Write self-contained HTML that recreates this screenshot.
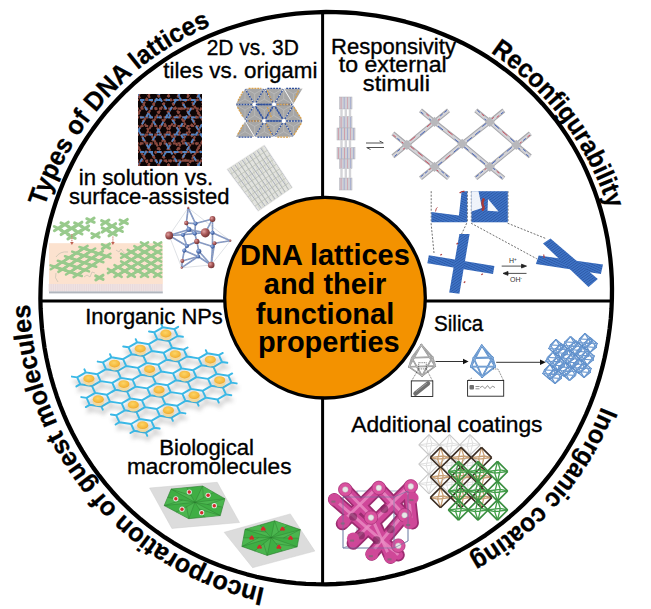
<!DOCTYPE html>
<html><head><meta charset="utf-8">
<style>
html,body{margin:0;padding:0;background:#fff;width:651px;height:609px;overflow:hidden}
svg{display:block}
.lbl{font-family:"Liberation Sans",sans-serif;font-size:22px;fill:#000;stroke:#000;stroke-width:0.35px}
.cur{font-family:"Liberation Sans",sans-serif;font-weight:bold;font-size:26px;fill:#000;stroke:#000;stroke-width:0.3px}
.ctr{font-family:"Liberation Sans",sans-serif;font-weight:bold;font-size:29px;fill:#000}
</style></head>
<body>
<svg width="651" height="609" viewBox="0 0 651 609">
<defs>
  <path id="arc" d="M 622 298.5 A 296 296 0 1 1 30 298.5 A 296 296 0 1 1 622 298.5"/>
</defs>
<rect width="651" height="609" fill="#fff"/>
<!-- IMAGES -->
<g><clipPath id="c1"><rect x="138" y="94" width="64" height="72"/></clipPath>
<rect x="138" y="94" width="64" height="72" fill="#0c0505"/>
<filter id="bl05"><feGaussianBlur stdDeviation="0.45"/></filter><g clip-path="url(#c1)"><g filter="url(#bl05)">
<g stroke="#c86a5c" stroke-width="2.2" stroke-dasharray="3 1.6" opacity="0.68"><line x1="21" y1="-21.2" x2="261" y2="-21.2"/><line x1="21" y1="-12.6" x2="261" y2="-12.6"/><line x1="21" y1="-3.9" x2="261" y2="-3.9"/><line x1="21" y1="4.7" x2="261" y2="4.7"/><line x1="21" y1="13.4" x2="261" y2="13.4"/><line x1="21" y1="22.1" x2="261" y2="22.1"/><line x1="21" y1="30.7" x2="261" y2="30.7"/><line x1="21" y1="39.4" x2="261" y2="39.4"/><line x1="21" y1="48" x2="261" y2="48"/><line x1="21" y1="56.7" x2="261" y2="56.7"/><line x1="21" y1="65.4" x2="261" y2="65.4"/><line x1="21" y1="74" x2="261" y2="74"/><line x1="21" y1="82.7" x2="261" y2="82.7"/><line x1="21" y1="91.3" x2="261" y2="91.3"/><line x1="21" y1="100" x2="261" y2="100"/><line x1="21" y1="108.7" x2="261" y2="108.7"/><line x1="21" y1="117.3" x2="261" y2="117.3"/><line x1="21" y1="126" x2="261" y2="126"/><line x1="21" y1="134.6" x2="261" y2="134.6"/><line x1="21" y1="143.3" x2="261" y2="143.3"/><line x1="21" y1="152" x2="261" y2="152"/><line x1="21" y1="160.6" x2="261" y2="160.6"/><line x1="21" y1="169.3" x2="261" y2="169.3"/><line x1="21" y1="177.9" x2="261" y2="177.9"/><line x1="21" y1="186.6" x2="261" y2="186.6"/><line x1="21" y1="195.3" x2="261" y2="195.3"/><line x1="21" y1="203.9" x2="261" y2="203.9"/><line x1="21" y1="212.6" x2="261" y2="212.6"/><line x1="21" y1="221.2" x2="261" y2="221.2"/><line x1="186" y1="-64.5" x2="306" y2="143.3"/><line x1="178.5" y1="-60.2" x2="298.5" y2="147.6"/><line x1="171" y1="-55.9" x2="291" y2="152"/><line x1="163.5" y1="-51.6" x2="283.5" y2="156.3"/><line x1="156" y1="-47.2" x2="276" y2="160.6"/><line x1="148.5" y1="-42.9" x2="268.5" y2="165"/><line x1="141" y1="-38.6" x2="261" y2="169.3"/><line x1="133.5" y1="-34.2" x2="253.5" y2="173.6"/><line x1="126" y1="-29.9" x2="246" y2="177.9"/><line x1="118.5" y1="-25.6" x2="238.5" y2="182.3"/><line x1="111" y1="-21.2" x2="231" y2="186.6"/><line x1="103.5" y1="-16.9" x2="223.5" y2="190.9"/><line x1="96" y1="-12.6" x2="216" y2="195.3"/><line x1="88.5" y1="-8.3" x2="208.5" y2="199.6"/><line x1="81" y1="-3.9" x2="201" y2="203.9"/><line x1="73.5" y1="0.4" x2="193.5" y2="208.3"/><line x1="66" y1="4.7" x2="186" y2="212.6"/><line x1="58.5" y1="9.1" x2="178.5" y2="216.9"/><line x1="51" y1="13.4" x2="171" y2="221.2"/><line x1="43.5" y1="17.7" x2="163.5" y2="225.6"/><line x1="36" y1="22.1" x2="156" y2="229.9"/><line x1="28.5" y1="26.4" x2="148.5" y2="234.2"/><line x1="21" y1="30.7" x2="141" y2="238.6"/><line x1="13.5" y1="35" x2="133.5" y2="242.9"/><line x1="6" y1="39.4" x2="126" y2="247.2"/><line x1="-1.5" y1="43.7" x2="118.5" y2="251.6"/><line x1="-9" y1="48" x2="111" y2="255.9"/><line x1="-16.5" y1="52.4" x2="103.5" y2="260.2"/><line x1="-24" y1="56.7" x2="96" y2="264.5"/><line x1="302.2" y1="54.5" x2="182.3" y2="262.4"/><line x1="294.8" y1="50.2" x2="174.8" y2="258"/><line x1="287.2" y1="45.9" x2="167.3" y2="253.7"/><line x1="279.8" y1="41.5" x2="159.8" y2="249.4"/><line x1="272.2" y1="37.2" x2="152.3" y2="245.1"/><line x1="264.8" y1="32.9" x2="144.8" y2="240.7"/><line x1="257.2" y1="28.6" x2="137.3" y2="236.4"/><line x1="249.7" y1="24.2" x2="129.8" y2="232.1"/><line x1="242.2" y1="19.9" x2="122.3" y2="227.7"/><line x1="234.7" y1="15.6" x2="114.8" y2="223.4"/><line x1="227.2" y1="11.2" x2="107.3" y2="219.1"/><line x1="219.7" y1="6.9" x2="99.8" y2="214.7"/><line x1="212.2" y1="2.6" x2="92.3" y2="210.4"/><line x1="204.7" y1="-1.8" x2="84.8" y2="206.1"/><line x1="197.2" y1="-6.1" x2="77.3" y2="201.8"/><line x1="189.7" y1="-10.4" x2="69.8" y2="197.4"/><line x1="182.2" y1="-14.7" x2="62.3" y2="193.1"/><line x1="174.7" y1="-19.1" x2="54.8" y2="188.8"/><line x1="167.2" y1="-23.4" x2="47.3" y2="184.4"/><line x1="159.7" y1="-27.7" x2="39.8" y2="180.1"/><line x1="152.2" y1="-32.1" x2="32.3" y2="175.8"/><line x1="144.7" y1="-36.4" x2="24.8" y2="171.4"/><line x1="137.2" y1="-40.7" x2="17.3" y2="167.1"/><line x1="129.7" y1="-45.1" x2="9.8" y2="162.8"/><line x1="122.2" y1="-49.4" x2="2.3" y2="158.5"/><line x1="114.7" y1="-53.7" x2="-5.2" y2="154.1"/><line x1="107.2" y1="-58" x2="-12.7" y2="149.8"/><line x1="99.7" y1="-62.4" x2="-20.2" y2="145.5"/><line x1="92.2" y1="-66.7" x2="-27.7" y2="141.1"/></g>
<g stroke="#4a90dc" stroke-width="1.8" stroke-dasharray="4.5 4" opacity="0.85"><line x1="21" y1="-21.2" x2="261" y2="-21.2"/><line x1="21" y1="-3.9" x2="261" y2="-3.9"/><line x1="21" y1="13.4" x2="261" y2="13.4"/><line x1="21" y1="30.7" x2="261" y2="30.7"/><line x1="21" y1="48" x2="261" y2="48"/><line x1="21" y1="65.4" x2="261" y2="65.4"/><line x1="21" y1="82.7" x2="261" y2="82.7"/><line x1="21" y1="100" x2="261" y2="100"/><line x1="21" y1="117.3" x2="261" y2="117.3"/><line x1="21" y1="134.6" x2="261" y2="134.6"/><line x1="21" y1="152" x2="261" y2="152"/><line x1="21" y1="169.3" x2="261" y2="169.3"/><line x1="21" y1="186.6" x2="261" y2="186.6"/><line x1="21" y1="203.9" x2="261" y2="203.9"/><line x1="21" y1="221.2" x2="261" y2="221.2"/><line x1="186" y1="-64.5" x2="306" y2="143.3"/><line x1="171" y1="-55.9" x2="291" y2="152"/><line x1="156" y1="-47.2" x2="276" y2="160.6"/><line x1="141" y1="-38.6" x2="261" y2="169.3"/><line x1="126" y1="-29.9" x2="246" y2="177.9"/><line x1="111" y1="-21.2" x2="231" y2="186.6"/><line x1="96" y1="-12.6" x2="216" y2="195.3"/><line x1="81" y1="-3.9" x2="201" y2="203.9"/><line x1="66" y1="4.7" x2="186" y2="212.6"/><line x1="51" y1="13.4" x2="171" y2="221.2"/><line x1="36" y1="22.1" x2="156" y2="229.9"/><line x1="21" y1="30.7" x2="141" y2="238.6"/><line x1="6" y1="39.4" x2="126" y2="247.2"/><line x1="-9" y1="48" x2="111" y2="255.9"/><line x1="-24" y1="56.7" x2="96" y2="264.5"/><line x1="302.2" y1="54.5" x2="182.3" y2="262.4"/><line x1="287.2" y1="45.9" x2="167.3" y2="253.7"/><line x1="272.2" y1="37.2" x2="152.3" y2="245.1"/><line x1="257.2" y1="28.6" x2="137.3" y2="236.4"/><line x1="242.2" y1="19.9" x2="122.3" y2="227.7"/><line x1="227.2" y1="11.2" x2="107.3" y2="219.1"/><line x1="212.2" y1="2.6" x2="92.3" y2="210.4"/><line x1="197.2" y1="-6.1" x2="77.3" y2="201.8"/><line x1="182.2" y1="-14.7" x2="62.3" y2="193.1"/><line x1="167.2" y1="-23.4" x2="47.3" y2="184.4"/><line x1="152.2" y1="-32.1" x2="32.3" y2="175.8"/><line x1="137.2" y1="-40.7" x2="17.3" y2="167.1"/><line x1="122.2" y1="-49.4" x2="2.3" y2="158.5"/><line x1="107.2" y1="-58" x2="-12.7" y2="149.8"/><line x1="92.2" y1="-66.7" x2="-27.7" y2="141.1"/></g>
</g></g></g>
<g>
<polygon points="293.4,105.2 284.4,120.7 302.4,120.7" fill="#a6a6a6"/>
<line x1="293.4" y1="115.5" x2="293.4" y2="105.2" stroke="#c4c4c4" stroke-width="0.6"/>
<line x1="293.4" y1="115.5" x2="284.4" y2="120.7" stroke="#c4c4c4" stroke-width="0.6"/>
<line x1="293.4" y1="115.5" x2="302.4" y2="120.7" stroke="#c4c4c4" stroke-width="0.6"/>
<polygon points="245,89.2 236,104.1 254,104.1" fill="#a6a6a6"/>
<line x1="245" y1="99.1" x2="245" y2="89.2" stroke="#c4c4c4" stroke-width="0.6"/>
<line x1="245" y1="99.1" x2="236" y2="104.1" stroke="#c4c4c4" stroke-width="0.6"/>
<line x1="245" y1="99.1" x2="254" y2="104.1" stroke="#c4c4c4" stroke-width="0.6"/>
<polygon points="264.3,121.8 255.3,136.7 273.3,136.7" fill="#a6a6a6"/>
<line x1="264.3" y1="131.7" x2="264.3" y2="121.8" stroke="#c4c4c4" stroke-width="0.6"/>
<line x1="264.3" y1="131.7" x2="255.3" y2="136.7" stroke="#c4c4c4" stroke-width="0.6"/>
<line x1="264.3" y1="131.7" x2="273.3" y2="136.7" stroke="#c4c4c4" stroke-width="0.6"/>
<polygon points="245.7,121.4 263.7,121.4 254.7,136.3" fill="#a6a6a6"/>
<line x1="254.7" y1="126.4" x2="245.7" y2="121.4" stroke="#c4c4c4" stroke-width="0.6"/>
<line x1="254.7" y1="126.4" x2="263.7" y2="121.4" stroke="#c4c4c4" stroke-width="0.6"/>
<line x1="254.7" y1="126.4" x2="254.7" y2="136.3" stroke="#c4c4c4" stroke-width="0.6"/>
<polygon points="283.7,89.2 274.7,104.1 292.7,104.1" fill="#a6a6a6"/>
<line x1="283.7" y1="99.1" x2="283.7" y2="89.2" stroke="#c4c4c4" stroke-width="0.6"/>
<line x1="283.7" y1="99.1" x2="274.7" y2="104.1" stroke="#c4c4c4" stroke-width="0.6"/>
<line x1="283.7" y1="99.1" x2="292.7" y2="104.1" stroke="#c4c4c4" stroke-width="0.6"/>
<polygon points="283.7,121.8 274.7,136.7 292.7,136.7" fill="#a6a6a6"/>
<line x1="283.7" y1="131.7" x2="283.7" y2="121.8" stroke="#c4c4c4" stroke-width="0.6"/>
<line x1="283.7" y1="131.7" x2="274.7" y2="136.7" stroke="#c4c4c4" stroke-width="0.6"/>
<line x1="283.7" y1="131.7" x2="292.7" y2="136.7" stroke="#c4c4c4" stroke-width="0.6"/>
<polygon points="245,121.8 236,136.7 254,136.7" fill="#a6a6a6"/>
<line x1="245" y1="131.7" x2="245" y2="121.8" stroke="#c4c4c4" stroke-width="0.6"/>
<line x1="245" y1="131.7" x2="236" y2="136.7" stroke="#c4c4c4" stroke-width="0.6"/>
<line x1="245" y1="131.7" x2="254" y2="136.7" stroke="#c4c4c4" stroke-width="0.6"/>
<polygon points="254.7,105.2 245.7,120.7 263.7,120.7" fill="#a6a6a6"/>
<line x1="254.7" y1="115.5" x2="254.7" y2="105.2" stroke="#c4c4c4" stroke-width="0.6"/>
<line x1="254.7" y1="115.5" x2="245.7" y2="120.7" stroke="#c4c4c4" stroke-width="0.6"/>
<line x1="254.7" y1="115.5" x2="263.7" y2="120.7" stroke="#c4c4c4" stroke-width="0.6"/>
<polygon points="265,121.4 283,121.4 274,136.3" fill="#a6a6a6"/>
<line x1="274" y1="126.4" x2="265" y2="121.4" stroke="#c4c4c4" stroke-width="0.6"/>
<line x1="274" y1="126.4" x2="283" y2="121.4" stroke="#c4c4c4" stroke-width="0.6"/>
<line x1="274" y1="126.4" x2="274" y2="136.3" stroke="#c4c4c4" stroke-width="0.6"/>
<polygon points="265,88.8 283,88.8 274,103.7" fill="#a6a6a6"/>
<line x1="274" y1="93.8" x2="265" y2="88.8" stroke="#c4c4c4" stroke-width="0.6"/>
<line x1="274" y1="93.8" x2="283" y2="88.8" stroke="#c4c4c4" stroke-width="0.6"/>
<line x1="274" y1="93.8" x2="274" y2="103.7" stroke="#c4c4c4" stroke-width="0.6"/>
<polygon points="274.7,104.8 292.7,104.8 283.7,120.3" fill="#a6a6a6"/>
<line x1="283.7" y1="110" x2="274.7" y2="104.8" stroke="#c4c4c4" stroke-width="0.6"/>
<line x1="283.7" y1="110" x2="292.7" y2="104.8" stroke="#c4c4c4" stroke-width="0.6"/>
<line x1="283.7" y1="110" x2="283.7" y2="120.3" stroke="#c4c4c4" stroke-width="0.6"/>
<polygon points="274,105.2 265,120.7 283,120.7" fill="#a6a6a6"/>
<line x1="274" y1="115.5" x2="274" y2="105.2" stroke="#c4c4c4" stroke-width="0.6"/>
<line x1="274" y1="115.5" x2="265" y2="120.7" stroke="#c4c4c4" stroke-width="0.6"/>
<line x1="274" y1="115.5" x2="283" y2="120.7" stroke="#c4c4c4" stroke-width="0.6"/>
<polygon points="284.4,121.4 302.4,121.4 293.4,136.3" fill="#a6a6a6"/>
<line x1="293.4" y1="126.4" x2="284.4" y2="121.4" stroke="#c4c4c4" stroke-width="0.6"/>
<line x1="293.4" y1="126.4" x2="302.4" y2="121.4" stroke="#c4c4c4" stroke-width="0.6"/>
<line x1="293.4" y1="126.4" x2="293.4" y2="136.3" stroke="#c4c4c4" stroke-width="0.6"/>
<polygon points="284.4,88.8 302.4,88.8 293.4,103.7" fill="#a6a6a6"/>
<line x1="293.4" y1="93.8" x2="284.4" y2="88.8" stroke="#c4c4c4" stroke-width="0.6"/>
<line x1="293.4" y1="93.8" x2="302.4" y2="88.8" stroke="#c4c4c4" stroke-width="0.6"/>
<line x1="293.4" y1="93.8" x2="293.4" y2="103.7" stroke="#c4c4c4" stroke-width="0.6"/>
<polygon points="264.3,89.2 255.3,104.1 273.3,104.1" fill="#a6a6a6"/>
<line x1="264.3" y1="99.1" x2="264.3" y2="89.2" stroke="#c4c4c4" stroke-width="0.6"/>
<line x1="264.3" y1="99.1" x2="255.3" y2="104.1" stroke="#c4c4c4" stroke-width="0.6"/>
<line x1="264.3" y1="99.1" x2="273.3" y2="104.1" stroke="#c4c4c4" stroke-width="0.6"/>
<polygon points="236,104.8 254,104.8 245,120.3" fill="#a6a6a6"/>
<line x1="245" y1="110" x2="236" y2="104.8" stroke="#c4c4c4" stroke-width="0.6"/>
<line x1="245" y1="110" x2="254" y2="104.8" stroke="#c4c4c4" stroke-width="0.6"/>
<line x1="245" y1="110" x2="245" y2="120.3" stroke="#c4c4c4" stroke-width="0.6"/>
<polygon points="245.7,88.8 263.7,88.8 254.7,103.7" fill="#a6a6a6"/>
<line x1="254.7" y1="93.8" x2="245.7" y2="88.8" stroke="#c4c4c4" stroke-width="0.6"/>
<line x1="254.7" y1="93.8" x2="263.7" y2="88.8" stroke="#c4c4c4" stroke-width="0.6"/>
<line x1="254.7" y1="93.8" x2="254.7" y2="103.7" stroke="#c4c4c4" stroke-width="0.6"/>
<polygon points="255.3,104.8 273.3,104.8 264.3,120.3" fill="#a6a6a6"/>
<line x1="264.3" y1="110" x2="255.3" y2="104.8" stroke="#c4c4c4" stroke-width="0.6"/>
<line x1="264.3" y1="110" x2="273.3" y2="104.8" stroke="#c4c4c4" stroke-width="0.6"/>
<line x1="264.3" y1="110" x2="264.3" y2="120.3" stroke="#c4c4c4" stroke-width="0.6"/>
<line x1="257.1" y1="104.5" x2="272.9" y2="104.5" stroke="#2e4f9c" stroke-width="1.3" stroke-dasharray="2 0.9"/>
<line x1="255.9" y1="106.5" x2="263.8" y2="119.5" stroke="#2e4f9c" stroke-width="1.3" stroke-dasharray="2 0.9"/>
<line x1="253.5" y1="106.5" x2="245.5" y2="119.5" stroke="#2e4f9c" stroke-width="1.3" stroke-dasharray="2 0.9"/>
<line x1="252.2" y1="104.5" x2="236.4" y2="104.5" stroke="#2e4f9c" stroke-width="1.3" stroke-dasharray="2 0.9"/>
<line x1="253.5" y1="102.5" x2="245.5" y2="89.4" stroke="#2e4f9c" stroke-width="1.3" stroke-dasharray="2 0.9"/>
<line x1="255.9" y1="102.5" x2="263.8" y2="89.4" stroke="#2e4f9c" stroke-width="1.3" stroke-dasharray="2 0.9"/>
<circle cx="254.7" cy="104.5" r="2" fill="#fff"/>
<line x1="276.5" y1="104.5" x2="292.3" y2="104.5" stroke="#2e4f9c" stroke-width="1.3" stroke-dasharray="2 0.9"/>
<line x1="275.2" y1="106.5" x2="283.2" y2="119.5" stroke="#2e4f9c" stroke-width="1.3" stroke-dasharray="2 0.9"/>
<line x1="272.8" y1="106.5" x2="264.9" y2="119.5" stroke="#2e4f9c" stroke-width="1.3" stroke-dasharray="2 0.9"/>
<line x1="271.6" y1="104.5" x2="255.8" y2="104.5" stroke="#2e4f9c" stroke-width="1.3" stroke-dasharray="2 0.9"/>
<line x1="272.8" y1="102.5" x2="264.9" y2="89.4" stroke="#2e4f9c" stroke-width="1.3" stroke-dasharray="2 0.9"/>
<line x1="275.2" y1="102.5" x2="283.2" y2="89.4" stroke="#2e4f9c" stroke-width="1.3" stroke-dasharray="2 0.9"/>
<circle cx="274" cy="104.5" r="2" fill="#fff"/>
<line x1="266.8" y1="121" x2="282.6" y2="121" stroke="#2e4f9c" stroke-width="1.3" stroke-dasharray="2 0.9"/>
<line x1="265.6" y1="123.1" x2="273.5" y2="136.1" stroke="#2e4f9c" stroke-width="1.3" stroke-dasharray="2 0.9"/>
<line x1="263.1" y1="123.1" x2="255.2" y2="136.1" stroke="#2e4f9c" stroke-width="1.3" stroke-dasharray="2 0.9"/>
<line x1="261.9" y1="121" x2="246.1" y2="121" stroke="#2e4f9c" stroke-width="1.3" stroke-dasharray="2 0.9"/>
<line x1="263.1" y1="119" x2="255.2" y2="106" stroke="#2e4f9c" stroke-width="1.3" stroke-dasharray="2 0.9"/>
<line x1="265.6" y1="119" x2="273.5" y2="106" stroke="#2e4f9c" stroke-width="1.3" stroke-dasharray="2 0.9"/>
<circle cx="264.3" cy="121" r="2" fill="#fff"/>
<line x1="286.1" y1="121" x2="302" y2="121" stroke="#2e4f9c" stroke-width="1.3" stroke-dasharray="2 0.9"/>
<line x1="284.9" y1="123.1" x2="292.8" y2="136.1" stroke="#2e4f9c" stroke-width="1.3" stroke-dasharray="2 0.9"/>
<line x1="282.5" y1="123.1" x2="274.6" y2="136.1" stroke="#2e4f9c" stroke-width="1.3" stroke-dasharray="2 0.9"/>
<line x1="281.3" y1="121" x2="265.5" y2="121" stroke="#2e4f9c" stroke-width="1.3" stroke-dasharray="2 0.9"/>
<line x1="282.5" y1="119" x2="274.6" y2="106" stroke="#2e4f9c" stroke-width="1.3" stroke-dasharray="2 0.9"/>
<line x1="284.9" y1="119" x2="292.8" y2="106" stroke="#2e4f9c" stroke-width="1.3" stroke-dasharray="2 0.9"/>
<circle cx="283.7" cy="121" r="2" fill="#fff"/>
<line x1="248.6" y1="88.4" x2="261.3" y2="88.4" stroke="#d9a04a" stroke-width="1.3" stroke-dasharray="2 0.9"/>
<line x1="243.1" y1="91.2" x2="237.5" y2="101.7" stroke="#d9a04a" stroke-width="1.3" stroke-dasharray="2 0.9"/>
<line x1="237.5" y1="107.2" x2="243.1" y2="117.2" stroke="#d9a04a" stroke-width="1.3" stroke-dasharray="2 0.9"/>
<line x1="248.6" y1="121" x2="260.8" y2="121" stroke="#d9a04a" stroke-width="1.3" stroke-dasharray="2 0.9"/>
<line x1="276.8" y1="104.5" x2="289.5" y2="104.5" stroke="#d9a04a" stroke-width="1.3" stroke-dasharray="2 0.9"/>
<line x1="267.4" y1="90.6" x2="271.8" y2="101.7" stroke="#d9a04a" stroke-width="1.3" stroke-dasharray="2 0.9"/>
<line x1="267.4" y1="107.2" x2="271.8" y2="118.3" stroke="#d9a04a" stroke-width="1.3" stroke-dasharray="2 0.9"/>
<line x1="243.1" y1="124.9" x2="237.5" y2="134.9" stroke="#d9a04a" stroke-width="1.3" stroke-dasharray="2 0.9"/>
<line x1="277.3" y1="137.1" x2="289.5" y2="137.1" stroke="#d9a04a" stroke-width="1.3" stroke-dasharray="2 0.9"/>
<line x1="293.9" y1="107.2" x2="301.7" y2="119.4" stroke="#d9a04a" stroke-width="1.3" stroke-dasharray="2 0.9"/>
<line x1="293.9" y1="134.9" x2="301.7" y2="122.7" stroke="#d9a04a" stroke-width="1.3" stroke-dasharray="2 0.9"/>
<line x1="266.3" y1="123.8" x2="271.8" y2="134.9" stroke="#d9a04a" stroke-width="1.3" stroke-dasharray="2 0.9"/>
<line x1="298.4" y1="90.6" x2="293.9" y2="101.7" stroke="#d9a04a" stroke-width="1.3" stroke-dasharray="2 0.9"/>
<line x1="267.4" y1="88.4" x2="280.7" y2="88.4" stroke="#2e4f9c" stroke-width="1.3" stroke-dasharray="2 0.9"/>
<line x1="286.2" y1="88.4" x2="299.5" y2="88.4" stroke="#2e4f9c" stroke-width="1.3" stroke-dasharray="2 0.9"/>
<line x1="238.6" y1="137.1" x2="251.9" y2="137.1" stroke="#2e4f9c" stroke-width="1.3" stroke-dasharray="2 0.9"/>
<line x1="257.4" y1="137.1" x2="270.7" y2="137.1" stroke="#2e4f9c" stroke-width="1.3" stroke-dasharray="2 0.9"/>
</g>
<g>
<polygon points="264.3,145.5 292,187.4 258.2,210.8 227.4,169.5" fill="#e2e3de" stroke="#ebebeb" stroke-width="1.5" stroke-linejoin="round"/>
<clipPath id="c3"><polygon points="264.3,145.5 292,187.4 258.2,210.8 227.4,169.5"/></clipPath><g clip-path="url(#c3)">
<line x1="227.4" y1="169.5" x2="258.2" y2="210.8" stroke="#9aa0b0" stroke-width="0.8"/>
<line x1="231.1" y1="167.1" x2="261.6" y2="208.5" stroke="#9aa0b0" stroke-width="0.8"/>
<line x1="234.8" y1="164.7" x2="265" y2="206.1" stroke="#9aa0b0" stroke-width="0.8"/>
<line x1="238.5" y1="162.3" x2="268.3" y2="203.8" stroke="#9aa0b0" stroke-width="0.8"/>
<line x1="242.2" y1="159.9" x2="271.7" y2="201.4" stroke="#9aa0b0" stroke-width="0.8"/>
<line x1="245.9" y1="157.5" x2="275.1" y2="199.1" stroke="#9aa0b0" stroke-width="0.8"/>
<line x1="249.5" y1="155.1" x2="278.5" y2="196.8" stroke="#9aa0b0" stroke-width="0.8"/>
<line x1="253.2" y1="152.7" x2="281.9" y2="194.4" stroke="#9aa0b0" stroke-width="0.8"/>
<line x1="256.9" y1="150.3" x2="285.2" y2="192.1" stroke="#9aa0b0" stroke-width="0.8"/>
<line x1="260.6" y1="147.9" x2="288.6" y2="189.7" stroke="#9aa0b0" stroke-width="0.8"/>
<line x1="264.3" y1="145.5" x2="292" y2="187.4" stroke="#9aa0b0" stroke-width="0.8"/>
<line x1="227.4" y1="169.5" x2="264.3" y2="145.5" stroke="#b4b8aa" stroke-width="0.6"/>
<line x1="230.8" y1="174.1" x2="267.4" y2="150.2" stroke="#b4b8aa" stroke-width="0.6"/>
<line x1="234.2" y1="178.7" x2="270.5" y2="154.8" stroke="#b4b8aa" stroke-width="0.6"/>
<line x1="237.7" y1="183.3" x2="273.5" y2="159.5" stroke="#b4b8aa" stroke-width="0.6"/>
<line x1="241.1" y1="187.9" x2="276.6" y2="164.1" stroke="#b4b8aa" stroke-width="0.6"/>
<line x1="244.5" y1="192.4" x2="279.7" y2="168.8" stroke="#b4b8aa" stroke-width="0.6"/>
<line x1="247.9" y1="197" x2="282.8" y2="173.4" stroke="#b4b8aa" stroke-width="0.6"/>
<line x1="251.4" y1="201.6" x2="285.8" y2="178.1" stroke="#b4b8aa" stroke-width="0.6"/>
<line x1="254.8" y1="206.2" x2="288.9" y2="182.7" stroke="#b4b8aa" stroke-width="0.6"/>
<line x1="258.2" y1="210.8" x2="292" y2="187.4" stroke="#b4b8aa" stroke-width="0.6"/>
<line x1="187.0" y1="140" x2="217.0" y2="215" stroke="#c2c6b8" stroke-width="0.5"/>
<line x1="191.5" y1="140" x2="221.5" y2="215" stroke="#c2c6b8" stroke-width="0.5"/>
<line x1="196.0" y1="140" x2="226.0" y2="215" stroke="#c2c6b8" stroke-width="0.5"/>
<line x1="200.5" y1="140" x2="230.5" y2="215" stroke="#c2c6b8" stroke-width="0.5"/>
<line x1="205.0" y1="140" x2="235.0" y2="215" stroke="#c2c6b8" stroke-width="0.5"/>
<line x1="209.5" y1="140" x2="239.5" y2="215" stroke="#c2c6b8" stroke-width="0.5"/>
<line x1="214.0" y1="140" x2="244.0" y2="215" stroke="#c2c6b8" stroke-width="0.5"/>
<line x1="218.5" y1="140" x2="248.5" y2="215" stroke="#c2c6b8" stroke-width="0.5"/>
<line x1="223.0" y1="140" x2="253.0" y2="215" stroke="#c2c6b8" stroke-width="0.5"/>
<line x1="227.5" y1="140" x2="257.5" y2="215" stroke="#c2c6b8" stroke-width="0.5"/>
<line x1="232.0" y1="140" x2="262.0" y2="215" stroke="#c2c6b8" stroke-width="0.5"/>
<line x1="236.5" y1="140" x2="266.5" y2="215" stroke="#c2c6b8" stroke-width="0.5"/>
<line x1="241.0" y1="140" x2="271.0" y2="215" stroke="#c2c6b8" stroke-width="0.5"/>
<line x1="245.5" y1="140" x2="275.5" y2="215" stroke="#c2c6b8" stroke-width="0.5"/>
<line x1="250.0" y1="140" x2="280.0" y2="215" stroke="#c2c6b8" stroke-width="0.5"/>
<line x1="254.5" y1="140" x2="284.5" y2="215" stroke="#c2c6b8" stroke-width="0.5"/>
<line x1="259.0" y1="140" x2="289.0" y2="215" stroke="#c2c6b8" stroke-width="0.5"/>
<line x1="263.5" y1="140" x2="293.5" y2="215" stroke="#c2c6b8" stroke-width="0.5"/>
<line x1="268.0" y1="140" x2="298.0" y2="215" stroke="#c2c6b8" stroke-width="0.5"/>
<line x1="272.5" y1="140" x2="302.5" y2="215" stroke="#c2c6b8" stroke-width="0.5"/>
<line x1="277.0" y1="140" x2="307.0" y2="215" stroke="#c2c6b8" stroke-width="0.5"/>
<line x1="281.5" y1="140" x2="311.5" y2="215" stroke="#c2c6b8" stroke-width="0.5"/>
<line x1="286.0" y1="140" x2="316.0" y2="215" stroke="#c2c6b8" stroke-width="0.5"/>
<line x1="290.5" y1="140" x2="320.5" y2="215" stroke="#c2c6b8" stroke-width="0.5"/>
<line x1="295.0" y1="140" x2="325.0" y2="215" stroke="#c2c6b8" stroke-width="0.5"/>
<line x1="299.5" y1="140" x2="329.5" y2="215" stroke="#c2c6b8" stroke-width="0.5"/>
<line x1="304.0" y1="140" x2="334.0" y2="215" stroke="#c2c6b8" stroke-width="0.5"/>
<line x1="308.5" y1="140" x2="338.5" y2="215" stroke="#c2c6b8" stroke-width="0.5"/>
<line x1="313.0" y1="140" x2="343.0" y2="215" stroke="#c2c6b8" stroke-width="0.5"/>
</g></g>
<g>
<rect x="49" y="243.2" width="113.8" height="40.8" fill="#fce2cf"/>
<rect x="49" y="284" width="113.8" height="7.4" fill="#efe3e3"/>
<g stroke="#e2cfd2" stroke-width="0.5"><line x1="49.0" y1="284" x2="49.0" y2="291.4"/><line x1="51.2" y1="284" x2="51.2" y2="291.4"/><line x1="53.4" y1="284" x2="53.4" y2="291.4"/><line x1="55.6" y1="284" x2="55.6" y2="291.4"/><line x1="57.8" y1="284" x2="57.8" y2="291.4"/><line x1="60.0" y1="284" x2="60.0" y2="291.4"/><line x1="62.2" y1="284" x2="62.2" y2="291.4"/><line x1="64.4" y1="284" x2="64.4" y2="291.4"/><line x1="66.6" y1="284" x2="66.6" y2="291.4"/><line x1="68.8" y1="284" x2="68.8" y2="291.4"/><line x1="71.0" y1="284" x2="71.0" y2="291.4"/><line x1="73.2" y1="284" x2="73.2" y2="291.4"/><line x1="75.4" y1="284" x2="75.4" y2="291.4"/><line x1="77.6" y1="284" x2="77.6" y2="291.4"/><line x1="79.8" y1="284" x2="79.8" y2="291.4"/><line x1="82.0" y1="284" x2="82.0" y2="291.4"/><line x1="84.2" y1="284" x2="84.2" y2="291.4"/><line x1="86.4" y1="284" x2="86.4" y2="291.4"/><line x1="88.6" y1="284" x2="88.6" y2="291.4"/><line x1="90.8" y1="284" x2="90.8" y2="291.4"/><line x1="93.0" y1="284" x2="93.0" y2="291.4"/><line x1="95.2" y1="284" x2="95.2" y2="291.4"/><line x1="97.4" y1="284" x2="97.4" y2="291.4"/><line x1="99.6" y1="284" x2="99.6" y2="291.4"/><line x1="101.8" y1="284" x2="101.8" y2="291.4"/><line x1="104.0" y1="284" x2="104.0" y2="291.4"/><line x1="106.2" y1="284" x2="106.2" y2="291.4"/><line x1="108.4" y1="284" x2="108.4" y2="291.4"/><line x1="110.6" y1="284" x2="110.6" y2="291.4"/><line x1="112.8" y1="284" x2="112.8" y2="291.4"/><line x1="115.0" y1="284" x2="115.0" y2="291.4"/><line x1="117.2" y1="284" x2="117.2" y2="291.4"/><line x1="119.4" y1="284" x2="119.4" y2="291.4"/><line x1="121.6" y1="284" x2="121.6" y2="291.4"/><line x1="123.8" y1="284" x2="123.8" y2="291.4"/><line x1="126.0" y1="284" x2="126.0" y2="291.4"/><line x1="128.2" y1="284" x2="128.2" y2="291.4"/><line x1="130.4" y1="284" x2="130.4" y2="291.4"/><line x1="132.6" y1="284" x2="132.6" y2="291.4"/><line x1="134.8" y1="284" x2="134.8" y2="291.4"/><line x1="137.0" y1="284" x2="137.0" y2="291.4"/><line x1="139.2" y1="284" x2="139.2" y2="291.4"/><line x1="141.4" y1="284" x2="141.4" y2="291.4"/><line x1="143.6" y1="284" x2="143.6" y2="291.4"/><line x1="145.8" y1="284" x2="145.8" y2="291.4"/><line x1="148.0" y1="284" x2="148.0" y2="291.4"/><line x1="150.2" y1="284" x2="150.2" y2="291.4"/><line x1="152.4" y1="284" x2="152.4" y2="291.4"/><line x1="154.6" y1="284" x2="154.6" y2="291.4"/><line x1="156.8" y1="284" x2="156.8" y2="291.4"/><line x1="159.0" y1="284" x2="159.0" y2="291.4"/><line x1="161.2" y1="284" x2="161.2" y2="291.4"/></g>
<rect x="49" y="291.4" width="113.8" height="2" fill="#b2b6be"/>
<g stroke="#98ca8c" stroke-width="2.5" stroke-linecap="round"><line x1="50.8" y1="269.3" x2="58.8" y2="264.3"/><line x1="50.6" y1="265.4" x2="59" y2="268.2"/><line x1="54.8" y1="266.8" x2="62" y2="262.2"/><line x1="54.8" y1="266.8" x2="62.4" y2="269.4"/><line x1="58.4" y1="271.9" x2="66.4" y2="266.9"/><line x1="58.2" y1="268" x2="66.6" y2="270.8"/><line x1="62.4" y1="269.4" x2="69.6" y2="264.8"/><line x1="62.4" y1="269.4" x2="70" y2="272"/><line x1="66" y1="274.5" x2="74" y2="269.5"/><line x1="65.8" y1="270.6" x2="74.2" y2="273.4"/><line x1="70" y1="272" x2="77.2" y2="267.4"/><line x1="70" y1="272" x2="77.6" y2="274.6"/><line x1="73.6" y1="277.1" x2="81.6" y2="272.1"/><line x1="73.4" y1="273.2" x2="81.8" y2="276"/><line x1="77.6" y1="274.6" x2="84.8" y2="270"/><line x1="58" y1="264.7" x2="66" y2="259.7"/><line x1="57.8" y1="260.8" x2="66.2" y2="263.6"/><line x1="62" y1="262.2" x2="69.2" y2="257.6"/><line x1="62" y1="262.2" x2="69.6" y2="264.8"/><line x1="65.6" y1="267.3" x2="73.6" y2="262.3"/><line x1="65.4" y1="263.4" x2="73.8" y2="266.2"/><line x1="69.6" y1="264.8" x2="76.8" y2="260.2"/><line x1="69.6" y1="264.8" x2="77.2" y2="267.4"/><line x1="73.2" y1="269.9" x2="81.2" y2="264.9"/><line x1="73" y1="266" x2="81.4" y2="268.8"/><line x1="77.2" y1="267.4" x2="84.4" y2="262.8"/><line x1="77.2" y1="267.4" x2="84.8" y2="270"/><line x1="80.8" y1="272.5" x2="88.8" y2="267.5"/><line x1="80.6" y1="268.6" x2="89" y2="271.4"/><line x1="84.8" y1="270" x2="92" y2="265.4"/><line x1="65.2" y1="260.1" x2="73.2" y2="255.1"/><line x1="65" y1="256.2" x2="73.4" y2="259"/><line x1="69.2" y1="257.6" x2="76.4" y2="253"/><line x1="69.2" y1="257.6" x2="76.8" y2="260.2"/><line x1="72.8" y1="262.7" x2="80.8" y2="257.7"/><line x1="72.6" y1="258.8" x2="81" y2="261.6"/><line x1="76.8" y1="260.2" x2="84" y2="255.6"/><line x1="76.8" y1="260.2" x2="84.4" y2="262.8"/><line x1="80.4" y1="265.3" x2="88.4" y2="260.3"/><line x1="80.2" y1="261.4" x2="88.6" y2="264.2"/><line x1="84.4" y1="262.8" x2="91.6" y2="258.2"/><line x1="84.4" y1="262.8" x2="92" y2="265.4"/><line x1="88" y1="267.9" x2="96" y2="262.9"/><line x1="87.8" y1="264" x2="96.2" y2="266.8"/><line x1="92" y1="265.4" x2="99.2" y2="260.8"/><line x1="72.4" y1="255.5" x2="80.4" y2="250.5"/><line x1="72.2" y1="251.6" x2="80.6" y2="254.4"/><line x1="76.4" y1="253" x2="83.6" y2="248.4"/><line x1="76.4" y1="253" x2="84" y2="255.6"/><line x1="80" y1="258.1" x2="88" y2="253.1"/><line x1="79.8" y1="254.2" x2="88.2" y2="257"/><line x1="84" y1="255.6" x2="91.2" y2="251"/><line x1="84" y1="255.6" x2="91.6" y2="258.2"/><line x1="87.6" y1="260.7" x2="95.6" y2="255.7"/><line x1="87.4" y1="256.8" x2="95.8" y2="259.6"/><line x1="91.6" y1="258.2" x2="98.8" y2="253.6"/><line x1="91.6" y1="258.2" x2="99.2" y2="260.8"/><line x1="95.2" y1="263.3" x2="103.2" y2="258.3"/><line x1="95" y1="259.4" x2="103.4" y2="262.2"/><line x1="99.2" y1="260.8" x2="106.4" y2="256.2"/><line x1="79.6" y1="250.9" x2="87.6" y2="245.9"/><line x1="79.4" y1="247" x2="87.8" y2="249.8"/><line x1="83.6" y1="248.4" x2="91.2" y2="251"/><line x1="87.2" y1="253.5" x2="95.2" y2="248.5"/><line x1="87" y1="249.6" x2="95.4" y2="252.4"/><line x1="91.2" y1="251" x2="98.8" y2="253.6"/><line x1="94.8" y1="256.1" x2="102.8" y2="251.1"/><line x1="94.6" y1="252.2" x2="103" y2="255"/><line x1="98.8" y1="253.6" x2="106.4" y2="256.2"/><line x1="102.4" y1="258.7" x2="110.4" y2="253.7"/><line x1="102.2" y1="254.8" x2="110.6" y2="257.6"/></g>
<clipPath id="c4"><rect x="40" y="200" width="122.8" height="100"/></clipPath>
<g clip-path="url(#c4)" stroke="#98ca8c" stroke-width="2.5" stroke-linecap="round"><line x1="127.7" y1="254.1" x2="134.9" y2="249.9"/><line x1="127.7" y1="249.9" x2="134.9" y2="254.1"/><line x1="131.3" y1="252" x2="137.9" y2="255.8"/><line x1="131.3" y1="252" x2="137.9" y2="248.2"/><line x1="134.3" y1="250.3" x2="141.5" y2="246.1"/><line x1="134.3" y1="246.1" x2="141.5" y2="250.3"/><line x1="137.9" y1="248.2" x2="144.5" y2="252"/><line x1="137.9" y1="248.2" x2="144.5" y2="244.4"/><line x1="134.3" y1="273.1" x2="141.5" y2="268.9"/><line x1="134.3" y1="268.9" x2="141.5" y2="273.1"/><line x1="137.9" y1="271" x2="144.5" y2="274.8"/><line x1="137.9" y1="271" x2="144.5" y2="267.2"/><line x1="127.7" y1="269.3" x2="134.9" y2="265.1"/><line x1="127.7" y1="265.1" x2="134.9" y2="269.3"/><line x1="131.3" y1="267.2" x2="137.9" y2="271"/><line x1="131.3" y1="267.2" x2="137.9" y2="263.4"/><line x1="140.9" y1="254.1" x2="148.1" y2="249.9"/><line x1="140.9" y1="249.9" x2="148.1" y2="254.1"/><line x1="144.5" y1="252" x2="151.1" y2="255.8"/><line x1="144.5" y1="252" x2="151.1" y2="248.2"/><line x1="127.7" y1="276.9" x2="134.9" y2="272.7"/><line x1="127.7" y1="272.7" x2="134.9" y2="276.9"/><line x1="131.3" y1="274.8" x2="137.9" y2="271"/><line x1="140.9" y1="269.3" x2="148.1" y2="265.1"/><line x1="140.9" y1="265.1" x2="148.1" y2="269.3"/><line x1="144.5" y1="267.2" x2="151.1" y2="271"/><line x1="144.5" y1="267.2" x2="151.1" y2="263.4"/><line x1="140.9" y1="276.9" x2="148.1" y2="272.7"/><line x1="140.9" y1="272.7" x2="148.1" y2="276.9"/><line x1="144.5" y1="274.8" x2="151.1" y2="271"/><line x1="121.1" y1="257.9" x2="128.3" y2="253.7"/><line x1="121.1" y1="253.7" x2="128.3" y2="257.9"/><line x1="124.7" y1="255.8" x2="131.3" y2="259.6"/><line x1="124.7" y1="255.8" x2="131.3" y2="252"/><line x1="154.1" y1="254.1" x2="161.3" y2="249.9"/><line x1="154.1" y1="249.9" x2="161.3" y2="254.1"/><line x1="154.1" y1="269.3" x2="161.3" y2="265.1"/><line x1="154.1" y1="265.1" x2="161.3" y2="269.3"/><line x1="147.5" y1="257.9" x2="154.7" y2="253.7"/><line x1="147.5" y1="253.7" x2="154.7" y2="257.9"/><line x1="151.1" y1="255.8" x2="157.7" y2="259.6"/><line x1="151.1" y1="255.8" x2="157.7" y2="252"/><line x1="154.1" y1="276.9" x2="161.3" y2="272.7"/><line x1="154.1" y1="272.7" x2="161.3" y2="276.9"/><line x1="127.7" y1="261.7" x2="134.9" y2="257.5"/><line x1="127.7" y1="257.5" x2="134.9" y2="261.7"/><line x1="131.3" y1="259.6" x2="137.9" y2="263.4"/><line x1="131.3" y1="259.6" x2="137.9" y2="255.8"/><line x1="134.3" y1="257.9" x2="141.5" y2="253.7"/><line x1="134.3" y1="253.7" x2="141.5" y2="257.9"/><line x1="137.9" y1="255.8" x2="144.5" y2="259.6"/><line x1="137.9" y1="255.8" x2="144.5" y2="252"/><line x1="140.9" y1="261.7" x2="148.1" y2="257.5"/><line x1="140.9" y1="257.5" x2="148.1" y2="261.7"/><line x1="144.5" y1="259.6" x2="151.1" y2="263.4"/><line x1="144.5" y1="259.6" x2="151.1" y2="255.8"/><line x1="121.1" y1="265.5" x2="128.3" y2="261.3"/><line x1="121.1" y1="261.3" x2="128.3" y2="265.5"/><line x1="124.7" y1="263.4" x2="131.3" y2="267.2"/><line x1="124.7" y1="263.4" x2="131.3" y2="259.6"/><line x1="154.1" y1="261.7" x2="161.3" y2="257.5"/><line x1="154.1" y1="257.5" x2="161.3" y2="261.7"/><line x1="147.5" y1="265.5" x2="154.7" y2="261.3"/><line x1="147.5" y1="261.3" x2="154.7" y2="265.5"/><line x1="151.1" y1="263.4" x2="157.7" y2="267.2"/><line x1="151.1" y1="263.4" x2="157.7" y2="259.6"/><line x1="134.3" y1="265.5" x2="141.5" y2="261.3"/><line x1="134.3" y1="261.3" x2="141.5" y2="265.5"/><line x1="137.9" y1="263.4" x2="144.5" y2="267.2"/><line x1="137.9" y1="263.4" x2="144.5" y2="259.6"/><line x1="140.9" y1="246.5" x2="148.1" y2="242.3"/><line x1="140.9" y1="242.3" x2="148.1" y2="246.5"/><line x1="144.5" y1="244.4" x2="151.1" y2="248.2"/><line x1="107.9" y1="273.1" x2="115.1" y2="268.9"/><line x1="107.9" y1="268.9" x2="115.1" y2="273.1"/><line x1="111.5" y1="271" x2="118.1" y2="274.8"/><line x1="111.5" y1="271" x2="118.1" y2="267.2"/><line x1="114.5" y1="276.9" x2="121.7" y2="272.7"/><line x1="114.5" y1="272.7" x2="121.7" y2="276.9"/><line x1="118.1" y1="274.8" x2="124.7" y2="271"/><line x1="121.1" y1="273.1" x2="128.3" y2="268.9"/><line x1="121.1" y1="268.9" x2="128.3" y2="273.1"/><line x1="124.7" y1="271" x2="131.3" y2="274.8"/><line x1="124.7" y1="271" x2="131.3" y2="267.2"/><line x1="114.5" y1="269.3" x2="121.7" y2="265.1"/><line x1="114.5" y1="265.1" x2="121.7" y2="269.3"/><line x1="118.1" y1="267.2" x2="124.7" y2="271"/><line x1="118.1" y1="267.2" x2="124.7" y2="263.4"/><line x1="147.5" y1="250.3" x2="154.7" y2="246.1"/><line x1="147.5" y1="246.1" x2="154.7" y2="250.3"/><line x1="151.1" y1="248.2" x2="157.7" y2="252"/><line x1="151.1" y1="248.2" x2="157.7" y2="244.4"/><line x1="154.1" y1="246.5" x2="161.3" y2="242.3"/><line x1="154.1" y1="242.3" x2="161.3" y2="246.5"/><line x1="147.5" y1="273.1" x2="154.7" y2="268.9"/><line x1="147.5" y1="268.9" x2="154.7" y2="273.1"/><line x1="151.1" y1="271" x2="157.7" y2="274.8"/><line x1="151.1" y1="271" x2="157.7" y2="267.2"/></g>
<g stroke="#98ca8c" stroke-width="3" stroke-linecap="round"><line x1="54.4" y1="230.7" x2="61.6" y2="225.9"/><line x1="54.3" y1="226.5" x2="61.7" y2="230.1"/></g>
<g stroke="#98ca8c" stroke-width="3" stroke-linecap="round"><line x1="61.1" y1="227" x2="68.3" y2="222.2"/><line x1="61" y1="222.8" x2="68.4" y2="226.4"/></g>
<g stroke="#98ca8c" stroke-width="3" stroke-linecap="round"><line x1="67.9" y1="230.7" x2="75.1" y2="225.9"/><line x1="67.8" y1="226.5" x2="75.2" y2="230.1"/></g>
<g stroke="#98ca8c" stroke-width="3" stroke-linecap="round"><line x1="74.7" y1="227" x2="81.9" y2="222.2"/><line x1="74.6" y1="222.8" x2="82" y2="226.4"/></g>
<g stroke="#98ca8c" stroke-width="3" stroke-linecap="round"><line x1="81.4" y1="230.7" x2="88.6" y2="225.9"/><line x1="81.3" y1="226.5" x2="88.7" y2="230.1"/></g>
<g stroke="#98ca8c" stroke-width="3" stroke-linecap="round"><line x1="61.1" y1="234.6" x2="68.3" y2="229.8"/><line x1="61" y1="230.4" x2="68.4" y2="234"/></g>
<g stroke="#98ca8c" stroke-width="3" stroke-linecap="round"><line x1="74.7" y1="234.6" x2="81.9" y2="229.8"/><line x1="74.6" y1="230.4" x2="82" y2="234"/></g>
<g stroke="#98ca8c" stroke-width="3" stroke-linecap="round"><line x1="67.9" y1="238.9" x2="75.1" y2="234.1"/><line x1="67.8" y1="234.7" x2="75.2" y2="238.3"/></g>
<g stroke="#98ca8c" stroke-width="3" stroke-linecap="round"><line x1="101.7" y1="224.8" x2="108.9" y2="220"/><line x1="101.6" y1="220.6" x2="109" y2="224.2"/></g>
<g stroke="#98ca8c" stroke-width="3" stroke-linecap="round"><line x1="108.4" y1="228.5" x2="115.6" y2="223.7"/><line x1="108.3" y1="224.3" x2="115.7" y2="227.9"/></g>
<g stroke="#98ca8c" stroke-width="3" stroke-linecap="round"><line x1="115.1" y1="232.1" x2="122.3" y2="227.3"/><line x1="115" y1="227.9" x2="122.4" y2="231.5"/></g>
<g stroke="#98ca8c" stroke-width="3" stroke-linecap="round"><line x1="102.3" y1="232.1" x2="109.5" y2="227.3"/><line x1="102.2" y1="227.9" x2="109.6" y2="231.5"/></g>
<g stroke="#98ca8c" stroke-width="3" stroke-linecap="round"><line x1="109" y1="235.8" x2="116.2" y2="231"/><line x1="108.9" y1="231.6" x2="116.3" y2="235.2"/></g>
<g stroke="#98ca8c" stroke-width="3" stroke-linecap="round"><line x1="86.9" y1="222.9" x2="94.1" y2="218.1"/><line x1="86.8" y1="218.7" x2="94.2" y2="222.3"/></g>
<g stroke="#98ca8c" stroke-width="3" stroke-linecap="round"><line x1="91.9" y1="237.7" x2="99.1" y2="232.9"/><line x1="91.8" y1="233.5" x2="99.2" y2="237.1"/></g>
<g stroke="#98ca8c" stroke-width="3" stroke-linecap="round"><line x1="120.1" y1="224.2" x2="127.3" y2="219.4"/><line x1="120" y1="220" x2="127.4" y2="223.6"/></g>
<g stroke="#98ca8c" stroke-width="3" stroke-linecap="round"><line x1="102.3" y1="248.7" x2="109.5" y2="243.9"/><line x1="102.2" y1="244.5" x2="109.6" y2="248.1"/></g>
<g stroke="#98ca8c" stroke-width="3" stroke-linecap="round"><line x1="95.8" y1="280" x2="103" y2="275.2"/><line x1="95.7" y1="275.8" x2="103.1" y2="279.4"/></g>
<line x1="71.9" y1="234" x2="71.9" y2="243" stroke="#d08070" stroke-width="1.2" stroke-dasharray="1.2 0.8"/>
<path d="M70.10000000000001,242 L73.7,242 L71.9,245 Z" fill="#c06050"/>
<line x1="112.9" y1="236.5" x2="112.9" y2="243" stroke="#d08070" stroke-width="1.2" stroke-dasharray="1.2 0.8"/>
<path d="M111.10000000000001,242 L114.7,242 L112.9,245 Z" fill="#c06050"/>
<path d="M56,257 q4,-6 12,-5 M58,282 q-4,-4 -2,-9 M84,277 l3,-2 l3,2 l2,-5 l3,1 M116,250 l3,2 l2,-3 l3,4 l2,1" fill="none" stroke="#bba" stroke-width="0.6"/>
</g>
<defs><radialGradient id="gr" cx="0.35" cy="0.35" r="0.7"><stop offset="0" stop-color="#e0a0a0"/><stop offset="0.5" stop-color="#a85858"/><stop offset="1" stop-color="#6e3232"/></radialGradient><radialGradient id="gb" cx="0.35" cy="0.35" r="0.7"><stop offset="0" stop-color="#a8c0e8"/><stop offset="0.55" stop-color="#5577b8"/><stop offset="1" stop-color="#33508a"/></radialGradient></defs>
<g>
<polygon points="169.2,235.5 188.2,207.9 230.3,240.7 211.2,265 181.7,267.7" fill="none" stroke="#c8ccd4" stroke-width="0.6"/>
<line x1="188.2" y1="207.9" x2="186.3" y2="223" stroke="#7b96c8" stroke-width="1.6"/>
<line x1="188.2" y1="207.9" x2="186.3" y2="223" stroke="#d8b090" stroke-width="0.5" stroke-dasharray="1 1.5"/>
<line x1="188.2" y1="207.9" x2="195.5" y2="223.6" stroke="#7b96c8" stroke-width="1.6"/>
<line x1="188.2" y1="207.9" x2="195.5" y2="223.6" stroke="#d8b090" stroke-width="0.5" stroke-dasharray="1 1.5"/>
<line x1="186.3" y1="223" x2="195.5" y2="223.6" stroke="#7b96c8" stroke-width="1.6"/>
<line x1="186.3" y1="223" x2="195.5" y2="223.6" stroke="#d8b090" stroke-width="0.5" stroke-dasharray="1 1.5"/>
<line x1="186.3" y1="223" x2="188.9" y2="229.6" stroke="#7b96c8" stroke-width="1.6"/>
<line x1="186.3" y1="223" x2="188.9" y2="229.6" stroke="#d8b090" stroke-width="0.5" stroke-dasharray="1 1.5"/>
<line x1="212.5" y1="219" x2="195.5" y2="223.6" stroke="#7b96c8" stroke-width="1.6"/>
<line x1="212.5" y1="219" x2="195.5" y2="223.6" stroke="#d8b090" stroke-width="0.5" stroke-dasharray="1 1.5"/>
<line x1="212.5" y1="219" x2="212.5" y2="232.8" stroke="#7b96c8" stroke-width="1.6"/>
<line x1="212.5" y1="219" x2="212.5" y2="232.8" stroke="#d8b090" stroke-width="0.5" stroke-dasharray="1 1.5"/>
<line x1="212.5" y1="219" x2="205.3" y2="232.8" stroke="#7b96c8" stroke-width="1.6"/>
<line x1="212.5" y1="219" x2="205.3" y2="232.8" stroke="#d8b090" stroke-width="0.5" stroke-dasharray="1 1.5"/>
<line x1="195.5" y1="223.6" x2="194.8" y2="233.5" stroke="#7b96c8" stroke-width="1.6"/>
<line x1="195.5" y1="223.6" x2="194.8" y2="233.5" stroke="#d8b090" stroke-width="0.5" stroke-dasharray="1 1.5"/>
<line x1="188.9" y1="229.6" x2="183" y2="234.8" stroke="#7b96c8" stroke-width="1.6"/>
<line x1="188.9" y1="229.6" x2="183" y2="234.8" stroke="#d8b090" stroke-width="0.5" stroke-dasharray="1 1.5"/>
<line x1="188.9" y1="229.6" x2="194.8" y2="233.5" stroke="#7b96c8" stroke-width="1.6"/>
<line x1="188.9" y1="229.6" x2="194.8" y2="233.5" stroke="#d8b090" stroke-width="0.5" stroke-dasharray="1 1.5"/>
<line x1="169.2" y1="235.5" x2="183" y2="234.8" stroke="#7b96c8" stroke-width="1.6"/>
<line x1="169.2" y1="235.5" x2="183" y2="234.8" stroke="#d8b090" stroke-width="0.5" stroke-dasharray="1 1.5"/>
<line x1="169.2" y1="235.5" x2="188.9" y2="229.6" stroke="#7b96c8" stroke-width="1.6"/>
<line x1="169.2" y1="235.5" x2="188.9" y2="229.6" stroke="#d8b090" stroke-width="0.5" stroke-dasharray="1 1.5"/>
<line x1="169.2" y1="235.5" x2="186.9" y2="246" stroke="#7b96c8" stroke-width="1.6"/>
<line x1="169.2" y1="235.5" x2="186.9" y2="246" stroke="#d8b090" stroke-width="0.5" stroke-dasharray="1 1.5"/>
<line x1="183" y1="234.8" x2="194.8" y2="233.5" stroke="#7b96c8" stroke-width="1.6"/>
<line x1="183" y1="234.8" x2="194.8" y2="233.5" stroke="#d8b090" stroke-width="0.5" stroke-dasharray="1 1.5"/>
<line x1="194.8" y1="233.5" x2="205.3" y2="232.8" stroke="#7b96c8" stroke-width="1.6"/>
<line x1="194.8" y1="233.5" x2="205.3" y2="232.8" stroke="#d8b090" stroke-width="0.5" stroke-dasharray="1 1.5"/>
<line x1="194.8" y1="233.5" x2="196.8" y2="241.4" stroke="#7b96c8" stroke-width="1.6"/>
<line x1="194.8" y1="233.5" x2="196.8" y2="241.4" stroke="#d8b090" stroke-width="0.5" stroke-dasharray="1 1.5"/>
<line x1="205.3" y1="232.8" x2="212.5" y2="232.8" stroke="#7b96c8" stroke-width="1.6"/>
<line x1="205.3" y1="232.8" x2="212.5" y2="232.8" stroke="#d8b090" stroke-width="0.5" stroke-dasharray="1 1.5"/>
<line x1="212.5" y1="232.8" x2="230.3" y2="240.7" stroke="#7b96c8" stroke-width="1.6"/>
<line x1="212.5" y1="232.8" x2="230.3" y2="240.7" stroke="#d8b090" stroke-width="0.5" stroke-dasharray="1 1.5"/>
<line x1="230.3" y1="240.7" x2="214.5" y2="243.3" stroke="#7b96c8" stroke-width="1.6"/>
<line x1="230.3" y1="240.7" x2="214.5" y2="243.3" stroke="#d8b090" stroke-width="0.5" stroke-dasharray="1 1.5"/>
<line x1="214.5" y1="243.3" x2="212.5" y2="246.6" stroke="#7b96c8" stroke-width="1.6"/>
<line x1="214.5" y1="243.3" x2="212.5" y2="246.6" stroke="#d8b090" stroke-width="0.5" stroke-dasharray="1 1.5"/>
<line x1="212.5" y1="232.8" x2="212.5" y2="246.6" stroke="#7b96c8" stroke-width="1.6"/>
<line x1="212.5" y1="232.8" x2="212.5" y2="246.6" stroke="#d8b090" stroke-width="0.5" stroke-dasharray="1 1.5"/>
<line x1="196.8" y1="241.4" x2="186.9" y2="246" stroke="#7b96c8" stroke-width="1.6"/>
<line x1="196.8" y1="241.4" x2="186.9" y2="246" stroke="#d8b090" stroke-width="0.5" stroke-dasharray="1 1.5"/>
<line x1="196.8" y1="241.4" x2="198.8" y2="251.2" stroke="#7b96c8" stroke-width="1.6"/>
<line x1="196.8" y1="241.4" x2="198.8" y2="251.2" stroke="#d8b090" stroke-width="0.5" stroke-dasharray="1 1.5"/>
<line x1="196.8" y1="241.4" x2="212.5" y2="246.6" stroke="#7b96c8" stroke-width="1.6"/>
<line x1="196.8" y1="241.4" x2="212.5" y2="246.6" stroke="#d8b090" stroke-width="0.5" stroke-dasharray="1 1.5"/>
<line x1="186.9" y1="246" x2="184.3" y2="250.6" stroke="#7b96c8" stroke-width="1.6"/>
<line x1="186.9" y1="246" x2="184.3" y2="250.6" stroke="#d8b090" stroke-width="0.5" stroke-dasharray="1 1.5"/>
<line x1="184.3" y1="250.6" x2="182.3" y2="261" stroke="#7b96c8" stroke-width="1.6"/>
<line x1="184.3" y1="250.6" x2="182.3" y2="261" stroke="#d8b090" stroke-width="0.5" stroke-dasharray="1 1.5"/>
<line x1="182.3" y1="261" x2="181.7" y2="267.7" stroke="#7b96c8" stroke-width="1.6"/>
<line x1="182.3" y1="261" x2="181.7" y2="267.7" stroke="#d8b090" stroke-width="0.5" stroke-dasharray="1 1.5"/>
<line x1="181.7" y1="267.7" x2="198.1" y2="256.5" stroke="#7b96c8" stroke-width="1.6"/>
<line x1="181.7" y1="267.7" x2="198.1" y2="256.5" stroke="#d8b090" stroke-width="0.5" stroke-dasharray="1 1.5"/>
<line x1="184.3" y1="250.6" x2="198.1" y2="256.5" stroke="#7b96c8" stroke-width="1.6"/>
<line x1="184.3" y1="250.6" x2="198.1" y2="256.5" stroke="#d8b090" stroke-width="0.5" stroke-dasharray="1 1.5"/>
<line x1="198.8" y1="251.2" x2="198.1" y2="256.5" stroke="#7b96c8" stroke-width="1.6"/>
<line x1="198.8" y1="251.2" x2="198.1" y2="256.5" stroke="#d8b090" stroke-width="0.5" stroke-dasharray="1 1.5"/>
<line x1="198.1" y1="256.5" x2="211.2" y2="265" stroke="#7b96c8" stroke-width="1.6"/>
<line x1="198.1" y1="256.5" x2="211.2" y2="265" stroke="#d8b090" stroke-width="0.5" stroke-dasharray="1 1.5"/>
<line x1="211.2" y1="265" x2="212.5" y2="246.6" stroke="#7b96c8" stroke-width="1.6"/>
<line x1="211.2" y1="265" x2="212.5" y2="246.6" stroke="#d8b090" stroke-width="0.5" stroke-dasharray="1 1.5"/>
<line x1="198.8" y1="251.2" x2="211.2" y2="265" stroke="#7b96c8" stroke-width="1.6"/>
<line x1="198.8" y1="251.2" x2="211.2" y2="265" stroke="#d8b090" stroke-width="0.5" stroke-dasharray="1 1.5"/>
<line x1="183" y1="234.8" x2="186.9" y2="246" stroke="#7b96c8" stroke-width="1.6"/>
<line x1="183" y1="234.8" x2="186.9" y2="246" stroke="#d8b090" stroke-width="0.5" stroke-dasharray="1 1.5"/>
<line x1="188.9" y1="229.6" x2="205.3" y2="232.8" stroke="#7b96c8" stroke-width="1.6"/>
<line x1="188.9" y1="229.6" x2="205.3" y2="232.8" stroke="#d8b090" stroke-width="0.5" stroke-dasharray="1 1.5"/>
<line x1="214.5" y1="243.3" x2="211.2" y2="265" stroke="#7b96c8" stroke-width="1.6"/>
<line x1="214.5" y1="243.3" x2="211.2" y2="265" stroke="#d8b090" stroke-width="0.5" stroke-dasharray="1 1.5"/>
<line x1="182.3" y1="261" x2="198.1" y2="256.5" stroke="#7b96c8" stroke-width="1.6"/>
<line x1="182.3" y1="261" x2="198.1" y2="256.5" stroke="#d8b090" stroke-width="0.5" stroke-dasharray="1 1.5"/>
<circle cx="195.5" cy="223.6" r="2.1" fill="url(#gb)"/>
<circle cx="188.9" cy="229.6" r="2.5" fill="url(#gb)"/>
<circle cx="183" cy="234.8" r="2.1" fill="url(#gb)"/>
<circle cx="194.8" cy="233.5" r="2.1" fill="url(#gb)"/>
<circle cx="212.5" cy="232.8" r="2.1" fill="url(#gb)"/>
<circle cx="186.9" cy="246" r="2.1" fill="url(#gb)"/>
<circle cx="184.3" cy="250.6" r="2.1" fill="url(#gb)"/>
<circle cx="198.8" cy="251.2" r="2.5" fill="url(#gb)"/>
<circle cx="198.1" cy="256.5" r="2.1" fill="url(#gb)"/>
<circle cx="212.5" cy="246.6" r="2.1" fill="url(#gb)"/>
<circle cx="188.2" cy="207.9" r="1.1" fill="url(#gr)"/>
<circle cx="212.5" cy="219" r="2.9" fill="url(#gr)"/>
<circle cx="205.3" cy="232.8" r="4.6" fill="url(#gr)"/>
<circle cx="169.2" cy="235.5" r="3.9" fill="url(#gr)"/>
<circle cx="211.2" cy="265" r="3.3" fill="url(#gr)"/>
<circle cx="186.3" cy="223" r="2.2" fill="url(#gr)"/>
<circle cx="196.8" cy="241.4" r="2.6" fill="url(#gr)"/>
<circle cx="214.5" cy="243.3" r="2" fill="url(#gr)"/>
<circle cx="182.3" cy="261" r="2" fill="url(#gr)"/>
<circle cx="230.3" cy="240.7" r="1.1" fill="url(#gr)"/>
<circle cx="181.7" cy="267.7" r="1.1" fill="url(#gr)"/>
</g>
<g>
<rect x="339.5" y="97" width="12.5" height="12" fill="#cfcfd6"/>
<line x1="341.1" y1="97" x2="341.1" y2="109" stroke="#d06a78" stroke-width="0.6" opacity="0.8"/>
<line x1="344.2" y1="97" x2="344.2" y2="109" stroke="#7a8ac8" stroke-width="0.6" opacity="0.8"/>
<line x1="347.3" y1="97" x2="347.3" y2="109" stroke="#d06a78" stroke-width="0.6" opacity="0.8"/>
<line x1="350.4" y1="97" x2="350.4" y2="109" stroke="#7a8ac8" stroke-width="0.6" opacity="0.8"/>
<rect x="339.5" y="97" width="12.5" height="12" fill="none" stroke="#b0b0b8" stroke-width="0.5"/>
<rect x="339.5" y="116.5" width="12.5" height="11.5" fill="#cfcfd6"/>
<line x1="341.1" y1="116.5" x2="341.1" y2="128" stroke="#d06a78" stroke-width="0.6" opacity="0.8"/>
<line x1="344.2" y1="116.5" x2="344.2" y2="128" stroke="#7a8ac8" stroke-width="0.6" opacity="0.8"/>
<line x1="347.3" y1="116.5" x2="347.3" y2="128" stroke="#d06a78" stroke-width="0.6" opacity="0.8"/>
<line x1="350.4" y1="116.5" x2="350.4" y2="128" stroke="#7a8ac8" stroke-width="0.6" opacity="0.8"/>
<rect x="339.5" y="116.5" width="12.5" height="11.5" fill="none" stroke="#b0b0b8" stroke-width="0.5"/>
<rect x="337" y="128" width="18" height="12" fill="#cfcfd6"/>
<line x1="338.6" y1="128" x2="338.6" y2="140" stroke="#d06a78" stroke-width="0.6" opacity="0.8"/>
<line x1="341.6" y1="128" x2="341.6" y2="140" stroke="#7a8ac8" stroke-width="0.6" opacity="0.8"/>
<line x1="344.5" y1="128" x2="344.5" y2="140" stroke="#d06a78" stroke-width="0.6" opacity="0.8"/>
<line x1="347.5" y1="128" x2="347.5" y2="140" stroke="#7a8ac8" stroke-width="0.6" opacity="0.8"/>
<line x1="350.4" y1="128" x2="350.4" y2="140" stroke="#d06a78" stroke-width="0.6" opacity="0.8"/>
<line x1="353.4" y1="128" x2="353.4" y2="140" stroke="#7a8ac8" stroke-width="0.6" opacity="0.8"/>
<rect x="337" y="128" width="18" height="12" fill="none" stroke="#b0b0b8" stroke-width="0.5"/>
<rect x="337" y="147.5" width="18" height="11.5" fill="#cfcfd6"/>
<line x1="338.6" y1="147.5" x2="338.6" y2="159" stroke="#d06a78" stroke-width="0.6" opacity="0.8"/>
<line x1="341.6" y1="147.5" x2="341.6" y2="159" stroke="#7a8ac8" stroke-width="0.6" opacity="0.8"/>
<line x1="344.5" y1="147.5" x2="344.5" y2="159" stroke="#d06a78" stroke-width="0.6" opacity="0.8"/>
<line x1="347.5" y1="147.5" x2="347.5" y2="159" stroke="#7a8ac8" stroke-width="0.6" opacity="0.8"/>
<line x1="350.4" y1="147.5" x2="350.4" y2="159" stroke="#d06a78" stroke-width="0.6" opacity="0.8"/>
<line x1="353.4" y1="147.5" x2="353.4" y2="159" stroke="#7a8ac8" stroke-width="0.6" opacity="0.8"/>
<rect x="337" y="147.5" width="18" height="11.5" fill="none" stroke="#b0b0b8" stroke-width="0.5"/>
<rect x="339.5" y="159" width="12.5" height="9.5" fill="#cfcfd6"/>
<line x1="341.1" y1="159" x2="341.1" y2="168.5" stroke="#d06a78" stroke-width="0.6" opacity="0.8"/>
<line x1="344.2" y1="159" x2="344.2" y2="168.5" stroke="#7a8ac8" stroke-width="0.6" opacity="0.8"/>
<line x1="347.3" y1="159" x2="347.3" y2="168.5" stroke="#d06a78" stroke-width="0.6" opacity="0.8"/>
<line x1="350.4" y1="159" x2="350.4" y2="168.5" stroke="#7a8ac8" stroke-width="0.6" opacity="0.8"/>
<rect x="339.5" y="159" width="12.5" height="9.5" fill="none" stroke="#b0b0b8" stroke-width="0.5"/>
<rect x="339.5" y="178" width="12.5" height="12" fill="#cfcfd6"/>
<line x1="341.1" y1="178" x2="341.1" y2="190" stroke="#d06a78" stroke-width="0.6" opacity="0.8"/>
<line x1="344.2" y1="178" x2="344.2" y2="190" stroke="#7a8ac8" stroke-width="0.6" opacity="0.8"/>
<line x1="347.3" y1="178" x2="347.3" y2="190" stroke="#d06a78" stroke-width="0.6" opacity="0.8"/>
<line x1="350.4" y1="178" x2="350.4" y2="190" stroke="#7a8ac8" stroke-width="0.6" opacity="0.8"/>
<rect x="339.5" y="178" width="12.5" height="12" fill="none" stroke="#b0b0b8" stroke-width="0.5"/>
<rect x="340.3" y="109" width="2.4" height="7.5" fill="#d4d4d8"/>
<rect x="344.6" y="109" width="2.4" height="7.5" fill="#d4d4d8"/>
<rect x="348.8" y="109" width="2.4" height="7.5" fill="#d4d4d8"/>
<rect x="340.3" y="140" width="2.4" height="7.5" fill="#d4d4d8"/>
<rect x="344.6" y="140" width="2.4" height="7.5" fill="#d4d4d8"/>
<rect x="348.8" y="140" width="2.4" height="7.5" fill="#d4d4d8"/>
<rect x="340.3" y="168.5" width="2.4" height="9.5" fill="#d4d4d8"/>
<rect x="344.6" y="168.5" width="2.4" height="9.5" fill="#d4d4d8"/>
<rect x="348.8" y="168.5" width="2.4" height="9.5" fill="#d4d4d8"/>
<path d="M366,143 H383 M379.5,141 L383.5,143" stroke="#505050" stroke-width="1" fill="none"/>
<path d="M367,147.5 H384 M366.5,147.5 L370.5,149.5" stroke="#505050" stroke-width="1" fill="none"/>
</g>
<g>
<line x1="406.9" y1="144.9" x2="434.5" y2="121.9" stroke="#a6a6aa" stroke-width="4.6" stroke-linecap="butt"/>
<line x1="434.5" y1="121.9" x2="462.2" y2="143.8" stroke="#a6a6aa" stroke-width="4.6" stroke-linecap="butt"/>
<line x1="462.2" y1="143.8" x2="434.5" y2="166.8" stroke="#a6a6aa" stroke-width="4.6" stroke-linecap="butt"/>
<line x1="434.5" y1="166.8" x2="406.9" y2="144.9" stroke="#a6a6aa" stroke-width="4.6" stroke-linecap="butt"/>
<line x1="462.2" y1="143.8" x2="489.8" y2="121.9" stroke="#a6a6aa" stroke-width="4.6" stroke-linecap="butt"/>
<line x1="489.8" y1="121.9" x2="516.3" y2="144.9" stroke="#a6a6aa" stroke-width="4.6" stroke-linecap="butt"/>
<line x1="516.3" y1="144.9" x2="489.8" y2="166.8" stroke="#a6a6aa" stroke-width="4.6" stroke-linecap="butt"/>
<line x1="489.8" y1="166.8" x2="462.2" y2="143.8" stroke="#a6a6aa" stroke-width="4.6" stroke-linecap="butt"/>
<line x1="434.5" y1="121.9" x2="420.5" y2="110.4" stroke="#a6a6aa" stroke-width="4.6" stroke-linecap="butt"/>
<line x1="434.5" y1="121.9" x2="448.5" y2="110.4" stroke="#a6a6aa" stroke-width="4.6" stroke-linecap="butt"/>
<line x1="489.8" y1="121.9" x2="475.8" y2="110.4" stroke="#a6a6aa" stroke-width="4.6" stroke-linecap="butt"/>
<line x1="489.8" y1="121.9" x2="503.8" y2="110.4" stroke="#a6a6aa" stroke-width="4.6" stroke-linecap="butt"/>
<line x1="406.9" y1="144.9" x2="392.9" y2="133.4" stroke="#a6a6aa" stroke-width="4.6" stroke-linecap="butt"/>
<line x1="406.9" y1="144.9" x2="392.9" y2="156.4" stroke="#a6a6aa" stroke-width="4.6" stroke-linecap="butt"/>
<line x1="516.3" y1="144.9" x2="530.3" y2="133.4" stroke="#a6a6aa" stroke-width="4.6" stroke-linecap="butt"/>
<line x1="516.3" y1="144.9" x2="530.3" y2="156.4" stroke="#a6a6aa" stroke-width="4.6" stroke-linecap="butt"/>
<line x1="434.5" y1="166.8" x2="420.5" y2="178.3" stroke="#a6a6aa" stroke-width="4.6" stroke-linecap="butt"/>
<line x1="434.5" y1="166.8" x2="448.5" y2="178.3" stroke="#a6a6aa" stroke-width="4.6" stroke-linecap="butt"/>
<line x1="489.8" y1="166.8" x2="475.8" y2="178.3" stroke="#a6a6aa" stroke-width="4.6" stroke-linecap="butt"/>
<line x1="489.8" y1="166.8" x2="503.8" y2="178.3" stroke="#a6a6aa" stroke-width="4.6" stroke-linecap="butt"/>
<line x1="406.9" y1="144.9" x2="434.5" y2="121.9" stroke="#d4d4d8" stroke-width="2.6"/>
<line x1="434.5" y1="121.9" x2="462.2" y2="143.8" stroke="#d4d4d8" stroke-width="2.6"/>
<line x1="462.2" y1="143.8" x2="434.5" y2="166.8" stroke="#d4d4d8" stroke-width="2.6"/>
<line x1="434.5" y1="166.8" x2="406.9" y2="144.9" stroke="#d4d4d8" stroke-width="2.6"/>
<line x1="462.2" y1="143.8" x2="489.8" y2="121.9" stroke="#d4d4d8" stroke-width="2.6"/>
<line x1="489.8" y1="121.9" x2="516.3" y2="144.9" stroke="#d4d4d8" stroke-width="2.6"/>
<line x1="516.3" y1="144.9" x2="489.8" y2="166.8" stroke="#d4d4d8" stroke-width="2.6"/>
<line x1="489.8" y1="166.8" x2="462.2" y2="143.8" stroke="#d4d4d8" stroke-width="2.6"/>
<line x1="434.5" y1="121.9" x2="420.5" y2="110.4" stroke="#d4d4d8" stroke-width="2.6"/>
<line x1="434.5" y1="121.9" x2="448.5" y2="110.4" stroke="#d4d4d8" stroke-width="2.6"/>
<line x1="489.8" y1="121.9" x2="475.8" y2="110.4" stroke="#d4d4d8" stroke-width="2.6"/>
<line x1="489.8" y1="121.9" x2="503.8" y2="110.4" stroke="#d4d4d8" stroke-width="2.6"/>
<line x1="406.9" y1="144.9" x2="392.9" y2="133.4" stroke="#d4d4d8" stroke-width="2.6"/>
<line x1="406.9" y1="144.9" x2="392.9" y2="156.4" stroke="#d4d4d8" stroke-width="2.6"/>
<line x1="516.3" y1="144.9" x2="530.3" y2="133.4" stroke="#d4d4d8" stroke-width="2.6"/>
<line x1="516.3" y1="144.9" x2="530.3" y2="156.4" stroke="#d4d4d8" stroke-width="2.6"/>
<line x1="434.5" y1="166.8" x2="420.5" y2="178.3" stroke="#d4d4d8" stroke-width="2.6"/>
<line x1="434.5" y1="166.8" x2="448.5" y2="178.3" stroke="#d4d4d8" stroke-width="2.6"/>
<line x1="489.8" y1="166.8" x2="475.8" y2="178.3" stroke="#d4d4d8" stroke-width="2.6"/>
<line x1="489.8" y1="166.8" x2="503.8" y2="178.3" stroke="#d4d4d8" stroke-width="2.6"/>
<line x1="410.4" y1="140.7" x2="415.4" y2="136.5" stroke="#d05060" stroke-width="1.0"/>
<line x1="420" y1="135.3" x2="424.9" y2="131.2" stroke="#4a68c0" stroke-width="1.0"/>
<line x1="427" y1="126.9" x2="431.9" y2="122.7" stroke="#d05060" stroke-width="1.0"/>
<line x1="438" y1="126" x2="443" y2="129.9" stroke="#4a68c0" stroke-width="1.0"/>
<line x1="447.6" y1="131" x2="452.6" y2="134.9" stroke="#d05060" stroke-width="1.0"/>
<line x1="454.7" y1="139.1" x2="459.6" y2="143.1" stroke="#4a68c0" stroke-width="1.0"/>
<line x1="458.7" y1="148" x2="453.7" y2="152.2" stroke="#4a68c0" stroke-width="1.0"/>
<line x1="450.4" y1="154.9" x2="445.4" y2="159.1" stroke="#d05060" stroke-width="1.0"/>
<line x1="442.1" y1="161.8" x2="437.1" y2="166" stroke="#4a68c0" stroke-width="1.0"/>
<line x1="429.7" y1="164.3" x2="424.8" y2="160.4" stroke="#d05060" stroke-width="1.0"/>
<line x1="422.7" y1="156.2" x2="417.7" y2="152.2" stroke="#d05060" stroke-width="1.0"/>
<line x1="414.4" y1="149.6" x2="409.5" y2="145.6" stroke="#d05060" stroke-width="1.0"/>
<line x1="467" y1="141.3" x2="471.9" y2="137.4" stroke="#4a68c0" stroke-width="1.0"/>
<line x1="475.2" y1="134.7" x2="480.2" y2="130.8" stroke="#4a68c0" stroke-width="1.0"/>
<line x1="482.3" y1="126.6" x2="487.2" y2="122.6" stroke="#4a68c0" stroke-width="1.0"/>
<line x1="494.4" y1="124.6" x2="499.2" y2="128.7" stroke="#4a68c0" stroke-width="1.0"/>
<line x1="502.4" y1="131.5" x2="507.2" y2="135.6" stroke="#d05060" stroke-width="1.0"/>
<line x1="510.3" y1="138.4" x2="515.1" y2="142.5" stroke="#4a68c0" stroke-width="1.0"/>
<line x1="511.7" y1="147.4" x2="506.9" y2="151.4" stroke="#4a68c0" stroke-width="1.0"/>
<line x1="503.7" y1="154" x2="499" y2="157.9" stroke="#4a68c0" stroke-width="1.0"/>
<line x1="495.8" y1="160.6" x2="491" y2="164.5" stroke="#4a68c0" stroke-width="1.0"/>
<line x1="485" y1="164.1" x2="480.1" y2="160" stroke="#4a68c0" stroke-width="1.0"/>
<line x1="476.7" y1="157.2" x2="471.8" y2="153.1" stroke="#4a68c0" stroke-width="1.0"/>
<line x1="468.5" y1="150.3" x2="463.5" y2="146.2" stroke="#4a68c0" stroke-width="1.0"/>
<line x1="431.8" y1="120.9" x2="429.2" y2="118.9" stroke="#4a68c0" stroke-width="1.0"/>
<line x1="428.8" y1="116" x2="426.3" y2="113.9" stroke="#d05060" stroke-width="1.0"/>
<line x1="423.4" y1="114" x2="420.8" y2="112" stroke="#4a68c0" stroke-width="1.0"/>
<line x1="437.2" y1="120.9" x2="439.8" y2="118.9" stroke="#d05060" stroke-width="1.0"/>
<line x1="440.2" y1="116" x2="442.7" y2="113.9" stroke="#4a68c0" stroke-width="1.0"/>
<line x1="444.4" y1="112.5" x2="446.9" y2="110.4" stroke="#4a68c0" stroke-width="1.0"/>
<line x1="487.1" y1="120.9" x2="484.5" y2="118.9" stroke="#4a68c0" stroke-width="1.0"/>
<line x1="484.1" y1="116" x2="481.6" y2="113.9" stroke="#d05060" stroke-width="1.0"/>
<line x1="479.9" y1="112.5" x2="477.4" y2="110.4" stroke="#4a68c0" stroke-width="1.0"/>
<line x1="491.3" y1="119.4" x2="493.8" y2="117.3" stroke="#d05060" stroke-width="1.0"/>
<line x1="496.7" y1="117.5" x2="499.3" y2="115.4" stroke="#d05060" stroke-width="1.0"/>
<line x1="500.9" y1="114" x2="503.5" y2="112" stroke="#4a68c0" stroke-width="1.0"/>
<line x1="404.2" y1="143.9" x2="401.6" y2="141.9" stroke="#d05060" stroke-width="1.0"/>
<line x1="400" y1="140.5" x2="397.4" y2="138.4" stroke="#4a68c0" stroke-width="1.0"/>
<line x1="395.8" y1="137" x2="393.2" y2="135" stroke="#d05060" stroke-width="1.0"/>
<line x1="405.4" y1="147.4" x2="402.9" y2="149.5" stroke="#d05060" stroke-width="1.0"/>
<line x1="400" y1="149.3" x2="397.4" y2="151.4" stroke="#4a68c0" stroke-width="1.0"/>
<line x1="397" y1="154.3" x2="394.5" y2="156.4" stroke="#4a68c0" stroke-width="1.0"/>
<line x1="519" y1="143.9" x2="521.6" y2="141.9" stroke="#d05060" stroke-width="1.0"/>
<line x1="523.2" y1="140.5" x2="525.8" y2="138.4" stroke="#4a68c0" stroke-width="1.0"/>
<line x1="527.4" y1="137" x2="530" y2="135" stroke="#d05060" stroke-width="1.0"/>
<line x1="517.8" y1="147.4" x2="520.3" y2="149.5" stroke="#4a68c0" stroke-width="1.0"/>
<line x1="523.2" y1="149.3" x2="525.8" y2="151.4" stroke="#4a68c0" stroke-width="1.0"/>
<line x1="526.2" y1="154.3" x2="528.7" y2="156.4" stroke="#4a68c0" stroke-width="1.0"/>
<line x1="431.8" y1="167.8" x2="429.2" y2="169.8" stroke="#d05060" stroke-width="1.0"/>
<line x1="427.6" y1="171.2" x2="425" y2="173.3" stroke="#4a68c0" stroke-width="1.0"/>
<line x1="423.4" y1="174.7" x2="420.8" y2="176.7" stroke="#4a68c0" stroke-width="1.0"/>
<line x1="436" y1="169.3" x2="438.5" y2="171.4" stroke="#d05060" stroke-width="1.0"/>
<line x1="441.4" y1="171.2" x2="444" y2="173.3" stroke="#4a68c0" stroke-width="1.0"/>
<line x1="445.6" y1="174.7" x2="448.2" y2="176.7" stroke="#4a68c0" stroke-width="1.0"/>
<line x1="487.1" y1="167.8" x2="484.5" y2="169.8" stroke="#d05060" stroke-width="1.0"/>
<line x1="482.9" y1="171.2" x2="480.3" y2="173.3" stroke="#4a68c0" stroke-width="1.0"/>
<line x1="478.7" y1="174.7" x2="476.1" y2="176.7" stroke="#4a68c0" stroke-width="1.0"/>
<line x1="492.5" y1="167.8" x2="495.1" y2="169.8" stroke="#4a68c0" stroke-width="1.0"/>
<line x1="496.7" y1="171.2" x2="499.3" y2="173.3" stroke="#d05060" stroke-width="1.0"/>
<line x1="499.7" y1="176.2" x2="502.2" y2="178.3" stroke="#4a68c0" stroke-width="1.0"/>
<rect x="430.9" y="118.30000000000001" width="7.2" height="7.2" fill="#b8b8bc" transform="rotate(45 434.5 121.9)"/>
<rect x="486.2" y="118.30000000000001" width="7.2" height="7.2" fill="#b8b8bc" transform="rotate(45 489.8 121.9)"/>
<rect x="403.29999999999995" y="141.3" width="7.2" height="7.2" fill="#b8b8bc" transform="rotate(45 406.9 144.9)"/>
<rect x="458.59999999999997" y="140.20000000000002" width="7.2" height="7.2" fill="#b8b8bc" transform="rotate(45 462.2 143.8)"/>
<rect x="512.6999999999999" y="141.3" width="7.2" height="7.2" fill="#b8b8bc" transform="rotate(45 516.3 144.9)"/>
<rect x="430.9" y="163.20000000000002" width="7.2" height="7.2" fill="#b8b8bc" transform="rotate(45 434.5 166.8)"/>
<rect x="486.2" y="163.20000000000002" width="7.2" height="7.2" fill="#b8b8bc" transform="rotate(45 489.8 166.8)"/>
</g>
<defs><pattern id="pb" width="2.2" height="2.2" patternUnits="userSpaceOnUse" patternTransform="rotate(25)"><rect width="2.2" height="2.2" fill="#3f74c6"/><rect width="2.2" height="0.8" fill="#2c58a6"/></pattern><pattern id="pb2" width="2.2" height="2.2" patternUnits="userSpaceOnUse" patternTransform="rotate(-35)"><rect width="2.2" height="2.2" fill="#3f74c6"/><rect width="2.2" height="0.8" fill="#2c58a6"/></pattern></defs>
<g>
<path d="M431.1,223.2 L434,253 M466.7,223.2 L460.9,235.5 M471.1,223.2 L536.8,258.8 M507.6,223.2 L545.5,238.4" stroke="#333" stroke-width="0.7" stroke-dasharray="2 1.5" fill="none"/>
<path d="M431.2,191.2 V222.3 M467.4,191.2 V222.3 M471.3,191.2 V222.3 M508,191.2 V222.3" stroke="#333" stroke-width="0.7" stroke-dasharray="2 1.5" fill="none"/>
<polygon points="431.4,212 458.9,215.4 461.6,191.2 467.2,191.2 467.2,222.3 431.4,222.3" fill="url(#pb)"/>
<path d="M459.6,193 q2.5,-2 4.8,-1.5" stroke="#b03a3a" stroke-width="1.4" fill="none"/><path d="M435.5,211.5 l0.8,-3 l1.2,-1" stroke="#b03a3a" stroke-width="0.9" fill="none"/>
<rect x="471.5" y="191.2" width="36.3" height="31.1" fill="url(#pb2)"/>
<polygon points="471.5,191.2 478.5,191.2 482,208 471.5,211.5" fill="#ffffff" opacity="0.92"/>
<polygon points="488,199 498.5,211.5 487.5,210.8" fill="#ffffff" opacity="0.95"/>
<path d="M484,198.5 q-2.5,4 -1,7 q1.5,2.5 -1,5" stroke="#a83838" stroke-width="2.4" fill="none"/>
<polygon points="428.8,255.3 494.4,266.1 493,274 427.3,263.2" fill="url(#pb)"/>
<polygon points="459.4,234 469.6,234 459.4,293.8 449.2,292.4" fill="url(#pb2)"/>
<polygon points="457.9,242 466.9,243.6 464.8,255.6 455.8,254" fill="#2f5fae" opacity="0.0"/>
<path d="M456.5,244.2 l1.5,-1.2" stroke="#b03a3a" stroke-width="1.2"/>
<path d="M440.4,255.3 l1.5,-1.2" stroke="#b03a3a" stroke-width="1.2"/>
<path d="M481.3,274.9 l1.5,-1.2" stroke="#b03a3a" stroke-width="1.2"/>
<path d="M463.8,282.7 l1.5,-1.2" stroke="#b03a3a" stroke-width="1.2"/>
<polygon points="538.7,255.6 603,264.6 600.9,274 535.9,264" fill="url(#pb)"/>
<polygon points="543,243.5 550.5,238.5 597.8,279 588.5,287" fill="url(#pb2)"/>
<path d="M544.2,258 l-0.5,-3.5" stroke="#b03a3a" stroke-width="1.1"/>
<path d="M501.7,266.1 H525 M521.5,264.2 L526.5,266.1 L521.5,268 Z" stroke="#222" stroke-width="0.8" fill="#222"/>
<path d="M505,273.4 H526.5 M508,271.5 L503,273.4 L508,275.3 Z" stroke="#222" stroke-width="0.8" fill="#222"/>
<text x="509" y="263" font-family="Liberation Sans" font-size="7" fill="#333">H<tspan font-size="4.5" dy="-2.5">+</tspan></text>
<text x="510" y="282" font-family="Liberation Sans" font-size="7" fill="#333">OH<tspan font-size="4.5" dy="-2.5">-</tspan></text>
</g>
<defs><filter id="blur2" x="-20%" y="-20%" width="140%" height="140%"><feGaussianBlur stdDeviation="2.2"/></filter><radialGradient id="gnp" cx="0.45" cy="0.4" r="0.6"><stop offset="0" stop-color="#fcd466"/><stop offset="0.75" stop-color="#f6b93c"/><stop offset="1" stop-color="#eaa52e"/></radialGradient></defs>
<g>
<path d="M106.8,394.8L115.4,389.7 M95.2,392.9L106.8,394.8 M92,386.1L95.2,392.9 M92,386.1L100.6,381.1 M100.6,381.1L112.3,382.9 M112.3,382.9L115.4,389.7 M112.3,382.9L120.8,377.9 M97.4,374.2L100.6,381.1 M97.4,374.2L106,369.2 M106,369.2L117.7,371 M117.7,371L120.8,377.9 M151.3,420.8L159.9,415.8 M139.6,419L151.3,420.8 M136.5,412.1L139.6,419 M136.5,412.1L145,407.1 M145,407.1L156.7,409 M156.7,409L159.9,415.8 M156.7,409L165.3,404 M141.9,400.3L145,407.1 M141.9,400.3L150.5,395.3 M150.5,395.3L162.1,397.1 M162.1,397.1L165.3,404 M152.7,376.6L161.3,371.5 M141.1,374.7L152.7,376.6 M137.9,367.9L141.1,374.7 M137.9,367.9L146.5,362.9 M146.5,362.9L158.2,364.7 M158.2,364.7L161.3,371.5 M197.2,402.6L205.8,397.6 M185.5,400.8L197.2,402.6 M182.4,393.9L185.5,400.8 M182.4,393.9L190.9,388.9 M190.9,388.9L202.6,390.8 M202.6,390.8L205.8,397.6 M101.4,406.6L110,401.6 M89.7,404.8L101.4,406.6 M86.6,397.9L89.7,404.8 M86.6,397.9L95.2,392.9 M106.8,394.8L110,401.6 M147.3,388.4L155.9,383.4 M135.6,386.6L147.3,388.4 M132.5,379.7L135.6,386.6 M132.5,379.7L141.1,374.7 M152.7,376.6L155.9,383.4 M145.9,432.7L154.4,427.7 M134.2,430.8L145.9,432.7 M131.1,424L134.2,430.8 M131.1,424L139.6,419 M151.3,420.8L154.4,427.7 M187.8,382.1L196.4,377.1 M176.1,380.2L187.8,382.1 M173,373.4L176.1,380.2 M173,373.4L181.5,368.4 M181.5,368.4L193.2,370.2 M193.2,370.2L196.4,377.1 M208,378.9L216.6,373.9 M196.3,377.1L208,378.9 M193.2,370.2L196.3,377.1 M193.2,370.2L201.8,365.2 M201.8,365.2L213.5,367.1 M213.5,367.1L216.6,373.9 M143.3,356L151.9,351 M131.7,354.2L143.3,356 M128.5,347.3L131.7,354.2 M128.5,347.3L137.1,342.3 M137.1,342.3L148.8,344.1 M148.8,344.1L151.9,351 M163.6,352.8L172.1,347.8 M151.9,351L163.6,352.8 M148.8,344.2L151.9,351 M148.8,344.2L157.3,339.1 M157.3,339.1L169,341 M169,341L172.1,347.8 M124.8,410.3L136.5,412.1 M121.7,403.4L124.8,410.3 M121.7,403.4L130.2,398.4 M130.2,398.4L141.9,400.3 M127.1,391.6L130.2,398.4 M127.1,391.6L135.6,386.6 M147.3,388.4L150.5,395.3 M126.2,366L137.9,367.9 M123.1,359.2L126.2,366 M123.1,359.2L131.7,354.2 M143.3,356L146.5,362.9 M80.3,384.2L92,386.1 M77.2,377.4L80.3,384.2 M77.2,377.4L85.8,372.4 M85.8,372.4L97.4,374.2 M170.7,392.1L182.4,393.9 M167.6,385.2L170.7,392.1 M167.6,385.2L176.1,380.2 M187.8,382.1L190.9,388.9 M119.4,422.2L131.1,424 M116.2,415.3L119.4,422.2 M116.2,415.3L124.8,410.3 M222.8,387.6L231.4,382.6 M211.2,385.8L222.8,387.6 M208,378.9L211.2,385.8 M216.6,373.9L228.3,375.7 M228.3,375.7L231.4,382.6 M120.8,377.9L132.5,379.7 M117.7,371L126.2,366 M177,405.8L185.5,400.8 M165.3,404L177,405.8 M162.1,397.1L170.7,392.1 M161.3,371.5L173,373.4 M158.2,364.7L166.7,359.7 M166.7,359.7L178.4,361.5 M178.4,361.5L181.5,368.4 M178.4,361.5L187,356.5 M187,356.5L198.6,358.4 M198.6,358.4L201.8,365.2 M217.4,399.5L226,394.4 M205.8,397.6L217.4,399.5 M202.6,390.8L211.2,385.8 M211.2,385.8L222.9,387.6 M222.9,387.6L226,394.4 M178.4,361.5L186.9,356.5 M163.6,352.8L166.7,359.7 M172.1,347.8L183.8,349.7 M183.8,349.7L186.9,356.5 M171.5,417.7L180.1,412.6 M159.9,415.8L171.5,417.7 M177,405.8L180.1,412.6 M110,401.6L121.7,403.4 M115.4,389.7L127.1,391.6 M155.9,383.4L167.6,385.2 M115.4,389.8L127.1,391.6 M112.3,382.9L115.4,389.8 M169,341L177.6,336 M154.2,332.3L157.3,339.1 M154.2,332.3L162.7,327.3 M162.7,327.3L174.4,329.1 M174.4,329.1L177.6,336 M213.5,367.1L222,362 M198.6,358.4L207.2,353.3 M207.2,353.3L218.9,355.2 M218.9,355.2L222,362 M102.9,362.4L106,369.2 M102.9,362.4L111.4,357.3 M111.4,357.3L123.1,359.2 M150.4,395.3L162.1,397.1 M147.3,388.4L150.4,395.3 M196.4,377.1L208,378.9 M197.2,402.6L198.6,405.7 M101.4,406.6L102.8,409.7 M89.7,404.8L85.8,407.1 M86.6,397.9L81.3,397.1 M154.4,427.7L159.6,428.5 M145.9,432.7L147.3,435.8 M134.2,430.8L130.4,433 M196.3,377.1L192.4,379.4 M128.5,347.3L123.2,346.5 M137.1,342.3L135.7,339.2 M148.8,344.1L152.7,341.8 M148.8,344.2L143.6,343.4 M80.3,384.2L76.4,386.4 M77.2,377.4L71.9,376.6 M85.8,372.4L84.4,369.3 M119.4,422.2L115.6,424.5 M116.2,415.3L110.9,414.5 M231.4,382.6L236.7,383.4 M222.8,387.6L224.2,390.7 M228.3,375.7L232.2,373.4 M187,356.5L185.6,353.4 M226,394.4L231.3,395.2 M217.4,399.5L218.8,402.6 M222.9,387.6L226.8,385.3 M186.9,356.5L192.1,357.3 M183.8,349.7L187.6,347.5 M180.1,412.6L185.4,413.4 M171.5,417.7L172.9,420.8 M115.4,389.8L111.6,392.1 M177.6,336L182.9,336.8 M154.2,332.3L149,331.5 M162.7,327.3L161.3,324.2 M174.4,329.1L178.2,326.8 M222,362L227.3,362.8 M207.2,353.3L205.8,350.2 M218.9,355.2L222.8,352.9 M102.9,362.4L97.7,361.6 M111.4,357.3L110,354.2 M150.4,395.3L146.5,397.6" stroke="#8a8a8a" stroke-width="3" fill="none" opacity="0.45" transform="translate(1.5,5)" filter="url(#blur2)"/>
<path d="M106.8,394.8L115.4,389.7 M95.2,392.9L106.8,394.8 M92,386.1L95.2,392.9 M92,386.1L100.6,381.1 M100.6,381.1L112.3,382.9 M112.3,382.9L115.4,389.7 M112.3,382.9L120.8,377.9 M97.4,374.2L100.6,381.1 M97.4,374.2L106,369.2 M106,369.2L117.7,371 M117.7,371L120.8,377.9 M151.3,420.8L159.9,415.8 M139.6,419L151.3,420.8 M136.5,412.1L139.6,419 M136.5,412.1L145,407.1 M145,407.1L156.7,409 M156.7,409L159.9,415.8 M156.7,409L165.3,404 M141.9,400.3L145,407.1 M141.9,400.3L150.5,395.3 M150.5,395.3L162.1,397.1 M162.1,397.1L165.3,404 M152.7,376.6L161.3,371.5 M141.1,374.7L152.7,376.6 M137.9,367.9L141.1,374.7 M137.9,367.9L146.5,362.9 M146.5,362.9L158.2,364.7 M158.2,364.7L161.3,371.5 M197.2,402.6L205.8,397.6 M185.5,400.8L197.2,402.6 M182.4,393.9L185.5,400.8 M182.4,393.9L190.9,388.9 M190.9,388.9L202.6,390.8 M202.6,390.8L205.8,397.6 M101.4,406.6L110,401.6 M89.7,404.8L101.4,406.6 M86.6,397.9L89.7,404.8 M86.6,397.9L95.2,392.9 M106.8,394.8L110,401.6 M147.3,388.4L155.9,383.4 M135.6,386.6L147.3,388.4 M132.5,379.7L135.6,386.6 M132.5,379.7L141.1,374.7 M152.7,376.6L155.9,383.4 M145.9,432.7L154.4,427.7 M134.2,430.8L145.9,432.7 M131.1,424L134.2,430.8 M131.1,424L139.6,419 M151.3,420.8L154.4,427.7 M187.8,382.1L196.4,377.1 M176.1,380.2L187.8,382.1 M173,373.4L176.1,380.2 M173,373.4L181.5,368.4 M181.5,368.4L193.2,370.2 M193.2,370.2L196.4,377.1 M208,378.9L216.6,373.9 M196.3,377.1L208,378.9 M193.2,370.2L196.3,377.1 M193.2,370.2L201.8,365.2 M201.8,365.2L213.5,367.1 M213.5,367.1L216.6,373.9 M143.3,356L151.9,351 M131.7,354.2L143.3,356 M128.5,347.3L131.7,354.2 M128.5,347.3L137.1,342.3 M137.1,342.3L148.8,344.1 M148.8,344.1L151.9,351 M163.6,352.8L172.1,347.8 M151.9,351L163.6,352.8 M148.8,344.2L151.9,351 M148.8,344.2L157.3,339.1 M157.3,339.1L169,341 M169,341L172.1,347.8 M124.8,410.3L136.5,412.1 M121.7,403.4L124.8,410.3 M121.7,403.4L130.2,398.4 M130.2,398.4L141.9,400.3 M127.1,391.6L130.2,398.4 M127.1,391.6L135.6,386.6 M147.3,388.4L150.5,395.3 M126.2,366L137.9,367.9 M123.1,359.2L126.2,366 M123.1,359.2L131.7,354.2 M143.3,356L146.5,362.9 M80.3,384.2L92,386.1 M77.2,377.4L80.3,384.2 M77.2,377.4L85.8,372.4 M85.8,372.4L97.4,374.2 M170.7,392.1L182.4,393.9 M167.6,385.2L170.7,392.1 M167.6,385.2L176.1,380.2 M187.8,382.1L190.9,388.9 M119.4,422.2L131.1,424 M116.2,415.3L119.4,422.2 M116.2,415.3L124.8,410.3 M222.8,387.6L231.4,382.6 M211.2,385.8L222.8,387.6 M208,378.9L211.2,385.8 M216.6,373.9L228.3,375.7 M228.3,375.7L231.4,382.6 M120.8,377.9L132.5,379.7 M117.7,371L126.2,366 M177,405.8L185.5,400.8 M165.3,404L177,405.8 M162.1,397.1L170.7,392.1 M161.3,371.5L173,373.4 M158.2,364.7L166.7,359.7 M166.7,359.7L178.4,361.5 M178.4,361.5L181.5,368.4 M178.4,361.5L187,356.5 M187,356.5L198.6,358.4 M198.6,358.4L201.8,365.2 M217.4,399.5L226,394.4 M205.8,397.6L217.4,399.5 M202.6,390.8L211.2,385.8 M211.2,385.8L222.9,387.6 M222.9,387.6L226,394.4 M178.4,361.5L186.9,356.5 M163.6,352.8L166.7,359.7 M172.1,347.8L183.8,349.7 M183.8,349.7L186.9,356.5 M171.5,417.7L180.1,412.6 M159.9,415.8L171.5,417.7 M177,405.8L180.1,412.6 M110,401.6L121.7,403.4 M115.4,389.7L127.1,391.6 M155.9,383.4L167.6,385.2 M115.4,389.8L127.1,391.6 M112.3,382.9L115.4,389.8 M169,341L177.6,336 M154.2,332.3L157.3,339.1 M154.2,332.3L162.7,327.3 M162.7,327.3L174.4,329.1 M174.4,329.1L177.6,336 M213.5,367.1L222,362 M198.6,358.4L207.2,353.3 M207.2,353.3L218.9,355.2 M218.9,355.2L222,362 M102.9,362.4L106,369.2 M102.9,362.4L111.4,357.3 M111.4,357.3L123.1,359.2 M150.4,395.3L162.1,397.1 M147.3,388.4L150.4,395.3 M196.4,377.1L208,378.9 M197.2,402.6L198.6,405.7 M101.4,406.6L102.8,409.7 M89.7,404.8L85.8,407.1 M86.6,397.9L81.3,397.1 M154.4,427.7L159.6,428.5 M145.9,432.7L147.3,435.8 M134.2,430.8L130.4,433 M196.3,377.1L192.4,379.4 M128.5,347.3L123.2,346.5 M137.1,342.3L135.7,339.2 M148.8,344.1L152.7,341.8 M148.8,344.2L143.6,343.4 M80.3,384.2L76.4,386.4 M77.2,377.4L71.9,376.6 M85.8,372.4L84.4,369.3 M119.4,422.2L115.6,424.5 M116.2,415.3L110.9,414.5 M231.4,382.6L236.7,383.4 M222.8,387.6L224.2,390.7 M228.3,375.7L232.2,373.4 M187,356.5L185.6,353.4 M226,394.4L231.3,395.2 M217.4,399.5L218.8,402.6 M222.9,387.6L226.8,385.3 M186.9,356.5L192.1,357.3 M183.8,349.7L187.6,347.5 M180.1,412.6L185.4,413.4 M171.5,417.7L172.9,420.8 M115.4,389.8L111.6,392.1 M177.6,336L182.9,336.8 M154.2,332.3L149,331.5 M162.7,327.3L161.3,324.2 M174.4,329.1L178.2,326.8 M222,362L227.3,362.8 M207.2,353.3L205.8,350.2 M218.9,355.2L222.8,352.9 M102.9,362.4L97.7,361.6 M111.4,357.3L110,354.2 M150.4,395.3L146.5,397.6" stroke="#3ab8e6" stroke-width="1.95" fill="none" stroke-linecap="round"/>
<ellipse cx="166.4" cy="337.3" rx="6" ry="3.6" fill="#777" opacity="0.35" filter="url(#blur2)"/>
<ellipse cx="165.9" cy="335.7" rx="5.8" ry="4.6" fill="#f2d89c"/>
<ellipse cx="165.9" cy="333.5" rx="5.5" ry="3.9" fill="url(#gnp)"/>
<ellipse cx="140.7" cy="352.4" rx="6" ry="3.6" fill="#777" opacity="0.35" filter="url(#blur2)"/>
<ellipse cx="140.2" cy="350.8" rx="5.8" ry="4.6" fill="#f2d89c"/>
<ellipse cx="140.2" cy="348.6" rx="5.5" ry="3.9" fill="url(#gnp)"/>
<ellipse cx="115" cy="367.4" rx="6" ry="3.6" fill="#777" opacity="0.35" filter="url(#blur2)"/>
<ellipse cx="114.5" cy="365.8" rx="5.8" ry="4.6" fill="#f2d89c"/>
<ellipse cx="114.5" cy="363.6" rx="5.5" ry="3.9" fill="url(#gnp)"/>
<ellipse cx="89.4" cy="382.4" rx="6" ry="3.6" fill="#777" opacity="0.35" filter="url(#blur2)"/>
<ellipse cx="88.9" cy="380.8" rx="5.8" ry="4.6" fill="#f2d89c"/>
<ellipse cx="88.9" cy="378.6" rx="5.5" ry="3.9" fill="url(#gnp)"/>
<ellipse cx="175.8" cy="357.9" rx="6" ry="3.6" fill="#777" opacity="0.35" filter="url(#blur2)"/>
<ellipse cx="175.3" cy="356.3" rx="5.8" ry="4.6" fill="#f2d89c"/>
<ellipse cx="175.3" cy="354.1" rx="5.5" ry="3.9" fill="url(#gnp)"/>
<ellipse cx="210.8" cy="363.4" rx="6" ry="3.6" fill="#777" opacity="0.35" filter="url(#blur2)"/>
<ellipse cx="210.3" cy="361.8" rx="5.8" ry="4.6" fill="#f2d89c"/>
<ellipse cx="210.3" cy="359.6" rx="5.5" ry="3.9" fill="url(#gnp)"/>
<ellipse cx="150.1" cy="372.9" rx="6" ry="3.6" fill="#777" opacity="0.35" filter="url(#blur2)"/>
<ellipse cx="149.6" cy="371.3" rx="5.8" ry="4.6" fill="#f2d89c"/>
<ellipse cx="149.6" cy="369.1" rx="5.5" ry="3.9" fill="url(#gnp)"/>
<ellipse cx="185.2" cy="378.4" rx="6" ry="3.6" fill="#777" opacity="0.35" filter="url(#blur2)"/>
<ellipse cx="184.7" cy="376.8" rx="5.8" ry="4.6" fill="#f2d89c"/>
<ellipse cx="184.7" cy="374.6" rx="5.5" ry="3.9" fill="url(#gnp)"/>
<ellipse cx="220.2" cy="383.9" rx="6" ry="3.6" fill="#777" opacity="0.35" filter="url(#blur2)"/>
<ellipse cx="219.7" cy="382.4" rx="5.8" ry="4.6" fill="#f2d89c"/>
<ellipse cx="219.7" cy="380.1" rx="5.5" ry="3.9" fill="url(#gnp)"/>
<ellipse cx="124.4" cy="387.9" rx="6" ry="3.6" fill="#777" opacity="0.35" filter="url(#blur2)"/>
<ellipse cx="123.9" cy="386.3" rx="5.8" ry="4.6" fill="#f2d89c"/>
<ellipse cx="123.9" cy="384.1" rx="5.5" ry="3.9" fill="url(#gnp)"/>
<ellipse cx="159.5" cy="393.5" rx="6" ry="3.6" fill="#777" opacity="0.35" filter="url(#blur2)"/>
<ellipse cx="159" cy="391.9" rx="5.8" ry="4.6" fill="#f2d89c"/>
<ellipse cx="159" cy="389.7" rx="5.5" ry="3.9" fill="url(#gnp)"/>
<ellipse cx="194.6" cy="399" rx="6" ry="3.6" fill="#777" opacity="0.35" filter="url(#blur2)"/>
<ellipse cx="194.1" cy="397.4" rx="5.8" ry="4.6" fill="#f2d89c"/>
<ellipse cx="194.1" cy="395.2" rx="5.5" ry="3.9" fill="url(#gnp)"/>
<ellipse cx="98.8" cy="403" rx="6" ry="3.6" fill="#777" opacity="0.35" filter="url(#blur2)"/>
<ellipse cx="98.3" cy="401.4" rx="5.8" ry="4.6" fill="#f2d89c"/>
<ellipse cx="98.3" cy="399.2" rx="5.5" ry="3.9" fill="url(#gnp)"/>
<ellipse cx="133.8" cy="408.5" rx="6" ry="3.6" fill="#777" opacity="0.35" filter="url(#blur2)"/>
<ellipse cx="133.3" cy="406.9" rx="5.8" ry="4.6" fill="#f2d89c"/>
<ellipse cx="133.3" cy="404.7" rx="5.5" ry="3.9" fill="url(#gnp)"/>
<ellipse cx="168.9" cy="414" rx="6" ry="3.6" fill="#777" opacity="0.35" filter="url(#blur2)"/>
<ellipse cx="168.4" cy="412.4" rx="5.8" ry="4.6" fill="#f2d89c"/>
<ellipse cx="168.4" cy="410.2" rx="5.5" ry="3.9" fill="url(#gnp)"/>
<ellipse cx="143.2" cy="429" rx="6" ry="3.6" fill="#777" opacity="0.35" filter="url(#blur2)"/>
<ellipse cx="142.7" cy="427.4" rx="5.8" ry="4.6" fill="#f2d89c"/>
<ellipse cx="142.7" cy="425.2" rx="5.5" ry="3.9" fill="url(#gnp)"/>
</g>
<g>
<polygon points="149.6,488 217.2,482.3 239.5,522.5 171.9,528.4" fill="#dcdcdc" stroke="#cfcfcf" stroke-width="0.5"/>
<polygon points="224.2,532.3 290.3,513.9 314.8,551.1 252.6,567.7" fill="#dcdcdc" stroke="#cfcfcf" stroke-width="0.5"/>
<polygon points="171.1,489.1 202.6,486 224.9,498.7 220.3,515.6 188.8,518.7 164.2,505.6" fill="#3fae44" stroke="#2a7a2e" stroke-width="0.6"/>
<polygon points="194.9,502.3 171.1,489.1 186.8,487.6" fill="#5cc05e" opacity="0.45"/>
<polygon points="194.9,502.3 202.6,486 213.8,492.4" fill="#5cc05e" opacity="0.45"/>
<polygon points="194.9,502.3 224.9,498.7 222.6,507.1" fill="#5cc05e" opacity="0.45"/>
<polygon points="194.9,502.3 220.3,515.6 204.6,517.2" fill="#5cc05e" opacity="0.45"/>
<polygon points="194.9,502.3 188.8,518.7 176.5,512.2" fill="#5cc05e" opacity="0.45"/>
<polygon points="194.9,502.3 164.2,505.6 167.6,497.4" fill="#5cc05e" opacity="0.45"/>
<path d="M194.9,502.3L171.1,489.1M194.9,502.3L186.8,487.6M171.1,489.1L191.3,495.7M194.9,502.3L202.6,486M194.9,502.3L213.8,492.4M202.6,486L203.4,497.8M194.9,502.3L224.9,498.7M194.9,502.3L222.6,507.1M224.9,498.7L207.4,504.5M194.9,502.3L220.3,515.6M194.9,502.3L204.6,517.2M220.3,515.6L199.2,509M194.9,502.3L188.8,518.7M194.9,502.3L176.5,512.2M188.8,518.7L186.6,506.7M194.9,502.3L164.2,505.6M194.9,502.3L167.6,497.4M164.2,505.6L182.6,500.1" stroke="#2a7a2e" stroke-width="0.45"/>
<circle cx="189.3" cy="492" r="2.6" fill="#f4f4f4" opacity="0.9"/>
<circle cx="189.3" cy="492" r="1.7" fill="#d42a2a"/>
<circle cx="208.1" cy="495.3" r="2.6" fill="#f4f4f4" opacity="0.9"/>
<circle cx="208.1" cy="495.3" r="1.7" fill="#d42a2a"/>
<circle cx="214.3" cy="505.7" r="2.6" fill="#f4f4f4" opacity="0.9"/>
<circle cx="214.3" cy="505.7" r="1.7" fill="#d42a2a"/>
<circle cx="201.7" cy="512.7" r="2.6" fill="#f4f4f4" opacity="0.9"/>
<circle cx="201.7" cy="512.7" r="1.7" fill="#d42a2a"/>
<circle cx="182" cy="509.2" r="2.6" fill="#f4f4f4" opacity="0.9"/>
<circle cx="182" cy="509.2" r="1.7" fill="#d42a2a"/>
<circle cx="175.8" cy="498.8" r="2.6" fill="#f4f4f4" opacity="0.9"/>
<circle cx="175.8" cy="498.8" r="1.7" fill="#d42a2a"/>
<polygon points="245,529.3 274.6,520.8 300.3,529.6 297.2,546.8 267.2,555.4 241.9,546.5" fill="#3fae44" stroke="#2a7a2e" stroke-width="0.6"/>
<polygon points="271.1,537.6 245,529.3 259.8,525" fill="#5cc05e" opacity="0.45"/>
<polygon points="271.1,537.6 274.6,520.8 287.5,525.2" fill="#5cc05e" opacity="0.45"/>
<polygon points="271.1,537.6 300.3,529.6 298.8,538.2" fill="#5cc05e" opacity="0.45"/>
<polygon points="271.1,537.6 297.2,546.8 282.2,551.1" fill="#5cc05e" opacity="0.45"/>
<polygon points="271.1,537.6 267.2,555.4 254.6,551" fill="#5cc05e" opacity="0.45"/>
<polygon points="271.1,537.6 241.9,546.5 243.4,537.9" fill="#5cc05e" opacity="0.45"/>
<path d="M271.1,537.6L245,529.3M271.1,537.6L259.8,525M245,529.3L266,532M271.1,537.6L274.6,520.8M271.1,537.6L287.5,525.2M274.6,520.8L278.5,532M271.1,537.6L300.3,529.6M271.1,537.6L298.8,538.2M300.3,529.6L283.5,537.9M271.1,537.6L297.2,546.8M271.1,537.6L282.2,551.1M297.2,546.8L276.1,543.7M271.1,537.6L267.2,555.4M271.1,537.6L254.6,551M267.2,555.4L263.7,543.6M271.1,537.6L241.9,546.5M271.1,537.6L243.4,537.9M241.9,546.5L258.7,537.7" stroke="#2a7a2e" stroke-width="0.45"/>
<circle cx="262.1" cy="529.4" r="1.3" fill="#d42a2a"/>
<circle cx="264.3" cy="529.4" r="1.3" fill="#d42a2a"/>
<circle cx="263.2" cy="527.9" r="1.3" fill="#d42a2a"/>
<circle cx="281.4" cy="529.5" r="1.3" fill="#d42a2a"/>
<circle cx="283.6" cy="529.5" r="1.3" fill="#d42a2a"/>
<circle cx="282.5" cy="528" r="1.3" fill="#d42a2a"/>
<circle cx="289.4" cy="538.6" r="1.3" fill="#d42a2a"/>
<circle cx="291.6" cy="538.6" r="1.3" fill="#d42a2a"/>
<circle cx="290.5" cy="537.1" r="1.3" fill="#d42a2a"/>
<circle cx="277.8" cy="547.6" r="1.3" fill="#d42a2a"/>
<circle cx="280" cy="547.6" r="1.3" fill="#d42a2a"/>
<circle cx="278.9" cy="546.1" r="1.3" fill="#d42a2a"/>
<circle cx="258.4" cy="547.5" r="1.3" fill="#d42a2a"/>
<circle cx="260.6" cy="547.5" r="1.3" fill="#d42a2a"/>
<circle cx="259.5" cy="546" r="1.3" fill="#d42a2a"/>
<circle cx="250.6" cy="538.4" r="1.3" fill="#d42a2a"/>
<circle cx="252.8" cy="538.4" r="1.3" fill="#d42a2a"/>
<circle cx="251.7" cy="536.9" r="1.3" fill="#d42a2a"/>
</g>
<g>
<line x1="421.4" y1="344.7" x2="409" y2="366.8" stroke="#8c8c8c" stroke-width="1.6" stroke-linecap="round"/><line x1="421.4" y1="344.7" x2="435.3" y2="366.1" stroke="#8c8c8c" stroke-width="1.6" stroke-linecap="round"/><line x1="421.4" y1="344.7" x2="411.8" y2="357.8" stroke="#8c8c8c" stroke-width="1.6" stroke-linecap="round"/><line x1="421.4" y1="344.7" x2="432.5" y2="357.1" stroke="#8c8c8c" stroke-width="1.6" stroke-linecap="round"/><line x1="422.1" y1="375.8" x2="409" y2="366.8" stroke="#8c8c8c" stroke-width="1.6" stroke-linecap="round"/><line x1="422.1" y1="375.8" x2="435.3" y2="366.1" stroke="#8c8c8c" stroke-width="1.6" stroke-linecap="round"/><line x1="422.1" y1="375.8" x2="411.8" y2="357.8" stroke="#8c8c8c" stroke-width="1.6" stroke-linecap="round"/><line x1="422.1" y1="375.8" x2="432.5" y2="357.1" stroke="#8c8c8c" stroke-width="1.6" stroke-linecap="round"/><line x1="409" y1="366.8" x2="435.3" y2="366.1" stroke="#8c8c8c" stroke-width="1.6" stroke-linecap="round"/><line x1="435.3" y1="366.1" x2="432.5" y2="357.1" stroke="#8c8c8c" stroke-width="1.6" stroke-linecap="round"/><line x1="432.5" y1="357.1" x2="411.8" y2="357.8" stroke="#8c8c8c" stroke-width="1.6" stroke-linecap="round"/><line x1="411.8" y1="357.8" x2="409" y2="366.8" stroke="#8c8c8c" stroke-width="1.6" stroke-linecap="round"/><line x1="421.4" y1="344.7" x2="409" y2="366.8" stroke="#ffffff" stroke-width="0.48" opacity="0.6"/><line x1="421.4" y1="344.7" x2="435.3" y2="366.1" stroke="#ffffff" stroke-width="0.48" opacity="0.6"/><line x1="421.4" y1="344.7" x2="411.8" y2="357.8" stroke="#ffffff" stroke-width="0.48" opacity="0.6"/><line x1="421.4" y1="344.7" x2="432.5" y2="357.1" stroke="#ffffff" stroke-width="0.48" opacity="0.6"/><line x1="422.1" y1="375.8" x2="409" y2="366.8" stroke="#ffffff" stroke-width="0.48" opacity="0.6"/><line x1="422.1" y1="375.8" x2="435.3" y2="366.1" stroke="#ffffff" stroke-width="0.48" opacity="0.6"/><line x1="422.1" y1="375.8" x2="411.8" y2="357.8" stroke="#ffffff" stroke-width="0.48" opacity="0.6"/><line x1="422.1" y1="375.8" x2="432.5" y2="357.1" stroke="#ffffff" stroke-width="0.48" opacity="0.6"/><line x1="409" y1="366.8" x2="435.3" y2="366.1" stroke="#ffffff" stroke-width="0.48" opacity="0.6"/><line x1="435.3" y1="366.1" x2="432.5" y2="357.1" stroke="#ffffff" stroke-width="0.48" opacity="0.6"/><line x1="432.5" y1="357.1" x2="411.8" y2="357.8" stroke="#ffffff" stroke-width="0.48" opacity="0.6"/><line x1="411.8" y1="357.8" x2="409" y2="366.8" stroke="#ffffff" stroke-width="0.48" opacity="0.6"/>
<rect x="418.7" y="362.7" width="7.6" height="6.2" fill="none" stroke="#222" stroke-width="0.6" stroke-dasharray="1 0.8"/>
<path d="M418.7,368.9 L411.5,381 M426.3,368.9 L432.6,381" stroke="#222" stroke-width="0.6" stroke-dasharray="1 0.8"/>
<rect x="411.3" y="380.9" width="21.5" height="15.6" fill="#fff" stroke="#222" stroke-width="0.9"/>
<path d="M415.5,393.5 L428,383.5" stroke="#707070" stroke-width="4.5" stroke-linecap="round"/><path d="M416,391.5 L427,383" stroke="#a0a0a0" stroke-width="1"/>
<path d="M435.5,361.5 H465" stroke="#333" stroke-width="1"/><path d="M463,358.8 L468.6,361.5 L463,364.2 Z" fill="#111"/>
<line x1="481.8" y1="345.5" x2="471" y2="366.6" stroke="#4f86c6" stroke-width="1.8" stroke-linecap="round"/><line x1="481.8" y1="345.5" x2="495.1" y2="366.6" stroke="#4f86c6" stroke-width="1.8" stroke-linecap="round"/><line x1="481.8" y1="345.5" x2="473.6" y2="358" stroke="#4f86c6" stroke-width="1.8" stroke-linecap="round"/><line x1="481.8" y1="345.5" x2="492.5" y2="357.5" stroke="#4f86c6" stroke-width="1.8" stroke-linecap="round"/><line x1="482.2" y1="376.9" x2="471" y2="366.6" stroke="#4f86c6" stroke-width="1.8" stroke-linecap="round"/><line x1="482.2" y1="376.9" x2="495.1" y2="366.6" stroke="#4f86c6" stroke-width="1.8" stroke-linecap="round"/><line x1="482.2" y1="376.9" x2="473.6" y2="358" stroke="#4f86c6" stroke-width="1.8" stroke-linecap="round"/><line x1="482.2" y1="376.9" x2="492.5" y2="357.5" stroke="#4f86c6" stroke-width="1.8" stroke-linecap="round"/><line x1="471" y1="366.6" x2="495.1" y2="366.6" stroke="#4f86c6" stroke-width="1.8" stroke-linecap="round"/><line x1="495.1" y1="366.6" x2="492.5" y2="357.5" stroke="#4f86c6" stroke-width="1.8" stroke-linecap="round"/><line x1="492.5" y1="357.5" x2="473.6" y2="358" stroke="#4f86c6" stroke-width="1.8" stroke-linecap="round"/><line x1="473.6" y1="358" x2="471" y2="366.6" stroke="#4f86c6" stroke-width="1.8" stroke-linecap="round"/><line x1="481.8" y1="345.5" x2="471" y2="366.6" stroke="#cfe0f4" stroke-width="0.54" opacity="0.6"/><line x1="481.8" y1="345.5" x2="495.1" y2="366.6" stroke="#cfe0f4" stroke-width="0.54" opacity="0.6"/><line x1="481.8" y1="345.5" x2="473.6" y2="358" stroke="#cfe0f4" stroke-width="0.54" opacity="0.6"/><line x1="481.8" y1="345.5" x2="492.5" y2="357.5" stroke="#cfe0f4" stroke-width="0.54" opacity="0.6"/><line x1="482.2" y1="376.9" x2="471" y2="366.6" stroke="#cfe0f4" stroke-width="0.54" opacity="0.6"/><line x1="482.2" y1="376.9" x2="495.1" y2="366.6" stroke="#cfe0f4" stroke-width="0.54" opacity="0.6"/><line x1="482.2" y1="376.9" x2="473.6" y2="358" stroke="#cfe0f4" stroke-width="0.54" opacity="0.6"/><line x1="482.2" y1="376.9" x2="492.5" y2="357.5" stroke="#cfe0f4" stroke-width="0.54" opacity="0.6"/><line x1="471" y1="366.6" x2="495.1" y2="366.6" stroke="#cfe0f4" stroke-width="0.54" opacity="0.6"/><line x1="495.1" y1="366.6" x2="492.5" y2="357.5" stroke="#cfe0f4" stroke-width="0.54" opacity="0.6"/><line x1="492.5" y1="357.5" x2="473.6" y2="358" stroke="#cfe0f4" stroke-width="0.54" opacity="0.6"/><line x1="473.6" y1="358" x2="471" y2="366.6" stroke="#cfe0f4" stroke-width="0.54" opacity="0.6"/>
<path d="M472,378 L467.8,380.5 M493,369 L498,369 L503.5,380.5" stroke="#222" stroke-width="0.6" stroke-dasharray="1 0.8" fill="none"/>
<rect x="467.6" y="380.5" width="36.1" height="15.7" fill="#fff" stroke="#222" stroke-width="0.9"/>
<rect x="469.5" y="385" width="4.5" height="4.5" rx="1" fill="#707070"/><path d="M475.5,386.5 h4 M475.5,388.8 h4 M480,387.6 l2.5,-1.5 l2.5,2.5 l2.5,-3 l2.5,3 l2.5,-2.5 l2.5,1.5" stroke="#444" stroke-width="0.6" fill="none"/>
<path d="M496.2,362.3 H542.5" stroke="#333" stroke-width="1"/><path d="M540,359.5 L545.8,362.3 L540,365.1 Z" fill="#111"/>
<line x1="556" y1="339.5" x2="549" y2="348.5" stroke="#4a80c4" stroke-width="1.15" stroke-linecap="round"/><line x1="556" y1="339.5" x2="562" y2="349.5" stroke="#4a80c4" stroke-width="1.15" stroke-linecap="round"/><line x1="556" y1="339.5" x2="550.5" y2="345" stroke="#4a80c4" stroke-width="1.15" stroke-linecap="round"/><line x1="556" y1="339.5" x2="563" y2="345.5" stroke="#4a80c4" stroke-width="1.15" stroke-linecap="round"/><line x1="556" y1="354.5" x2="549" y2="348.5" stroke="#4a80c4" stroke-width="1.15" stroke-linecap="round"/><line x1="556" y1="354.5" x2="562" y2="349.5" stroke="#4a80c4" stroke-width="1.15" stroke-linecap="round"/><line x1="556" y1="354.5" x2="550.5" y2="345" stroke="#4a80c4" stroke-width="1.15" stroke-linecap="round"/><line x1="556" y1="354.5" x2="563" y2="345.5" stroke="#4a80c4" stroke-width="1.15" stroke-linecap="round"/><line x1="549" y1="348.5" x2="562" y2="349.5" stroke="#4a80c4" stroke-width="1.15" stroke-linecap="round"/><line x1="562" y1="349.5" x2="563" y2="345.5" stroke="#4a80c4" stroke-width="1.15" stroke-linecap="round"/><line x1="563" y1="345.5" x2="550.5" y2="345" stroke="#4a80c4" stroke-width="1.15" stroke-linecap="round"/><line x1="550.5" y1="345" x2="549" y2="348.5" stroke="#4a80c4" stroke-width="1.15" stroke-linecap="round"/><line x1="556" y1="339.5" x2="549" y2="348.5" stroke="#d8e6f6" stroke-width="0.34" opacity="0.6"/><line x1="556" y1="339.5" x2="562" y2="349.5" stroke="#d8e6f6" stroke-width="0.34" opacity="0.6"/><line x1="556" y1="339.5" x2="550.5" y2="345" stroke="#d8e6f6" stroke-width="0.34" opacity="0.6"/><line x1="556" y1="339.5" x2="563" y2="345.5" stroke="#d8e6f6" stroke-width="0.34" opacity="0.6"/><line x1="556" y1="354.5" x2="549" y2="348.5" stroke="#d8e6f6" stroke-width="0.34" opacity="0.6"/><line x1="556" y1="354.5" x2="562" y2="349.5" stroke="#d8e6f6" stroke-width="0.34" opacity="0.6"/><line x1="556" y1="354.5" x2="550.5" y2="345" stroke="#d8e6f6" stroke-width="0.34" opacity="0.6"/><line x1="556" y1="354.5" x2="563" y2="345.5" stroke="#d8e6f6" stroke-width="0.34" opacity="0.6"/><line x1="549" y1="348.5" x2="562" y2="349.5" stroke="#d8e6f6" stroke-width="0.34" opacity="0.6"/><line x1="562" y1="349.5" x2="563" y2="345.5" stroke="#d8e6f6" stroke-width="0.34" opacity="0.6"/><line x1="563" y1="345.5" x2="550.5" y2="345" stroke="#d8e6f6" stroke-width="0.34" opacity="0.6"/><line x1="550.5" y1="345" x2="549" y2="348.5" stroke="#d8e6f6" stroke-width="0.34" opacity="0.6"/>
<line x1="553" y1="352" x2="546" y2="361" stroke="#4a80c4" stroke-width="1.15" stroke-linecap="round"/><line x1="553" y1="352" x2="559" y2="362" stroke="#4a80c4" stroke-width="1.15" stroke-linecap="round"/><line x1="553" y1="352" x2="547.5" y2="357.5" stroke="#4a80c4" stroke-width="1.15" stroke-linecap="round"/><line x1="553" y1="352" x2="560" y2="358" stroke="#4a80c4" stroke-width="1.15" stroke-linecap="round"/><line x1="553" y1="367" x2="546" y2="361" stroke="#4a80c4" stroke-width="1.15" stroke-linecap="round"/><line x1="553" y1="367" x2="559" y2="362" stroke="#4a80c4" stroke-width="1.15" stroke-linecap="round"/><line x1="553" y1="367" x2="547.5" y2="357.5" stroke="#4a80c4" stroke-width="1.15" stroke-linecap="round"/><line x1="553" y1="367" x2="560" y2="358" stroke="#4a80c4" stroke-width="1.15" stroke-linecap="round"/><line x1="546" y1="361" x2="559" y2="362" stroke="#4a80c4" stroke-width="1.15" stroke-linecap="round"/><line x1="559" y1="362" x2="560" y2="358" stroke="#4a80c4" stroke-width="1.15" stroke-linecap="round"/><line x1="560" y1="358" x2="547.5" y2="357.5" stroke="#4a80c4" stroke-width="1.15" stroke-linecap="round"/><line x1="547.5" y1="357.5" x2="546" y2="361" stroke="#4a80c4" stroke-width="1.15" stroke-linecap="round"/><line x1="553" y1="352" x2="546" y2="361" stroke="#d8e6f6" stroke-width="0.34" opacity="0.6"/><line x1="553" y1="352" x2="559" y2="362" stroke="#d8e6f6" stroke-width="0.34" opacity="0.6"/><line x1="553" y1="352" x2="547.5" y2="357.5" stroke="#d8e6f6" stroke-width="0.34" opacity="0.6"/><line x1="553" y1="352" x2="560" y2="358" stroke="#d8e6f6" stroke-width="0.34" opacity="0.6"/><line x1="553" y1="367" x2="546" y2="361" stroke="#d8e6f6" stroke-width="0.34" opacity="0.6"/><line x1="553" y1="367" x2="559" y2="362" stroke="#d8e6f6" stroke-width="0.34" opacity="0.6"/><line x1="553" y1="367" x2="547.5" y2="357.5" stroke="#d8e6f6" stroke-width="0.34" opacity="0.6"/><line x1="553" y1="367" x2="560" y2="358" stroke="#d8e6f6" stroke-width="0.34" opacity="0.6"/><line x1="546" y1="361" x2="559" y2="362" stroke="#d8e6f6" stroke-width="0.34" opacity="0.6"/><line x1="559" y1="362" x2="560" y2="358" stroke="#d8e6f6" stroke-width="0.34" opacity="0.6"/><line x1="560" y1="358" x2="547.5" y2="357.5" stroke="#d8e6f6" stroke-width="0.34" opacity="0.6"/><line x1="547.5" y1="357.5" x2="546" y2="361" stroke="#d8e6f6" stroke-width="0.34" opacity="0.6"/>
<line x1="550" y1="364.5" x2="543" y2="373.5" stroke="#4a80c4" stroke-width="1.15" stroke-linecap="round"/><line x1="550" y1="364.5" x2="556" y2="374.5" stroke="#4a80c4" stroke-width="1.15" stroke-linecap="round"/><line x1="550" y1="364.5" x2="544.5" y2="370" stroke="#4a80c4" stroke-width="1.15" stroke-linecap="round"/><line x1="550" y1="364.5" x2="557" y2="370.5" stroke="#4a80c4" stroke-width="1.15" stroke-linecap="round"/><line x1="550" y1="379.5" x2="543" y2="373.5" stroke="#4a80c4" stroke-width="1.15" stroke-linecap="round"/><line x1="550" y1="379.5" x2="556" y2="374.5" stroke="#4a80c4" stroke-width="1.15" stroke-linecap="round"/><line x1="550" y1="379.5" x2="544.5" y2="370" stroke="#4a80c4" stroke-width="1.15" stroke-linecap="round"/><line x1="550" y1="379.5" x2="557" y2="370.5" stroke="#4a80c4" stroke-width="1.15" stroke-linecap="round"/><line x1="543" y1="373.5" x2="556" y2="374.5" stroke="#4a80c4" stroke-width="1.15" stroke-linecap="round"/><line x1="556" y1="374.5" x2="557" y2="370.5" stroke="#4a80c4" stroke-width="1.15" stroke-linecap="round"/><line x1="557" y1="370.5" x2="544.5" y2="370" stroke="#4a80c4" stroke-width="1.15" stroke-linecap="round"/><line x1="544.5" y1="370" x2="543" y2="373.5" stroke="#4a80c4" stroke-width="1.15" stroke-linecap="round"/><line x1="550" y1="364.5" x2="543" y2="373.5" stroke="#d8e6f6" stroke-width="0.34" opacity="0.6"/><line x1="550" y1="364.5" x2="556" y2="374.5" stroke="#d8e6f6" stroke-width="0.34" opacity="0.6"/><line x1="550" y1="364.5" x2="544.5" y2="370" stroke="#d8e6f6" stroke-width="0.34" opacity="0.6"/><line x1="550" y1="364.5" x2="557" y2="370.5" stroke="#d8e6f6" stroke-width="0.34" opacity="0.6"/><line x1="550" y1="379.5" x2="543" y2="373.5" stroke="#d8e6f6" stroke-width="0.34" opacity="0.6"/><line x1="550" y1="379.5" x2="556" y2="374.5" stroke="#d8e6f6" stroke-width="0.34" opacity="0.6"/><line x1="550" y1="379.5" x2="544.5" y2="370" stroke="#d8e6f6" stroke-width="0.34" opacity="0.6"/><line x1="550" y1="379.5" x2="557" y2="370.5" stroke="#d8e6f6" stroke-width="0.34" opacity="0.6"/><line x1="543" y1="373.5" x2="556" y2="374.5" stroke="#d8e6f6" stroke-width="0.34" opacity="0.6"/><line x1="556" y1="374.5" x2="557" y2="370.5" stroke="#d8e6f6" stroke-width="0.34" opacity="0.6"/><line x1="557" y1="370.5" x2="544.5" y2="370" stroke="#d8e6f6" stroke-width="0.34" opacity="0.6"/><line x1="544.5" y1="370" x2="543" y2="373.5" stroke="#d8e6f6" stroke-width="0.34" opacity="0.6"/>
<line x1="570.5" y1="336.5" x2="563.5" y2="345.5" stroke="#4a80c4" stroke-width="1.15" stroke-linecap="round"/><line x1="570.5" y1="336.5" x2="576.5" y2="346.5" stroke="#4a80c4" stroke-width="1.15" stroke-linecap="round"/><line x1="570.5" y1="336.5" x2="565" y2="342" stroke="#4a80c4" stroke-width="1.15" stroke-linecap="round"/><line x1="570.5" y1="336.5" x2="577.5" y2="342.5" stroke="#4a80c4" stroke-width="1.15" stroke-linecap="round"/><line x1="570.5" y1="351.5" x2="563.5" y2="345.5" stroke="#4a80c4" stroke-width="1.15" stroke-linecap="round"/><line x1="570.5" y1="351.5" x2="576.5" y2="346.5" stroke="#4a80c4" stroke-width="1.15" stroke-linecap="round"/><line x1="570.5" y1="351.5" x2="565" y2="342" stroke="#4a80c4" stroke-width="1.15" stroke-linecap="round"/><line x1="570.5" y1="351.5" x2="577.5" y2="342.5" stroke="#4a80c4" stroke-width="1.15" stroke-linecap="round"/><line x1="563.5" y1="345.5" x2="576.5" y2="346.5" stroke="#4a80c4" stroke-width="1.15" stroke-linecap="round"/><line x1="576.5" y1="346.5" x2="577.5" y2="342.5" stroke="#4a80c4" stroke-width="1.15" stroke-linecap="round"/><line x1="577.5" y1="342.5" x2="565" y2="342" stroke="#4a80c4" stroke-width="1.15" stroke-linecap="round"/><line x1="565" y1="342" x2="563.5" y2="345.5" stroke="#4a80c4" stroke-width="1.15" stroke-linecap="round"/><line x1="570.5" y1="336.5" x2="563.5" y2="345.5" stroke="#d8e6f6" stroke-width="0.34" opacity="0.6"/><line x1="570.5" y1="336.5" x2="576.5" y2="346.5" stroke="#d8e6f6" stroke-width="0.34" opacity="0.6"/><line x1="570.5" y1="336.5" x2="565" y2="342" stroke="#d8e6f6" stroke-width="0.34" opacity="0.6"/><line x1="570.5" y1="336.5" x2="577.5" y2="342.5" stroke="#d8e6f6" stroke-width="0.34" opacity="0.6"/><line x1="570.5" y1="351.5" x2="563.5" y2="345.5" stroke="#d8e6f6" stroke-width="0.34" opacity="0.6"/><line x1="570.5" y1="351.5" x2="576.5" y2="346.5" stroke="#d8e6f6" stroke-width="0.34" opacity="0.6"/><line x1="570.5" y1="351.5" x2="565" y2="342" stroke="#d8e6f6" stroke-width="0.34" opacity="0.6"/><line x1="570.5" y1="351.5" x2="577.5" y2="342.5" stroke="#d8e6f6" stroke-width="0.34" opacity="0.6"/><line x1="563.5" y1="345.5" x2="576.5" y2="346.5" stroke="#d8e6f6" stroke-width="0.34" opacity="0.6"/><line x1="576.5" y1="346.5" x2="577.5" y2="342.5" stroke="#d8e6f6" stroke-width="0.34" opacity="0.6"/><line x1="577.5" y1="342.5" x2="565" y2="342" stroke="#d8e6f6" stroke-width="0.34" opacity="0.6"/><line x1="565" y1="342" x2="563.5" y2="345.5" stroke="#d8e6f6" stroke-width="0.34" opacity="0.6"/>
<line x1="567.5" y1="349" x2="560.5" y2="358" stroke="#4a80c4" stroke-width="1.15" stroke-linecap="round"/><line x1="567.5" y1="349" x2="573.5" y2="359" stroke="#4a80c4" stroke-width="1.15" stroke-linecap="round"/><line x1="567.5" y1="349" x2="562" y2="354.5" stroke="#4a80c4" stroke-width="1.15" stroke-linecap="round"/><line x1="567.5" y1="349" x2="574.5" y2="355" stroke="#4a80c4" stroke-width="1.15" stroke-linecap="round"/><line x1="567.5" y1="364" x2="560.5" y2="358" stroke="#4a80c4" stroke-width="1.15" stroke-linecap="round"/><line x1="567.5" y1="364" x2="573.5" y2="359" stroke="#4a80c4" stroke-width="1.15" stroke-linecap="round"/><line x1="567.5" y1="364" x2="562" y2="354.5" stroke="#4a80c4" stroke-width="1.15" stroke-linecap="round"/><line x1="567.5" y1="364" x2="574.5" y2="355" stroke="#4a80c4" stroke-width="1.15" stroke-linecap="round"/><line x1="560.5" y1="358" x2="573.5" y2="359" stroke="#4a80c4" stroke-width="1.15" stroke-linecap="round"/><line x1="573.5" y1="359" x2="574.5" y2="355" stroke="#4a80c4" stroke-width="1.15" stroke-linecap="round"/><line x1="574.5" y1="355" x2="562" y2="354.5" stroke="#4a80c4" stroke-width="1.15" stroke-linecap="round"/><line x1="562" y1="354.5" x2="560.5" y2="358" stroke="#4a80c4" stroke-width="1.15" stroke-linecap="round"/><line x1="567.5" y1="349" x2="560.5" y2="358" stroke="#d8e6f6" stroke-width="0.34" opacity="0.6"/><line x1="567.5" y1="349" x2="573.5" y2="359" stroke="#d8e6f6" stroke-width="0.34" opacity="0.6"/><line x1="567.5" y1="349" x2="562" y2="354.5" stroke="#d8e6f6" stroke-width="0.34" opacity="0.6"/><line x1="567.5" y1="349" x2="574.5" y2="355" stroke="#d8e6f6" stroke-width="0.34" opacity="0.6"/><line x1="567.5" y1="364" x2="560.5" y2="358" stroke="#d8e6f6" stroke-width="0.34" opacity="0.6"/><line x1="567.5" y1="364" x2="573.5" y2="359" stroke="#d8e6f6" stroke-width="0.34" opacity="0.6"/><line x1="567.5" y1="364" x2="562" y2="354.5" stroke="#d8e6f6" stroke-width="0.34" opacity="0.6"/><line x1="567.5" y1="364" x2="574.5" y2="355" stroke="#d8e6f6" stroke-width="0.34" opacity="0.6"/><line x1="560.5" y1="358" x2="573.5" y2="359" stroke="#d8e6f6" stroke-width="0.34" opacity="0.6"/><line x1="573.5" y1="359" x2="574.5" y2="355" stroke="#d8e6f6" stroke-width="0.34" opacity="0.6"/><line x1="574.5" y1="355" x2="562" y2="354.5" stroke="#d8e6f6" stroke-width="0.34" opacity="0.6"/><line x1="562" y1="354.5" x2="560.5" y2="358" stroke="#d8e6f6" stroke-width="0.34" opacity="0.6"/>
<line x1="564.5" y1="361.5" x2="557.5" y2="370.5" stroke="#4a80c4" stroke-width="1.15" stroke-linecap="round"/><line x1="564.5" y1="361.5" x2="570.5" y2="371.5" stroke="#4a80c4" stroke-width="1.15" stroke-linecap="round"/><line x1="564.5" y1="361.5" x2="559" y2="367" stroke="#4a80c4" stroke-width="1.15" stroke-linecap="round"/><line x1="564.5" y1="361.5" x2="571.5" y2="367.5" stroke="#4a80c4" stroke-width="1.15" stroke-linecap="round"/><line x1="564.5" y1="376.5" x2="557.5" y2="370.5" stroke="#4a80c4" stroke-width="1.15" stroke-linecap="round"/><line x1="564.5" y1="376.5" x2="570.5" y2="371.5" stroke="#4a80c4" stroke-width="1.15" stroke-linecap="round"/><line x1="564.5" y1="376.5" x2="559" y2="367" stroke="#4a80c4" stroke-width="1.15" stroke-linecap="round"/><line x1="564.5" y1="376.5" x2="571.5" y2="367.5" stroke="#4a80c4" stroke-width="1.15" stroke-linecap="round"/><line x1="557.5" y1="370.5" x2="570.5" y2="371.5" stroke="#4a80c4" stroke-width="1.15" stroke-linecap="round"/><line x1="570.5" y1="371.5" x2="571.5" y2="367.5" stroke="#4a80c4" stroke-width="1.15" stroke-linecap="round"/><line x1="571.5" y1="367.5" x2="559" y2="367" stroke="#4a80c4" stroke-width="1.15" stroke-linecap="round"/><line x1="559" y1="367" x2="557.5" y2="370.5" stroke="#4a80c4" stroke-width="1.15" stroke-linecap="round"/><line x1="564.5" y1="361.5" x2="557.5" y2="370.5" stroke="#d8e6f6" stroke-width="0.34" opacity="0.6"/><line x1="564.5" y1="361.5" x2="570.5" y2="371.5" stroke="#d8e6f6" stroke-width="0.34" opacity="0.6"/><line x1="564.5" y1="361.5" x2="559" y2="367" stroke="#d8e6f6" stroke-width="0.34" opacity="0.6"/><line x1="564.5" y1="361.5" x2="571.5" y2="367.5" stroke="#d8e6f6" stroke-width="0.34" opacity="0.6"/><line x1="564.5" y1="376.5" x2="557.5" y2="370.5" stroke="#d8e6f6" stroke-width="0.34" opacity="0.6"/><line x1="564.5" y1="376.5" x2="570.5" y2="371.5" stroke="#d8e6f6" stroke-width="0.34" opacity="0.6"/><line x1="564.5" y1="376.5" x2="559" y2="367" stroke="#d8e6f6" stroke-width="0.34" opacity="0.6"/><line x1="564.5" y1="376.5" x2="571.5" y2="367.5" stroke="#d8e6f6" stroke-width="0.34" opacity="0.6"/><line x1="557.5" y1="370.5" x2="570.5" y2="371.5" stroke="#d8e6f6" stroke-width="0.34" opacity="0.6"/><line x1="570.5" y1="371.5" x2="571.5" y2="367.5" stroke="#d8e6f6" stroke-width="0.34" opacity="0.6"/><line x1="571.5" y1="367.5" x2="559" y2="367" stroke="#d8e6f6" stroke-width="0.34" opacity="0.6"/><line x1="559" y1="367" x2="557.5" y2="370.5" stroke="#d8e6f6" stroke-width="0.34" opacity="0.6"/>
<line x1="585" y1="333.5" x2="578" y2="342.5" stroke="#4a80c4" stroke-width="1.15" stroke-linecap="round"/><line x1="585" y1="333.5" x2="591" y2="343.5" stroke="#4a80c4" stroke-width="1.15" stroke-linecap="round"/><line x1="585" y1="333.5" x2="579.5" y2="339" stroke="#4a80c4" stroke-width="1.15" stroke-linecap="round"/><line x1="585" y1="333.5" x2="592" y2="339.5" stroke="#4a80c4" stroke-width="1.15" stroke-linecap="round"/><line x1="585" y1="348.5" x2="578" y2="342.5" stroke="#4a80c4" stroke-width="1.15" stroke-linecap="round"/><line x1="585" y1="348.5" x2="591" y2="343.5" stroke="#4a80c4" stroke-width="1.15" stroke-linecap="round"/><line x1="585" y1="348.5" x2="579.5" y2="339" stroke="#4a80c4" stroke-width="1.15" stroke-linecap="round"/><line x1="585" y1="348.5" x2="592" y2="339.5" stroke="#4a80c4" stroke-width="1.15" stroke-linecap="round"/><line x1="578" y1="342.5" x2="591" y2="343.5" stroke="#4a80c4" stroke-width="1.15" stroke-linecap="round"/><line x1="591" y1="343.5" x2="592" y2="339.5" stroke="#4a80c4" stroke-width="1.15" stroke-linecap="round"/><line x1="592" y1="339.5" x2="579.5" y2="339" stroke="#4a80c4" stroke-width="1.15" stroke-linecap="round"/><line x1="579.5" y1="339" x2="578" y2="342.5" stroke="#4a80c4" stroke-width="1.15" stroke-linecap="round"/><line x1="585" y1="333.5" x2="578" y2="342.5" stroke="#d8e6f6" stroke-width="0.34" opacity="0.6"/><line x1="585" y1="333.5" x2="591" y2="343.5" stroke="#d8e6f6" stroke-width="0.34" opacity="0.6"/><line x1="585" y1="333.5" x2="579.5" y2="339" stroke="#d8e6f6" stroke-width="0.34" opacity="0.6"/><line x1="585" y1="333.5" x2="592" y2="339.5" stroke="#d8e6f6" stroke-width="0.34" opacity="0.6"/><line x1="585" y1="348.5" x2="578" y2="342.5" stroke="#d8e6f6" stroke-width="0.34" opacity="0.6"/><line x1="585" y1="348.5" x2="591" y2="343.5" stroke="#d8e6f6" stroke-width="0.34" opacity="0.6"/><line x1="585" y1="348.5" x2="579.5" y2="339" stroke="#d8e6f6" stroke-width="0.34" opacity="0.6"/><line x1="585" y1="348.5" x2="592" y2="339.5" stroke="#d8e6f6" stroke-width="0.34" opacity="0.6"/><line x1="578" y1="342.5" x2="591" y2="343.5" stroke="#d8e6f6" stroke-width="0.34" opacity="0.6"/><line x1="591" y1="343.5" x2="592" y2="339.5" stroke="#d8e6f6" stroke-width="0.34" opacity="0.6"/><line x1="592" y1="339.5" x2="579.5" y2="339" stroke="#d8e6f6" stroke-width="0.34" opacity="0.6"/><line x1="579.5" y1="339" x2="578" y2="342.5" stroke="#d8e6f6" stroke-width="0.34" opacity="0.6"/>
<line x1="582" y1="346" x2="575" y2="355" stroke="#4a80c4" stroke-width="1.15" stroke-linecap="round"/><line x1="582" y1="346" x2="588" y2="356" stroke="#4a80c4" stroke-width="1.15" stroke-linecap="round"/><line x1="582" y1="346" x2="576.5" y2="351.5" stroke="#4a80c4" stroke-width="1.15" stroke-linecap="round"/><line x1="582" y1="346" x2="589" y2="352" stroke="#4a80c4" stroke-width="1.15" stroke-linecap="round"/><line x1="582" y1="361" x2="575" y2="355" stroke="#4a80c4" stroke-width="1.15" stroke-linecap="round"/><line x1="582" y1="361" x2="588" y2="356" stroke="#4a80c4" stroke-width="1.15" stroke-linecap="round"/><line x1="582" y1="361" x2="576.5" y2="351.5" stroke="#4a80c4" stroke-width="1.15" stroke-linecap="round"/><line x1="582" y1="361" x2="589" y2="352" stroke="#4a80c4" stroke-width="1.15" stroke-linecap="round"/><line x1="575" y1="355" x2="588" y2="356" stroke="#4a80c4" stroke-width="1.15" stroke-linecap="round"/><line x1="588" y1="356" x2="589" y2="352" stroke="#4a80c4" stroke-width="1.15" stroke-linecap="round"/><line x1="589" y1="352" x2="576.5" y2="351.5" stroke="#4a80c4" stroke-width="1.15" stroke-linecap="round"/><line x1="576.5" y1="351.5" x2="575" y2="355" stroke="#4a80c4" stroke-width="1.15" stroke-linecap="round"/><line x1="582" y1="346" x2="575" y2="355" stroke="#d8e6f6" stroke-width="0.34" opacity="0.6"/><line x1="582" y1="346" x2="588" y2="356" stroke="#d8e6f6" stroke-width="0.34" opacity="0.6"/><line x1="582" y1="346" x2="576.5" y2="351.5" stroke="#d8e6f6" stroke-width="0.34" opacity="0.6"/><line x1="582" y1="346" x2="589" y2="352" stroke="#d8e6f6" stroke-width="0.34" opacity="0.6"/><line x1="582" y1="361" x2="575" y2="355" stroke="#d8e6f6" stroke-width="0.34" opacity="0.6"/><line x1="582" y1="361" x2="588" y2="356" stroke="#d8e6f6" stroke-width="0.34" opacity="0.6"/><line x1="582" y1="361" x2="576.5" y2="351.5" stroke="#d8e6f6" stroke-width="0.34" opacity="0.6"/><line x1="582" y1="361" x2="589" y2="352" stroke="#d8e6f6" stroke-width="0.34" opacity="0.6"/><line x1="575" y1="355" x2="588" y2="356" stroke="#d8e6f6" stroke-width="0.34" opacity="0.6"/><line x1="588" y1="356" x2="589" y2="352" stroke="#d8e6f6" stroke-width="0.34" opacity="0.6"/><line x1="589" y1="352" x2="576.5" y2="351.5" stroke="#d8e6f6" stroke-width="0.34" opacity="0.6"/><line x1="576.5" y1="351.5" x2="575" y2="355" stroke="#d8e6f6" stroke-width="0.34" opacity="0.6"/>
<line x1="579" y1="358.5" x2="572" y2="367.5" stroke="#4a80c4" stroke-width="1.15" stroke-linecap="round"/><line x1="579" y1="358.5" x2="585" y2="368.5" stroke="#4a80c4" stroke-width="1.15" stroke-linecap="round"/><line x1="579" y1="358.5" x2="573.5" y2="364" stroke="#4a80c4" stroke-width="1.15" stroke-linecap="round"/><line x1="579" y1="358.5" x2="586" y2="364.5" stroke="#4a80c4" stroke-width="1.15" stroke-linecap="round"/><line x1="579" y1="373.5" x2="572" y2="367.5" stroke="#4a80c4" stroke-width="1.15" stroke-linecap="round"/><line x1="579" y1="373.5" x2="585" y2="368.5" stroke="#4a80c4" stroke-width="1.15" stroke-linecap="round"/><line x1="579" y1="373.5" x2="573.5" y2="364" stroke="#4a80c4" stroke-width="1.15" stroke-linecap="round"/><line x1="579" y1="373.5" x2="586" y2="364.5" stroke="#4a80c4" stroke-width="1.15" stroke-linecap="round"/><line x1="572" y1="367.5" x2="585" y2="368.5" stroke="#4a80c4" stroke-width="1.15" stroke-linecap="round"/><line x1="585" y1="368.5" x2="586" y2="364.5" stroke="#4a80c4" stroke-width="1.15" stroke-linecap="round"/><line x1="586" y1="364.5" x2="573.5" y2="364" stroke="#4a80c4" stroke-width="1.15" stroke-linecap="round"/><line x1="573.5" y1="364" x2="572" y2="367.5" stroke="#4a80c4" stroke-width="1.15" stroke-linecap="round"/><line x1="579" y1="358.5" x2="572" y2="367.5" stroke="#d8e6f6" stroke-width="0.34" opacity="0.6"/><line x1="579" y1="358.5" x2="585" y2="368.5" stroke="#d8e6f6" stroke-width="0.34" opacity="0.6"/><line x1="579" y1="358.5" x2="573.5" y2="364" stroke="#d8e6f6" stroke-width="0.34" opacity="0.6"/><line x1="579" y1="358.5" x2="586" y2="364.5" stroke="#d8e6f6" stroke-width="0.34" opacity="0.6"/><line x1="579" y1="373.5" x2="572" y2="367.5" stroke="#d8e6f6" stroke-width="0.34" opacity="0.6"/><line x1="579" y1="373.5" x2="585" y2="368.5" stroke="#d8e6f6" stroke-width="0.34" opacity="0.6"/><line x1="579" y1="373.5" x2="573.5" y2="364" stroke="#d8e6f6" stroke-width="0.34" opacity="0.6"/><line x1="579" y1="373.5" x2="586" y2="364.5" stroke="#d8e6f6" stroke-width="0.34" opacity="0.6"/><line x1="572" y1="367.5" x2="585" y2="368.5" stroke="#d8e6f6" stroke-width="0.34" opacity="0.6"/><line x1="585" y1="368.5" x2="586" y2="364.5" stroke="#d8e6f6" stroke-width="0.34" opacity="0.6"/><line x1="586" y1="364.5" x2="573.5" y2="364" stroke="#d8e6f6" stroke-width="0.34" opacity="0.6"/><line x1="573.5" y1="364" x2="572" y2="367.5" stroke="#d8e6f6" stroke-width="0.34" opacity="0.6"/>
<line x1="561" y1="343.5" x2="554" y2="352.5" stroke="#4a80c4" stroke-width="1.15" stroke-linecap="round"/><line x1="561" y1="343.5" x2="567" y2="353.5" stroke="#4a80c4" stroke-width="1.15" stroke-linecap="round"/><line x1="561" y1="343.5" x2="555.5" y2="349" stroke="#4a80c4" stroke-width="1.15" stroke-linecap="round"/><line x1="561" y1="343.5" x2="568" y2="349.5" stroke="#4a80c4" stroke-width="1.15" stroke-linecap="round"/><line x1="561" y1="358.5" x2="554" y2="352.5" stroke="#4a80c4" stroke-width="1.15" stroke-linecap="round"/><line x1="561" y1="358.5" x2="567" y2="353.5" stroke="#4a80c4" stroke-width="1.15" stroke-linecap="round"/><line x1="561" y1="358.5" x2="555.5" y2="349" stroke="#4a80c4" stroke-width="1.15" stroke-linecap="round"/><line x1="561" y1="358.5" x2="568" y2="349.5" stroke="#4a80c4" stroke-width="1.15" stroke-linecap="round"/><line x1="554" y1="352.5" x2="567" y2="353.5" stroke="#4a80c4" stroke-width="1.15" stroke-linecap="round"/><line x1="567" y1="353.5" x2="568" y2="349.5" stroke="#4a80c4" stroke-width="1.15" stroke-linecap="round"/><line x1="568" y1="349.5" x2="555.5" y2="349" stroke="#4a80c4" stroke-width="1.15" stroke-linecap="round"/><line x1="555.5" y1="349" x2="554" y2="352.5" stroke="#4a80c4" stroke-width="1.15" stroke-linecap="round"/><line x1="561" y1="343.5" x2="554" y2="352.5" stroke="#d8e6f6" stroke-width="0.34" opacity="0.6"/><line x1="561" y1="343.5" x2="567" y2="353.5" stroke="#d8e6f6" stroke-width="0.34" opacity="0.6"/><line x1="561" y1="343.5" x2="555.5" y2="349" stroke="#d8e6f6" stroke-width="0.34" opacity="0.6"/><line x1="561" y1="343.5" x2="568" y2="349.5" stroke="#d8e6f6" stroke-width="0.34" opacity="0.6"/><line x1="561" y1="358.5" x2="554" y2="352.5" stroke="#d8e6f6" stroke-width="0.34" opacity="0.6"/><line x1="561" y1="358.5" x2="567" y2="353.5" stroke="#d8e6f6" stroke-width="0.34" opacity="0.6"/><line x1="561" y1="358.5" x2="555.5" y2="349" stroke="#d8e6f6" stroke-width="0.34" opacity="0.6"/><line x1="561" y1="358.5" x2="568" y2="349.5" stroke="#d8e6f6" stroke-width="0.34" opacity="0.6"/><line x1="554" y1="352.5" x2="567" y2="353.5" stroke="#d8e6f6" stroke-width="0.34" opacity="0.6"/><line x1="567" y1="353.5" x2="568" y2="349.5" stroke="#d8e6f6" stroke-width="0.34" opacity="0.6"/><line x1="568" y1="349.5" x2="555.5" y2="349" stroke="#d8e6f6" stroke-width="0.34" opacity="0.6"/><line x1="555.5" y1="349" x2="554" y2="352.5" stroke="#d8e6f6" stroke-width="0.34" opacity="0.6"/>
<line x1="558" y1="356" x2="551" y2="365" stroke="#4a80c4" stroke-width="1.15" stroke-linecap="round"/><line x1="558" y1="356" x2="564" y2="366" stroke="#4a80c4" stroke-width="1.15" stroke-linecap="round"/><line x1="558" y1="356" x2="552.5" y2="361.5" stroke="#4a80c4" stroke-width="1.15" stroke-linecap="round"/><line x1="558" y1="356" x2="565" y2="362" stroke="#4a80c4" stroke-width="1.15" stroke-linecap="round"/><line x1="558" y1="371" x2="551" y2="365" stroke="#4a80c4" stroke-width="1.15" stroke-linecap="round"/><line x1="558" y1="371" x2="564" y2="366" stroke="#4a80c4" stroke-width="1.15" stroke-linecap="round"/><line x1="558" y1="371" x2="552.5" y2="361.5" stroke="#4a80c4" stroke-width="1.15" stroke-linecap="round"/><line x1="558" y1="371" x2="565" y2="362" stroke="#4a80c4" stroke-width="1.15" stroke-linecap="round"/><line x1="551" y1="365" x2="564" y2="366" stroke="#4a80c4" stroke-width="1.15" stroke-linecap="round"/><line x1="564" y1="366" x2="565" y2="362" stroke="#4a80c4" stroke-width="1.15" stroke-linecap="round"/><line x1="565" y1="362" x2="552.5" y2="361.5" stroke="#4a80c4" stroke-width="1.15" stroke-linecap="round"/><line x1="552.5" y1="361.5" x2="551" y2="365" stroke="#4a80c4" stroke-width="1.15" stroke-linecap="round"/><line x1="558" y1="356" x2="551" y2="365" stroke="#d8e6f6" stroke-width="0.34" opacity="0.6"/><line x1="558" y1="356" x2="564" y2="366" stroke="#d8e6f6" stroke-width="0.34" opacity="0.6"/><line x1="558" y1="356" x2="552.5" y2="361.5" stroke="#d8e6f6" stroke-width="0.34" opacity="0.6"/><line x1="558" y1="356" x2="565" y2="362" stroke="#d8e6f6" stroke-width="0.34" opacity="0.6"/><line x1="558" y1="371" x2="551" y2="365" stroke="#d8e6f6" stroke-width="0.34" opacity="0.6"/><line x1="558" y1="371" x2="564" y2="366" stroke="#d8e6f6" stroke-width="0.34" opacity="0.6"/><line x1="558" y1="371" x2="552.5" y2="361.5" stroke="#d8e6f6" stroke-width="0.34" opacity="0.6"/><line x1="558" y1="371" x2="565" y2="362" stroke="#d8e6f6" stroke-width="0.34" opacity="0.6"/><line x1="551" y1="365" x2="564" y2="366" stroke="#d8e6f6" stroke-width="0.34" opacity="0.6"/><line x1="564" y1="366" x2="565" y2="362" stroke="#d8e6f6" stroke-width="0.34" opacity="0.6"/><line x1="565" y1="362" x2="552.5" y2="361.5" stroke="#d8e6f6" stroke-width="0.34" opacity="0.6"/><line x1="552.5" y1="361.5" x2="551" y2="365" stroke="#d8e6f6" stroke-width="0.34" opacity="0.6"/>
<line x1="555" y1="368.5" x2="548" y2="377.5" stroke="#4a80c4" stroke-width="1.15" stroke-linecap="round"/><line x1="555" y1="368.5" x2="561" y2="378.5" stroke="#4a80c4" stroke-width="1.15" stroke-linecap="round"/><line x1="555" y1="368.5" x2="549.5" y2="374" stroke="#4a80c4" stroke-width="1.15" stroke-linecap="round"/><line x1="555" y1="368.5" x2="562" y2="374.5" stroke="#4a80c4" stroke-width="1.15" stroke-linecap="round"/><line x1="555" y1="383.5" x2="548" y2="377.5" stroke="#4a80c4" stroke-width="1.15" stroke-linecap="round"/><line x1="555" y1="383.5" x2="561" y2="378.5" stroke="#4a80c4" stroke-width="1.15" stroke-linecap="round"/><line x1="555" y1="383.5" x2="549.5" y2="374" stroke="#4a80c4" stroke-width="1.15" stroke-linecap="round"/><line x1="555" y1="383.5" x2="562" y2="374.5" stroke="#4a80c4" stroke-width="1.15" stroke-linecap="round"/><line x1="548" y1="377.5" x2="561" y2="378.5" stroke="#4a80c4" stroke-width="1.15" stroke-linecap="round"/><line x1="561" y1="378.5" x2="562" y2="374.5" stroke="#4a80c4" stroke-width="1.15" stroke-linecap="round"/><line x1="562" y1="374.5" x2="549.5" y2="374" stroke="#4a80c4" stroke-width="1.15" stroke-linecap="round"/><line x1="549.5" y1="374" x2="548" y2="377.5" stroke="#4a80c4" stroke-width="1.15" stroke-linecap="round"/><line x1="555" y1="368.5" x2="548" y2="377.5" stroke="#d8e6f6" stroke-width="0.34" opacity="0.6"/><line x1="555" y1="368.5" x2="561" y2="378.5" stroke="#d8e6f6" stroke-width="0.34" opacity="0.6"/><line x1="555" y1="368.5" x2="549.5" y2="374" stroke="#d8e6f6" stroke-width="0.34" opacity="0.6"/><line x1="555" y1="368.5" x2="562" y2="374.5" stroke="#d8e6f6" stroke-width="0.34" opacity="0.6"/><line x1="555" y1="383.5" x2="548" y2="377.5" stroke="#d8e6f6" stroke-width="0.34" opacity="0.6"/><line x1="555" y1="383.5" x2="561" y2="378.5" stroke="#d8e6f6" stroke-width="0.34" opacity="0.6"/><line x1="555" y1="383.5" x2="549.5" y2="374" stroke="#d8e6f6" stroke-width="0.34" opacity="0.6"/><line x1="555" y1="383.5" x2="562" y2="374.5" stroke="#d8e6f6" stroke-width="0.34" opacity="0.6"/><line x1="548" y1="377.5" x2="561" y2="378.5" stroke="#d8e6f6" stroke-width="0.34" opacity="0.6"/><line x1="561" y1="378.5" x2="562" y2="374.5" stroke="#d8e6f6" stroke-width="0.34" opacity="0.6"/><line x1="562" y1="374.5" x2="549.5" y2="374" stroke="#d8e6f6" stroke-width="0.34" opacity="0.6"/><line x1="549.5" y1="374" x2="548" y2="377.5" stroke="#d8e6f6" stroke-width="0.34" opacity="0.6"/>
<line x1="575.5" y1="340.5" x2="568.5" y2="349.5" stroke="#4a80c4" stroke-width="1.15" stroke-linecap="round"/><line x1="575.5" y1="340.5" x2="581.5" y2="350.5" stroke="#4a80c4" stroke-width="1.15" stroke-linecap="round"/><line x1="575.5" y1="340.5" x2="570" y2="346" stroke="#4a80c4" stroke-width="1.15" stroke-linecap="round"/><line x1="575.5" y1="340.5" x2="582.5" y2="346.5" stroke="#4a80c4" stroke-width="1.15" stroke-linecap="round"/><line x1="575.5" y1="355.5" x2="568.5" y2="349.5" stroke="#4a80c4" stroke-width="1.15" stroke-linecap="round"/><line x1="575.5" y1="355.5" x2="581.5" y2="350.5" stroke="#4a80c4" stroke-width="1.15" stroke-linecap="round"/><line x1="575.5" y1="355.5" x2="570" y2="346" stroke="#4a80c4" stroke-width="1.15" stroke-linecap="round"/><line x1="575.5" y1="355.5" x2="582.5" y2="346.5" stroke="#4a80c4" stroke-width="1.15" stroke-linecap="round"/><line x1="568.5" y1="349.5" x2="581.5" y2="350.5" stroke="#4a80c4" stroke-width="1.15" stroke-linecap="round"/><line x1="581.5" y1="350.5" x2="582.5" y2="346.5" stroke="#4a80c4" stroke-width="1.15" stroke-linecap="round"/><line x1="582.5" y1="346.5" x2="570" y2="346" stroke="#4a80c4" stroke-width="1.15" stroke-linecap="round"/><line x1="570" y1="346" x2="568.5" y2="349.5" stroke="#4a80c4" stroke-width="1.15" stroke-linecap="round"/><line x1="575.5" y1="340.5" x2="568.5" y2="349.5" stroke="#d8e6f6" stroke-width="0.34" opacity="0.6"/><line x1="575.5" y1="340.5" x2="581.5" y2="350.5" stroke="#d8e6f6" stroke-width="0.34" opacity="0.6"/><line x1="575.5" y1="340.5" x2="570" y2="346" stroke="#d8e6f6" stroke-width="0.34" opacity="0.6"/><line x1="575.5" y1="340.5" x2="582.5" y2="346.5" stroke="#d8e6f6" stroke-width="0.34" opacity="0.6"/><line x1="575.5" y1="355.5" x2="568.5" y2="349.5" stroke="#d8e6f6" stroke-width="0.34" opacity="0.6"/><line x1="575.5" y1="355.5" x2="581.5" y2="350.5" stroke="#d8e6f6" stroke-width="0.34" opacity="0.6"/><line x1="575.5" y1="355.5" x2="570" y2="346" stroke="#d8e6f6" stroke-width="0.34" opacity="0.6"/><line x1="575.5" y1="355.5" x2="582.5" y2="346.5" stroke="#d8e6f6" stroke-width="0.34" opacity="0.6"/><line x1="568.5" y1="349.5" x2="581.5" y2="350.5" stroke="#d8e6f6" stroke-width="0.34" opacity="0.6"/><line x1="581.5" y1="350.5" x2="582.5" y2="346.5" stroke="#d8e6f6" stroke-width="0.34" opacity="0.6"/><line x1="582.5" y1="346.5" x2="570" y2="346" stroke="#d8e6f6" stroke-width="0.34" opacity="0.6"/><line x1="570" y1="346" x2="568.5" y2="349.5" stroke="#d8e6f6" stroke-width="0.34" opacity="0.6"/>
<line x1="572.5" y1="353" x2="565.5" y2="362" stroke="#4a80c4" stroke-width="1.15" stroke-linecap="round"/><line x1="572.5" y1="353" x2="578.5" y2="363" stroke="#4a80c4" stroke-width="1.15" stroke-linecap="round"/><line x1="572.5" y1="353" x2="567" y2="358.5" stroke="#4a80c4" stroke-width="1.15" stroke-linecap="round"/><line x1="572.5" y1="353" x2="579.5" y2="359" stroke="#4a80c4" stroke-width="1.15" stroke-linecap="round"/><line x1="572.5" y1="368" x2="565.5" y2="362" stroke="#4a80c4" stroke-width="1.15" stroke-linecap="round"/><line x1="572.5" y1="368" x2="578.5" y2="363" stroke="#4a80c4" stroke-width="1.15" stroke-linecap="round"/><line x1="572.5" y1="368" x2="567" y2="358.5" stroke="#4a80c4" stroke-width="1.15" stroke-linecap="round"/><line x1="572.5" y1="368" x2="579.5" y2="359" stroke="#4a80c4" stroke-width="1.15" stroke-linecap="round"/><line x1="565.5" y1="362" x2="578.5" y2="363" stroke="#4a80c4" stroke-width="1.15" stroke-linecap="round"/><line x1="578.5" y1="363" x2="579.5" y2="359" stroke="#4a80c4" stroke-width="1.15" stroke-linecap="round"/><line x1="579.5" y1="359" x2="567" y2="358.5" stroke="#4a80c4" stroke-width="1.15" stroke-linecap="round"/><line x1="567" y1="358.5" x2="565.5" y2="362" stroke="#4a80c4" stroke-width="1.15" stroke-linecap="round"/><line x1="572.5" y1="353" x2="565.5" y2="362" stroke="#d8e6f6" stroke-width="0.34" opacity="0.6"/><line x1="572.5" y1="353" x2="578.5" y2="363" stroke="#d8e6f6" stroke-width="0.34" opacity="0.6"/><line x1="572.5" y1="353" x2="567" y2="358.5" stroke="#d8e6f6" stroke-width="0.34" opacity="0.6"/><line x1="572.5" y1="353" x2="579.5" y2="359" stroke="#d8e6f6" stroke-width="0.34" opacity="0.6"/><line x1="572.5" y1="368" x2="565.5" y2="362" stroke="#d8e6f6" stroke-width="0.34" opacity="0.6"/><line x1="572.5" y1="368" x2="578.5" y2="363" stroke="#d8e6f6" stroke-width="0.34" opacity="0.6"/><line x1="572.5" y1="368" x2="567" y2="358.5" stroke="#d8e6f6" stroke-width="0.34" opacity="0.6"/><line x1="572.5" y1="368" x2="579.5" y2="359" stroke="#d8e6f6" stroke-width="0.34" opacity="0.6"/><line x1="565.5" y1="362" x2="578.5" y2="363" stroke="#d8e6f6" stroke-width="0.34" opacity="0.6"/><line x1="578.5" y1="363" x2="579.5" y2="359" stroke="#d8e6f6" stroke-width="0.34" opacity="0.6"/><line x1="579.5" y1="359" x2="567" y2="358.5" stroke="#d8e6f6" stroke-width="0.34" opacity="0.6"/><line x1="567" y1="358.5" x2="565.5" y2="362" stroke="#d8e6f6" stroke-width="0.34" opacity="0.6"/>
<line x1="569.5" y1="365.5" x2="562.5" y2="374.5" stroke="#4a80c4" stroke-width="1.15" stroke-linecap="round"/><line x1="569.5" y1="365.5" x2="575.5" y2="375.5" stroke="#4a80c4" stroke-width="1.15" stroke-linecap="round"/><line x1="569.5" y1="365.5" x2="564" y2="371" stroke="#4a80c4" stroke-width="1.15" stroke-linecap="round"/><line x1="569.5" y1="365.5" x2="576.5" y2="371.5" stroke="#4a80c4" stroke-width="1.15" stroke-linecap="round"/><line x1="569.5" y1="380.5" x2="562.5" y2="374.5" stroke="#4a80c4" stroke-width="1.15" stroke-linecap="round"/><line x1="569.5" y1="380.5" x2="575.5" y2="375.5" stroke="#4a80c4" stroke-width="1.15" stroke-linecap="round"/><line x1="569.5" y1="380.5" x2="564" y2="371" stroke="#4a80c4" stroke-width="1.15" stroke-linecap="round"/><line x1="569.5" y1="380.5" x2="576.5" y2="371.5" stroke="#4a80c4" stroke-width="1.15" stroke-linecap="round"/><line x1="562.5" y1="374.5" x2="575.5" y2="375.5" stroke="#4a80c4" stroke-width="1.15" stroke-linecap="round"/><line x1="575.5" y1="375.5" x2="576.5" y2="371.5" stroke="#4a80c4" stroke-width="1.15" stroke-linecap="round"/><line x1="576.5" y1="371.5" x2="564" y2="371" stroke="#4a80c4" stroke-width="1.15" stroke-linecap="round"/><line x1="564" y1="371" x2="562.5" y2="374.5" stroke="#4a80c4" stroke-width="1.15" stroke-linecap="round"/><line x1="569.5" y1="365.5" x2="562.5" y2="374.5" stroke="#d8e6f6" stroke-width="0.34" opacity="0.6"/><line x1="569.5" y1="365.5" x2="575.5" y2="375.5" stroke="#d8e6f6" stroke-width="0.34" opacity="0.6"/><line x1="569.5" y1="365.5" x2="564" y2="371" stroke="#d8e6f6" stroke-width="0.34" opacity="0.6"/><line x1="569.5" y1="365.5" x2="576.5" y2="371.5" stroke="#d8e6f6" stroke-width="0.34" opacity="0.6"/><line x1="569.5" y1="380.5" x2="562.5" y2="374.5" stroke="#d8e6f6" stroke-width="0.34" opacity="0.6"/><line x1="569.5" y1="380.5" x2="575.5" y2="375.5" stroke="#d8e6f6" stroke-width="0.34" opacity="0.6"/><line x1="569.5" y1="380.5" x2="564" y2="371" stroke="#d8e6f6" stroke-width="0.34" opacity="0.6"/><line x1="569.5" y1="380.5" x2="576.5" y2="371.5" stroke="#d8e6f6" stroke-width="0.34" opacity="0.6"/><line x1="562.5" y1="374.5" x2="575.5" y2="375.5" stroke="#d8e6f6" stroke-width="0.34" opacity="0.6"/><line x1="575.5" y1="375.5" x2="576.5" y2="371.5" stroke="#d8e6f6" stroke-width="0.34" opacity="0.6"/><line x1="576.5" y1="371.5" x2="564" y2="371" stroke="#d8e6f6" stroke-width="0.34" opacity="0.6"/><line x1="564" y1="371" x2="562.5" y2="374.5" stroke="#d8e6f6" stroke-width="0.34" opacity="0.6"/>
<line x1="590" y1="337.5" x2="583" y2="346.5" stroke="#4a80c4" stroke-width="1.15" stroke-linecap="round"/><line x1="590" y1="337.5" x2="596" y2="347.5" stroke="#4a80c4" stroke-width="1.15" stroke-linecap="round"/><line x1="590" y1="337.5" x2="584.5" y2="343" stroke="#4a80c4" stroke-width="1.15" stroke-linecap="round"/><line x1="590" y1="337.5" x2="597" y2="343.5" stroke="#4a80c4" stroke-width="1.15" stroke-linecap="round"/><line x1="590" y1="352.5" x2="583" y2="346.5" stroke="#4a80c4" stroke-width="1.15" stroke-linecap="round"/><line x1="590" y1="352.5" x2="596" y2="347.5" stroke="#4a80c4" stroke-width="1.15" stroke-linecap="round"/><line x1="590" y1="352.5" x2="584.5" y2="343" stroke="#4a80c4" stroke-width="1.15" stroke-linecap="round"/><line x1="590" y1="352.5" x2="597" y2="343.5" stroke="#4a80c4" stroke-width="1.15" stroke-linecap="round"/><line x1="583" y1="346.5" x2="596" y2="347.5" stroke="#4a80c4" stroke-width="1.15" stroke-linecap="round"/><line x1="596" y1="347.5" x2="597" y2="343.5" stroke="#4a80c4" stroke-width="1.15" stroke-linecap="round"/><line x1="597" y1="343.5" x2="584.5" y2="343" stroke="#4a80c4" stroke-width="1.15" stroke-linecap="round"/><line x1="584.5" y1="343" x2="583" y2="346.5" stroke="#4a80c4" stroke-width="1.15" stroke-linecap="round"/><line x1="590" y1="337.5" x2="583" y2="346.5" stroke="#d8e6f6" stroke-width="0.34" opacity="0.6"/><line x1="590" y1="337.5" x2="596" y2="347.5" stroke="#d8e6f6" stroke-width="0.34" opacity="0.6"/><line x1="590" y1="337.5" x2="584.5" y2="343" stroke="#d8e6f6" stroke-width="0.34" opacity="0.6"/><line x1="590" y1="337.5" x2="597" y2="343.5" stroke="#d8e6f6" stroke-width="0.34" opacity="0.6"/><line x1="590" y1="352.5" x2="583" y2="346.5" stroke="#d8e6f6" stroke-width="0.34" opacity="0.6"/><line x1="590" y1="352.5" x2="596" y2="347.5" stroke="#d8e6f6" stroke-width="0.34" opacity="0.6"/><line x1="590" y1="352.5" x2="584.5" y2="343" stroke="#d8e6f6" stroke-width="0.34" opacity="0.6"/><line x1="590" y1="352.5" x2="597" y2="343.5" stroke="#d8e6f6" stroke-width="0.34" opacity="0.6"/><line x1="583" y1="346.5" x2="596" y2="347.5" stroke="#d8e6f6" stroke-width="0.34" opacity="0.6"/><line x1="596" y1="347.5" x2="597" y2="343.5" stroke="#d8e6f6" stroke-width="0.34" opacity="0.6"/><line x1="597" y1="343.5" x2="584.5" y2="343" stroke="#d8e6f6" stroke-width="0.34" opacity="0.6"/><line x1="584.5" y1="343" x2="583" y2="346.5" stroke="#d8e6f6" stroke-width="0.34" opacity="0.6"/>
<line x1="587" y1="350" x2="580" y2="359" stroke="#4a80c4" stroke-width="1.15" stroke-linecap="round"/><line x1="587" y1="350" x2="593" y2="360" stroke="#4a80c4" stroke-width="1.15" stroke-linecap="round"/><line x1="587" y1="350" x2="581.5" y2="355.5" stroke="#4a80c4" stroke-width="1.15" stroke-linecap="round"/><line x1="587" y1="350" x2="594" y2="356" stroke="#4a80c4" stroke-width="1.15" stroke-linecap="round"/><line x1="587" y1="365" x2="580" y2="359" stroke="#4a80c4" stroke-width="1.15" stroke-linecap="round"/><line x1="587" y1="365" x2="593" y2="360" stroke="#4a80c4" stroke-width="1.15" stroke-linecap="round"/><line x1="587" y1="365" x2="581.5" y2="355.5" stroke="#4a80c4" stroke-width="1.15" stroke-linecap="round"/><line x1="587" y1="365" x2="594" y2="356" stroke="#4a80c4" stroke-width="1.15" stroke-linecap="round"/><line x1="580" y1="359" x2="593" y2="360" stroke="#4a80c4" stroke-width="1.15" stroke-linecap="round"/><line x1="593" y1="360" x2="594" y2="356" stroke="#4a80c4" stroke-width="1.15" stroke-linecap="round"/><line x1="594" y1="356" x2="581.5" y2="355.5" stroke="#4a80c4" stroke-width="1.15" stroke-linecap="round"/><line x1="581.5" y1="355.5" x2="580" y2="359" stroke="#4a80c4" stroke-width="1.15" stroke-linecap="round"/><line x1="587" y1="350" x2="580" y2="359" stroke="#d8e6f6" stroke-width="0.34" opacity="0.6"/><line x1="587" y1="350" x2="593" y2="360" stroke="#d8e6f6" stroke-width="0.34" opacity="0.6"/><line x1="587" y1="350" x2="581.5" y2="355.5" stroke="#d8e6f6" stroke-width="0.34" opacity="0.6"/><line x1="587" y1="350" x2="594" y2="356" stroke="#d8e6f6" stroke-width="0.34" opacity="0.6"/><line x1="587" y1="365" x2="580" y2="359" stroke="#d8e6f6" stroke-width="0.34" opacity="0.6"/><line x1="587" y1="365" x2="593" y2="360" stroke="#d8e6f6" stroke-width="0.34" opacity="0.6"/><line x1="587" y1="365" x2="581.5" y2="355.5" stroke="#d8e6f6" stroke-width="0.34" opacity="0.6"/><line x1="587" y1="365" x2="594" y2="356" stroke="#d8e6f6" stroke-width="0.34" opacity="0.6"/><line x1="580" y1="359" x2="593" y2="360" stroke="#d8e6f6" stroke-width="0.34" opacity="0.6"/><line x1="593" y1="360" x2="594" y2="356" stroke="#d8e6f6" stroke-width="0.34" opacity="0.6"/><line x1="594" y1="356" x2="581.5" y2="355.5" stroke="#d8e6f6" stroke-width="0.34" opacity="0.6"/><line x1="581.5" y1="355.5" x2="580" y2="359" stroke="#d8e6f6" stroke-width="0.34" opacity="0.6"/>
<line x1="584" y1="362.5" x2="577" y2="371.5" stroke="#4a80c4" stroke-width="1.15" stroke-linecap="round"/><line x1="584" y1="362.5" x2="590" y2="372.5" stroke="#4a80c4" stroke-width="1.15" stroke-linecap="round"/><line x1="584" y1="362.5" x2="578.5" y2="368" stroke="#4a80c4" stroke-width="1.15" stroke-linecap="round"/><line x1="584" y1="362.5" x2="591" y2="368.5" stroke="#4a80c4" stroke-width="1.15" stroke-linecap="round"/><line x1="584" y1="377.5" x2="577" y2="371.5" stroke="#4a80c4" stroke-width="1.15" stroke-linecap="round"/><line x1="584" y1="377.5" x2="590" y2="372.5" stroke="#4a80c4" stroke-width="1.15" stroke-linecap="round"/><line x1="584" y1="377.5" x2="578.5" y2="368" stroke="#4a80c4" stroke-width="1.15" stroke-linecap="round"/><line x1="584" y1="377.5" x2="591" y2="368.5" stroke="#4a80c4" stroke-width="1.15" stroke-linecap="round"/><line x1="577" y1="371.5" x2="590" y2="372.5" stroke="#4a80c4" stroke-width="1.15" stroke-linecap="round"/><line x1="590" y1="372.5" x2="591" y2="368.5" stroke="#4a80c4" stroke-width="1.15" stroke-linecap="round"/><line x1="591" y1="368.5" x2="578.5" y2="368" stroke="#4a80c4" stroke-width="1.15" stroke-linecap="round"/><line x1="578.5" y1="368" x2="577" y2="371.5" stroke="#4a80c4" stroke-width="1.15" stroke-linecap="round"/><line x1="584" y1="362.5" x2="577" y2="371.5" stroke="#d8e6f6" stroke-width="0.34" opacity="0.6"/><line x1="584" y1="362.5" x2="590" y2="372.5" stroke="#d8e6f6" stroke-width="0.34" opacity="0.6"/><line x1="584" y1="362.5" x2="578.5" y2="368" stroke="#d8e6f6" stroke-width="0.34" opacity="0.6"/><line x1="584" y1="362.5" x2="591" y2="368.5" stroke="#d8e6f6" stroke-width="0.34" opacity="0.6"/><line x1="584" y1="377.5" x2="577" y2="371.5" stroke="#d8e6f6" stroke-width="0.34" opacity="0.6"/><line x1="584" y1="377.5" x2="590" y2="372.5" stroke="#d8e6f6" stroke-width="0.34" opacity="0.6"/><line x1="584" y1="377.5" x2="578.5" y2="368" stroke="#d8e6f6" stroke-width="0.34" opacity="0.6"/><line x1="584" y1="377.5" x2="591" y2="368.5" stroke="#d8e6f6" stroke-width="0.34" opacity="0.6"/><line x1="577" y1="371.5" x2="590" y2="372.5" stroke="#d8e6f6" stroke-width="0.34" opacity="0.6"/><line x1="590" y1="372.5" x2="591" y2="368.5" stroke="#d8e6f6" stroke-width="0.34" opacity="0.6"/><line x1="591" y1="368.5" x2="578.5" y2="368" stroke="#d8e6f6" stroke-width="0.34" opacity="0.6"/><line x1="578.5" y1="368" x2="577" y2="371.5" stroke="#d8e6f6" stroke-width="0.34" opacity="0.6"/>
</g>
<g>
<path d="M429,434.6L426.2,446.4M429,434.6L431.8,443.2M429,455L426.2,446.4M429,455L431.8,443.2M418.8,444.8L426.2,446.4M426.2,446.4L439.2,444.8M439.2,444.8L431.8,443.2M431.8,443.2L418.8,444.8" fill="none" stroke="#dcdcdc" stroke-width="0.88"/>
<path d="M429,434.6L418.8,444.8M429,434.6L439.2,444.8M429,455L418.8,444.8M429,455L439.2,444.8" fill="none" stroke="#c8c8c8" stroke-width="1.1"/>
<path d="M449.5,434.6L446.7,446.4M449.5,434.6L452.3,443.2M449.5,455L446.7,446.4M449.5,455L452.3,443.2M439.3,444.8L446.7,446.4M446.7,446.4L459.7,444.8M459.7,444.8L452.3,443.2M452.3,443.2L439.3,444.8" fill="none" stroke="#dcdcdc" stroke-width="0.88"/>
<path d="M449.5,434.6L439.3,444.8M449.5,434.6L459.7,444.8M449.5,455L439.3,444.8M449.5,455L459.7,444.8" fill="none" stroke="#c8c8c8" stroke-width="1.1"/>
<path d="M470,434.6L467.2,446.4M470,434.6L472.8,443.2M470,455L467.2,446.4M470,455L472.8,443.2M459.8,444.8L467.2,446.4M467.2,446.4L480.2,444.8M480.2,444.8L472.8,443.2M472.8,443.2L459.8,444.8" fill="none" stroke="#dcdcdc" stroke-width="0.88"/>
<path d="M470,434.6L459.8,444.8M470,434.6L480.2,444.8M470,455L459.8,444.8M470,455L480.2,444.8" fill="none" stroke="#c8c8c8" stroke-width="1.1"/>
<path d="M429,454L426.2,465.8M429,454L431.8,462.6M429,474.4L426.2,465.8M429,474.4L431.8,462.6M418.8,464.2L426.2,465.8M426.2,465.8L439.2,464.2M439.2,464.2L431.8,462.6M431.8,462.6L418.8,464.2" fill="none" stroke="#dcdcdc" stroke-width="0.88"/>
<path d="M429,454L418.8,464.2M429,454L439.2,464.2M429,474.4L418.8,464.2M429,474.4L439.2,464.2" fill="none" stroke="#c8c8c8" stroke-width="1.1"/>
<path d="M449.5,454L446.7,465.8M449.5,454L452.3,462.6M449.5,474.4L446.7,465.8M449.5,474.4L452.3,462.6M439.3,464.2L446.7,465.8M446.7,465.8L459.7,464.2M459.7,464.2L452.3,462.6M452.3,462.6L439.3,464.2" fill="none" stroke="#dcdcdc" stroke-width="0.88"/>
<path d="M449.5,454L439.3,464.2M449.5,454L459.7,464.2M449.5,474.4L439.3,464.2M449.5,474.4L459.7,464.2" fill="none" stroke="#c8c8c8" stroke-width="1.1"/>
<path d="M470,454L467.2,465.8M470,454L472.8,462.6M470,474.4L467.2,465.8M470,474.4L472.8,462.6M459.8,464.2L467.2,465.8M467.2,465.8L480.2,464.2M480.2,464.2L472.8,462.6M472.8,462.6L459.8,464.2" fill="none" stroke="#dcdcdc" stroke-width="0.88"/>
<path d="M470,454L459.8,464.2M470,454L480.2,464.2M470,474.4L459.8,464.2M470,474.4L480.2,464.2" fill="none" stroke="#c8c8c8" stroke-width="1.1"/>
<path d="M429,473.4L426.2,485.2M429,473.4L431.8,482M429,493.8L426.2,485.2M429,493.8L431.8,482M418.8,483.6L426.2,485.2M426.2,485.2L439.2,483.6M439.2,483.6L431.8,482M431.8,482L418.8,483.6" fill="none" stroke="#dcdcdc" stroke-width="0.88"/>
<path d="M429,473.4L418.8,483.6M429,473.4L439.2,483.6M429,493.8L418.8,483.6M429,493.8L439.2,483.6" fill="none" stroke="#c8c8c8" stroke-width="1.1"/>
<path d="M449.5,473.4L446.7,485.2M449.5,473.4L452.3,482M449.5,493.8L446.7,485.2M449.5,493.8L452.3,482M439.3,483.6L446.7,485.2M446.7,485.2L459.7,483.6M459.7,483.6L452.3,482M452.3,482L439.3,483.6" fill="none" stroke="#dcdcdc" stroke-width="0.88"/>
<path d="M449.5,473.4L439.3,483.6M449.5,473.4L459.7,483.6M449.5,493.8L439.3,483.6M449.5,493.8L459.7,483.6" fill="none" stroke="#c8c8c8" stroke-width="1.1"/>
<path d="M470,473.4L467.2,485.2M470,473.4L472.8,482M470,493.8L467.2,485.2M470,493.8L472.8,482M459.8,483.6L467.2,485.2M467.2,485.2L480.2,483.6M480.2,483.6L472.8,482M472.8,482L459.8,483.6" fill="none" stroke="#dcdcdc" stroke-width="0.88"/>
<path d="M470,473.4L459.8,483.6M470,473.4L480.2,483.6M470,493.8L459.8,483.6M470,493.8L480.2,483.6" fill="none" stroke="#c8c8c8" stroke-width="1.1"/>
<path d="M440.5,447.4L437.7,459.2M440.5,447.4L443.3,456M440.5,467.8L437.7,459.2M440.5,467.8L443.3,456M430.3,457.6L437.7,459.2M437.7,459.2L450.7,457.6M450.7,457.6L443.3,456M443.3,456L430.3,457.6" fill="none" stroke="#c9a177" stroke-width="1.28"/>
<path d="M440.5,447.4L430.3,457.6M440.5,447.4L450.7,457.6M440.5,467.8L430.3,457.6M440.5,467.8L450.7,457.6" fill="none" stroke="#3a2c22" stroke-width="1.6"/>
<path d="M461,447.4L458.2,459.2M461,447.4L463.8,456M461,467.8L458.2,459.2M461,467.8L463.8,456M450.8,457.6L458.2,459.2M458.2,459.2L471.2,457.6M471.2,457.6L463.8,456M463.8,456L450.8,457.6" fill="none" stroke="#c9a177" stroke-width="1.28"/>
<path d="M461,447.4L450.8,457.6M461,447.4L471.2,457.6M461,467.8L450.8,457.6M461,467.8L471.2,457.6" fill="none" stroke="#3a2c22" stroke-width="1.6"/>
<path d="M481.5,447.4L478.7,459.2M481.5,447.4L484.3,456M481.5,467.8L478.7,459.2M481.5,467.8L484.3,456M471.3,457.6L478.7,459.2M478.7,459.2L491.7,457.6M491.7,457.6L484.3,456M484.3,456L471.3,457.6" fill="none" stroke="#c9a177" stroke-width="1.28"/>
<path d="M481.5,447.4L471.3,457.6M481.5,447.4L491.7,457.6M481.5,467.8L471.3,457.6M481.5,467.8L491.7,457.6" fill="none" stroke="#3a2c22" stroke-width="1.6"/>
<path d="M440.5,466.8L437.7,478.6M440.5,466.8L443.3,475.4M440.5,487.2L437.7,478.6M440.5,487.2L443.3,475.4M430.3,477L437.7,478.6M437.7,478.6L450.7,477M450.7,477L443.3,475.4M443.3,475.4L430.3,477" fill="none" stroke="#c9a177" stroke-width="1.28"/>
<path d="M440.5,466.8L430.3,477M440.5,466.8L450.7,477M440.5,487.2L430.3,477M440.5,487.2L450.7,477" fill="none" stroke="#3a2c22" stroke-width="1.6"/>
<path d="M461,466.8L458.2,478.6M461,466.8L463.8,475.4M461,487.2L458.2,478.6M461,487.2L463.8,475.4M450.8,477L458.2,478.6M458.2,478.6L471.2,477M471.2,477L463.8,475.4M463.8,475.4L450.8,477" fill="none" stroke="#c9a177" stroke-width="1.28"/>
<path d="M461,466.8L450.8,477M461,466.8L471.2,477M461,487.2L450.8,477M461,487.2L471.2,477" fill="none" stroke="#3a2c22" stroke-width="1.6"/>
<path d="M481.5,466.8L478.7,478.6M481.5,466.8L484.3,475.4M481.5,487.2L478.7,478.6M481.5,487.2L484.3,475.4M471.3,477L478.7,478.6M478.7,478.6L491.7,477M491.7,477L484.3,475.4M484.3,475.4L471.3,477" fill="none" stroke="#c9a177" stroke-width="1.28"/>
<path d="M481.5,466.8L471.3,477M481.5,466.8L491.7,477M481.5,487.2L471.3,477M481.5,487.2L491.7,477" fill="none" stroke="#3a2c22" stroke-width="1.6"/>
<path d="M440.5,487.4L437.7,499.2M440.5,487.4L443.3,496M440.5,507.8L437.7,499.2M440.5,507.8L443.3,496M430.3,497.6L437.7,499.2M437.7,499.2L450.7,497.6M450.7,497.6L443.3,496M443.3,496L430.3,497.6" fill="none" stroke="#c9a177" stroke-width="1.28"/>
<path d="M440.5,487.4L430.3,497.6M440.5,487.4L450.7,497.6M440.5,507.8L430.3,497.6M440.5,507.8L450.7,497.6" fill="none" stroke="#3a2c22" stroke-width="1.6"/>
<path d="M461,487.4L458.2,499.2M461,487.4L463.8,496M461,507.8L458.2,499.2M461,507.8L463.8,496M450.8,497.6L458.2,499.2M458.2,499.2L471.2,497.6M471.2,497.6L463.8,496M463.8,496L450.8,497.6" fill="none" stroke="#c9a177" stroke-width="1.28"/>
<path d="M461,487.4L450.8,497.6M461,487.4L471.2,497.6M461,507.8L450.8,497.6M461,507.8L471.2,497.6" fill="none" stroke="#3a2c22" stroke-width="1.6"/>
<path d="M481.5,487.4L478.7,499.2M481.5,487.4L484.3,496M481.5,507.8L478.7,499.2M481.5,507.8L484.3,496M471.3,497.6L478.7,499.2M478.7,499.2L491.7,497.6M491.7,497.6L484.3,496M484.3,496L471.3,497.6" fill="none" stroke="#c9a177" stroke-width="1.28"/>
<path d="M481.5,487.4L471.3,497.6M481.5,487.4L491.7,497.6M481.5,507.8L471.3,497.6M481.5,507.8L491.7,497.6" fill="none" stroke="#3a2c22" stroke-width="1.6"/>
<path d="M458.5,461.3L455.7,473.1M458.5,461.3L461.3,469.9M458.5,481.7L455.7,473.1M458.5,481.7L461.3,469.9M448.3,471.5L455.7,473.1M455.7,473.1L468.7,471.5M468.7,471.5L461.3,469.9M461.3,469.9L448.3,471.5" fill="none" stroke="#44a04b" stroke-width="1.36"/>
<path d="M458.5,461.3L448.3,471.5M458.5,461.3L468.7,471.5M458.5,481.7L448.3,471.5M458.5,481.7L468.7,471.5" fill="none" stroke="#3a8f40" stroke-width="1.7"/>
<path d="M478,461.3L475.2,473.1M478,461.3L480.8,469.9M478,481.7L475.2,473.1M478,481.7L480.8,469.9M467.8,471.5L475.2,473.1M475.2,473.1L488.2,471.5M488.2,471.5L480.8,469.9M480.8,469.9L467.8,471.5" fill="none" stroke="#44a04b" stroke-width="1.36"/>
<path d="M478,461.3L467.8,471.5M478,461.3L488.2,471.5M478,481.7L467.8,471.5M478,481.7L488.2,471.5" fill="none" stroke="#3a8f40" stroke-width="1.7"/>
<path d="M497.5,461.3L494.7,473.1M497.5,461.3L500.3,469.9M497.5,481.7L494.7,473.1M497.5,481.7L500.3,469.9M487.3,471.5L494.7,473.1M494.7,473.1L507.7,471.5M507.7,471.5L500.3,469.9M500.3,469.9L487.3,471.5" fill="none" stroke="#44a04b" stroke-width="1.36"/>
<path d="M497.5,461.3L487.3,471.5M497.5,461.3L507.7,471.5M497.5,481.7L487.3,471.5M497.5,481.7L507.7,471.5" fill="none" stroke="#3a8f40" stroke-width="1.7"/>
<path d="M458.5,480.8L455.7,492.6M458.5,480.8L461.3,489.4M458.5,501.2L455.7,492.6M458.5,501.2L461.3,489.4M448.3,491L455.7,492.6M455.7,492.6L468.7,491M468.7,491L461.3,489.4M461.3,489.4L448.3,491" fill="none" stroke="#44a04b" stroke-width="1.36"/>
<path d="M458.5,480.8L448.3,491M458.5,480.8L468.7,491M458.5,501.2L448.3,491M458.5,501.2L468.7,491" fill="none" stroke="#3a8f40" stroke-width="1.7"/>
<path d="M478,480.8L475.2,492.6M478,480.8L480.8,489.4M478,501.2L475.2,492.6M478,501.2L480.8,489.4M467.8,491L475.2,492.6M475.2,492.6L488.2,491M488.2,491L480.8,489.4M480.8,489.4L467.8,491" fill="none" stroke="#44a04b" stroke-width="1.36"/>
<path d="M478,480.8L467.8,491M478,480.8L488.2,491M478,501.2L467.8,491M478,501.2L488.2,491" fill="none" stroke="#3a8f40" stroke-width="1.7"/>
<path d="M497.5,480.8L494.7,492.6M497.5,480.8L500.3,489.4M497.5,501.2L494.7,492.6M497.5,501.2L500.3,489.4M487.3,491L494.7,492.6M494.7,492.6L507.7,491M507.7,491L500.3,489.4M500.3,489.4L487.3,491" fill="none" stroke="#44a04b" stroke-width="1.36"/>
<path d="M497.5,480.8L487.3,491M497.5,480.8L507.7,491M497.5,501.2L487.3,491M497.5,501.2L507.7,491" fill="none" stroke="#3a8f40" stroke-width="1.7"/>
<path d="M458.5,499.8L455.7,511.6M458.5,499.8L461.3,508.4M458.5,520.2L455.7,511.6M458.5,520.2L461.3,508.4M448.3,510L455.7,511.6M455.7,511.6L468.7,510M468.7,510L461.3,508.4M461.3,508.4L448.3,510" fill="none" stroke="#44a04b" stroke-width="1.36"/>
<path d="M458.5,499.8L448.3,510M458.5,499.8L468.7,510M458.5,520.2L448.3,510M458.5,520.2L468.7,510" fill="none" stroke="#3a8f40" stroke-width="1.7"/>
<path d="M478,499.8L475.2,511.6M478,499.8L480.8,508.4M478,520.2L475.2,511.6M478,520.2L480.8,508.4M467.8,510L475.2,511.6M475.2,511.6L488.2,510M488.2,510L480.8,508.4M480.8,508.4L467.8,510" fill="none" stroke="#44a04b" stroke-width="1.36"/>
<path d="M478,499.8L467.8,510M478,499.8L488.2,510M478,520.2L467.8,510M478,520.2L488.2,510" fill="none" stroke="#3a8f40" stroke-width="1.7"/>
<path d="M497.5,499.8L494.7,511.6M497.5,499.8L500.3,508.4M497.5,520.2L494.7,511.6M497.5,520.2L500.3,508.4M487.3,510L494.7,511.6M494.7,511.6L507.7,510M507.7,510L500.3,508.4M500.3,508.4L487.3,510" fill="none" stroke="#44a04b" stroke-width="1.36"/>
<path d="M497.5,499.8L487.3,510M497.5,499.8L507.7,510M497.5,520.2L487.3,510M497.5,520.2L507.7,510" fill="none" stroke="#3a8f40" stroke-width="1.7"/>
</g>
<defs><linearGradient id="gp" x1="0" y1="0" x2="1" y2="1"><stop offset="0" stop-color="#e878b8"/><stop offset="0.5" stop-color="#d0449a"/><stop offset="1" stop-color="#a02a72"/></linearGradient></defs>
<g>
<path d="M343,497 H394 V548 H343 Z M357,491 H408 V541 M343,497 L357,491 M394,497 L408,491 M394,548 L408,541 M343,548 L357,542 V491" fill="none" stroke="#8090b0" stroke-width="0.7"/>
<line x1="334.4" y1="499.6" x2="398.3" y2="555" stroke="#9c2c70" stroke-width="13" stroke-linecap="round"/>
<line x1="345.3" y1="489.5" x2="371.8" y2="516.8" stroke="#9c2c70" stroke-width="13" stroke-linecap="round"/>
<line x1="378.8" y1="487.9" x2="406.1" y2="516.8" stroke="#9c2c70" stroke-width="13" stroke-linecap="round"/>
<line x1="410.8" y1="486.4" x2="353.1" y2="543.3" stroke="#9c2c70" stroke-width="13" stroke-linecap="round"/>
<line x1="378.8" y1="487.9" x2="342.2" y2="523.8" stroke="#9c2c70" stroke-width="13" stroke-linecap="round"/>
<line x1="404.6" y1="515.2" x2="371.8" y2="554.2" stroke="#9c2c70" stroke-width="13" stroke-linecap="round"/>
<line x1="371.8" y1="516.8" x2="390.5" y2="557.4" stroke="#9c2c70" stroke-width="13" stroke-linecap="round"/>
<line x1="409.2" y1="493.4" x2="412.4" y2="523" stroke="#9c2c70" stroke-width="13" stroke-linecap="round"/>
<line x1="334.4" y1="499.6" x2="398.3" y2="555" stroke="#cf4699" stroke-width="9.5" stroke-linecap="round"/>
<line x1="345.3" y1="489.5" x2="371.8" y2="516.8" stroke="#cf4699" stroke-width="9.5" stroke-linecap="round"/>
<line x1="378.8" y1="487.9" x2="406.1" y2="516.8" stroke="#cf4699" stroke-width="9.5" stroke-linecap="round"/>
<line x1="410.8" y1="486.4" x2="353.1" y2="543.3" stroke="#cf4699" stroke-width="9.5" stroke-linecap="round"/>
<line x1="378.8" y1="487.9" x2="342.2" y2="523.8" stroke="#cf4699" stroke-width="9.5" stroke-linecap="round"/>
<line x1="404.6" y1="515.2" x2="371.8" y2="554.2" stroke="#cf4699" stroke-width="9.5" stroke-linecap="round"/>
<line x1="371.8" y1="516.8" x2="390.5" y2="557.4" stroke="#cf4699" stroke-width="9.5" stroke-linecap="round"/>
<line x1="409.2" y1="493.4" x2="412.4" y2="523" stroke="#cf4699" stroke-width="9.5" stroke-linecap="round"/>
<line x1="333.4" y1="498.6" x2="397.3" y2="554" stroke="#ea8cc4" stroke-width="3" stroke-linecap="round" opacity="0.8"/>
<line x1="344.3" y1="488.5" x2="370.8" y2="515.8" stroke="#ea8cc4" stroke-width="3" stroke-linecap="round" opacity="0.8"/>
<line x1="377.8" y1="486.9" x2="405.1" y2="515.8" stroke="#ea8cc4" stroke-width="3" stroke-linecap="round" opacity="0.8"/>
<line x1="409.8" y1="485.4" x2="352.1" y2="542.3" stroke="#ea8cc4" stroke-width="3" stroke-linecap="round" opacity="0.8"/>
<line x1="377.8" y1="486.9" x2="341.2" y2="522.8" stroke="#ea8cc4" stroke-width="3" stroke-linecap="round" opacity="0.8"/>
<line x1="403.6" y1="514.2" x2="370.8" y2="553.2" stroke="#ea8cc4" stroke-width="3" stroke-linecap="round" opacity="0.8"/>
<line x1="370.8" y1="515.8" x2="389.5" y2="556.4" stroke="#ea8cc4" stroke-width="3" stroke-linecap="round" opacity="0.8"/>
<line x1="408.2" y1="492.4" x2="411.4" y2="522" stroke="#ea8cc4" stroke-width="3" stroke-linecap="round" opacity="0.8"/>
<circle cx="353.1" cy="516.8" r="4" fill="#6a2050" opacity="0.55"/>
<circle cx="360.9" cy="535.5" r="4" fill="#6a2050" opacity="0.55"/>
<circle cx="384.3" cy="509" r="4" fill="#6a2050" opacity="0.55"/>
<circle cx="376.5" cy="540.2" r="4" fill="#6a2050" opacity="0.55"/>
<circle cx="390.5" cy="529.3" r="4" fill="#6a2050" opacity="0.55"/>
<circle cx="345.3" cy="489.5" r="6.8" fill="#d9529f" stroke="#a8347a" stroke-width="0.8"/>
<circle cx="345.3" cy="489.5" r="2.8" fill="#e8e8e8" stroke="#bbb" stroke-width="0.5"/>
<circle cx="378.8" cy="487.9" r="6.8" fill="#d9529f" stroke="#a8347a" stroke-width="0.8"/>
<circle cx="378.8" cy="487.9" r="2.8" fill="#e8e8e8" stroke="#bbb" stroke-width="0.5"/>
<circle cx="410.8" cy="486.4" r="6.8" fill="#d9529f" stroke="#a8347a" stroke-width="0.8"/>
<circle cx="410.8" cy="486.4" r="2.8" fill="#e8e8e8" stroke="#bbb" stroke-width="0.5"/>
<circle cx="371" cy="517.6" r="6.8" fill="#d9529f" stroke="#a8347a" stroke-width="0.8"/>
<circle cx="371" cy="517.6" r="2.8" fill="#e8e8e8" stroke="#bbb" stroke-width="0.5"/>
<circle cx="404.6" cy="515.2" r="6.8" fill="#d9529f" stroke="#a8347a" stroke-width="0.8"/>
<circle cx="404.6" cy="515.2" r="2.8" fill="#e8e8e8" stroke="#bbb" stroke-width="0.5"/>
<circle cx="398.3" cy="545.7" r="6.8" fill="#d9529f" stroke="#a8347a" stroke-width="0.8"/>
<circle cx="398.3" cy="545.7" r="2.8" fill="#e8e8e8" stroke="#bbb" stroke-width="0.5"/>
<circle cx="334.4" cy="499.6" r="6.2" fill="#cf4898"/>
<rect x="331.4" y="500.6" width="4" height="2" fill="#707070" opacity="0.7"/>
<circle cx="343.7" cy="521.5" r="6.2" fill="#cf4898"/>
<rect x="340.7" y="522.5" width="4" height="2" fill="#707070" opacity="0.7"/>
<circle cx="353.1" cy="538.6" r="6.2" fill="#cf4898"/>
<rect x="350.1" y="539.6" width="4" height="2" fill="#707070" opacity="0.7"/>
<circle cx="371.8" cy="554.2" r="6.2" fill="#cf4898"/>
<rect x="368.8" y="555.2" width="4" height="2" fill="#707070" opacity="0.7"/>
<circle cx="390.5" cy="557.4" r="6.2" fill="#cf4898"/>
<rect x="387.5" y="558.4" width="4" height="2" fill="#707070" opacity="0.7"/>
<circle cx="412.4" cy="498.1" r="6.2" fill="#cf4898"/>
<rect x="409.4" y="499.1" width="4" height="2" fill="#707070" opacity="0.7"/>
<circle cx="409.2" cy="523" r="6.2" fill="#cf4898"/>
<rect x="406.2" y="524" width="4" height="2" fill="#707070" opacity="0.7"/>
<path d="M343,497 H394 V548 H343 Z M394,497 L408,491 M394,548 L408,541 M408,491 V541" fill="none" stroke="#6878a0" stroke-width="0.7" opacity="0.85"/>
</g>
<!-- frame -->
<path d="M611.9,298.5 L611.5,308.5 L610.8,318.4 L609.7,328.3 L608.3,338.2 L606.6,348.0 L604.6,357.7 L602.3,367.4 L599.7,377.0 L596.7,386.5 L593.5,395.8 L589.9,405.1 L586.0,414.3 L581.8,423.3 L577.4,432.2 L572.6,440.9 L567.5,449.4 L562.2,457.8 L556.5,466.0 L550.6,474.0 L544.4,481.7 L537.9,489.3 L531.1,496.6 L524.1,503.7 L516.9,510.5 L509.4,517.0 L501.7,523.3 L493.7,529.3 L485.6,535.1 L477.2,540.5 L468.7,545.6 L460.0,550.5 L451.1,555.0 L442.1,559.2 L432.9,563.1 L423.6,566.7 L414.2,569.9 L404.7,572.8 L395.0,575.4 L385.3,577.7 L375.6,579.6 L365.7,581.2 L355.8,582.5 L345.9,583.4 L336.0,584.0 L326.0,584.3 L316.0,584.2 L306.0,583.8 L296.1,583.1 L286.2,582.0 L276.3,580.6 L266.4,578.8 L256.6,576.8 L246.9,574.3 L237.3,571.5 L227.8,568.4 L218.3,565.0 L209.0,561.2 L199.9,557.1 L190.9,552.6 L182.0,547.9 L173.4,542.8 L164.9,537.4 L156.6,531.6 L148.6,525.6 L140.7,519.3 L133.1,512.7 L125.8,505.8 L118.7,498.7 L111.9,491.2 L105.4,483.6 L99.2,475.7 L93.2,467.6 L87.6,459.3 L82.3,450.8 L77.2,442.1 L72.5,433.3 L68.1,424.3 L64.1,415.1 L60.3,405.8 L56.9,396.4 L53.8,386.9 L51.0,377.3 L48.6,367.7 L46.4,357.9 L44.6,348.1 L43.2,338.3 L42.0,328.4 L41.2,318.4 L40.6,308.5 L40.4,298.5 L40.6,288.5 L41.0,278.6 L41.8,268.6 L42.9,258.7 L44.3,248.8 L46.1,239.0 L48.2,229.2 L50.6,219.5 L53.4,209.9 L56.4,200.4 L59.9,191.0 L63.6,181.7 L67.7,172.5 L72.1,163.5 L76.8,154.6 L81.8,145.9 L87.2,137.4 L92.9,129.1 L98.9,121.0 L105.1,113.2 L111.7,105.6 L118.6,98.2 L125.7,91.1 L133.1,84.2 L140.7,77.6 L148.5,71.4 L156.6,65.4 L164.9,59.7 L173.4,54.3 L182.1,49.3 L191.0,44.6 L200.0,40.1 L209.1,36.0 L218.4,32.3 L227.8,28.8 L237.4,25.7 L247.0,22.9 L256.7,20.4 L266.4,18.2 L276.3,16.4 L286.1,14.9 L296.1,13.7 L306.0,12.8 L316.0,12.3 L326.0,12.0 L336.0,12.1 L346.0,12.5 L356.0,13.2 L365.9,14.3 L375.9,15.6 L385.8,17.3 L395.6,19.3 L405.4,21.7 L415.1,24.4 L424.7,27.4 L434.2,30.7 L443.6,34.4 L452.9,38.4 L462.0,42.7 L471.0,47.4 L479.8,52.4 L488.4,57.7 L496.8,63.4 L505.0,69.4 L513.0,75.6 L520.7,82.2 L528.2,89.1 L535.5,96.2 L542.4,103.7 L549.0,111.4 L555.4,119.3 L561.4,127.5 L567.1,135.9 L572.5,144.5 L577.5,153.3 L582.3,162.2 L586.6,171.4 L590.6,180.7 L594.3,190.1 L597.6,199.6 L600.6,209.3 L603.2,219.0 L605.5,228.8 L607.5,238.7 L609.0,248.6 L610.3,258.5 L611.2,268.5 L611.8,278.5 L612.0,288.5 Z" fill="none" stroke="#000" stroke-width="4.3" stroke-linejoin="round"/>
<line x1="40" y1="300.9" x2="612" y2="300.9" stroke="#000" stroke-width="3"/>
<line x1="322.6" y1="13" x2="322.6" y2="585" stroke="#000" stroke-width="3"/>
<circle cx="325" cy="297.7" r="100.3" fill="#F39200" stroke="#000" stroke-width="3.3"/>
<text class="ctr" text-anchor="middle" x="325" y="264.5">DNA lattices</text>
<text class="ctr" text-anchor="middle" x="325" y="294">and their</text>
<text class="ctr" text-anchor="middle" x="325" y="323.5">functional</text>
<text class="ctr" text-anchor="middle" x="328.8" y="351.5">properties</text>
<!-- curved -->
<text class="cur"><textPath href="#arc" startOffset="1022.9" textLength="253.1" lengthAdjust="spacingAndGlyphs">Types of DNA lattices</textPath></text>
<text class="cur"><textPath href="#arc" startOffset="1568.5" textLength="199.4" lengthAdjust="spacingAndGlyphs">Reconfigurability</textPath></text>
<text class="cur"><textPath href="#arc" startOffset="110.6" textLength="204.6" lengthAdjust="spacingAndGlyphs">Inorganic coating</textPath></text>
<text class="cur"><textPath href="#arc" startOffset="526.4" textLength="397.3" lengthAdjust="spacingAndGlyphs">Incorporation of guest molecules</textPath></text>
<!-- labels -->
<text class="lbl" x="206.7" y="55.4" textLength="92.2" lengthAdjust="spacingAndGlyphs">2D vs. 3D</text>
<text class="lbl" x="163.3" y="77.6" textLength="154.1" lengthAdjust="spacingAndGlyphs">tiles vs. origami</text>
<text class="lbl" x="78.8" y="184.9" textLength="134.4" lengthAdjust="spacingAndGlyphs">in solution vs.</text>
<text class="lbl" x="69.1" y="203.7" textLength="160.3" lengthAdjust="spacingAndGlyphs">surface-assisted</text>
<text class="lbl" x="331.0" y="54" textLength="124.9" lengthAdjust="spacingAndGlyphs">Responsivity</text>
<text class="lbl" x="338.8" y="72" textLength="107.9" lengthAdjust="spacingAndGlyphs">to external</text>
<text class="lbl" x="362.8" y="90.8" textLength="67.1" lengthAdjust="spacingAndGlyphs">stimuli</text>
<text class="lbl" x="85.2" y="324" textLength="137.6" lengthAdjust="spacingAndGlyphs">Inorganic NPs</text>
<text class="lbl" x="159.2" y="454.6" textLength="94.8" lengthAdjust="spacingAndGlyphs">Biological</text>
<text class="lbl" x="126.9" y="473.9" textLength="164.6" lengthAdjust="spacingAndGlyphs">macromolecules</text>
<text class="lbl" x="434.0" y="331.4" textLength="49.2" lengthAdjust="spacingAndGlyphs">Silica</text>
<text class="lbl" x="351.2" y="431.7" textLength="191.3" lengthAdjust="spacingAndGlyphs">Additional coatings</text>
</svg>
</body></html>
